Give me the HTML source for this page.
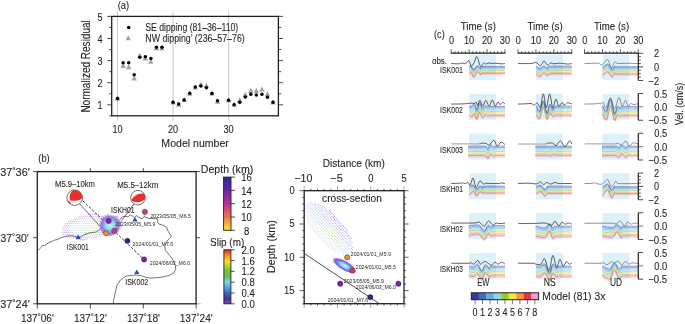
<!DOCTYPE html>
<html><head><meta charset="utf-8"><style>
html,body{margin:0;padding:0;background:#fff;width:685px;height:324px;overflow:hidden}
svg{display:block;will-change:transform}
text{font-family:"Liberation Sans", sans-serif;stroke:#231f20;stroke-width:0.1px}
</style></head><body>
<svg width="685" height="324" viewBox="0 0 685 324">
<rect width="685" height="324" fill="#fff"/>
<line x1="117.55" y1="11.50" x2="117.55" y2="120.60" stroke="#c4c4c4" stroke-width="0.9"/>
<line x1="173.08" y1="11.50" x2="173.08" y2="120.60" stroke="#c4c4c4" stroke-width="0.9"/>
<line x1="228.61" y1="11.50" x2="228.61" y2="120.60" stroke="#c4c4c4" stroke-width="0.9"/>
<line x1="107.20" y1="104.80" x2="111.70" y2="104.80" stroke="#231f20" stroke-width="0.8"/>
<line x1="107.20" y1="82.70" x2="111.70" y2="82.70" stroke="#231f20" stroke-width="0.8"/>
<line x1="107.20" y1="60.60" x2="111.70" y2="60.60" stroke="#231f20" stroke-width="0.8"/>
<line x1="107.20" y1="38.50" x2="111.70" y2="38.50" stroke="#231f20" stroke-width="0.8"/>
<line x1="107.20" y1="16.40" x2="111.70" y2="16.40" stroke="#231f20" stroke-width="0.8"/>
<line x1="109.20" y1="93.75" x2="111.70" y2="93.75" stroke="#231f20" stroke-width="0.8"/>
<line x1="109.20" y1="71.65" x2="111.70" y2="71.65" stroke="#231f20" stroke-width="0.8"/>
<line x1="109.20" y1="49.55" x2="111.70" y2="49.55" stroke="#231f20" stroke-width="0.8"/>
<line x1="109.20" y1="27.45" x2="111.70" y2="27.45" stroke="#231f20" stroke-width="0.8"/>
<line x1="109.20" y1="115.85" x2="111.70" y2="115.85" stroke="#231f20" stroke-width="0.8"/>
<line x1="278.40" y1="104.80" x2="283.00" y2="104.80" stroke="#231f20" stroke-width="0.8"/>
<line x1="278.40" y1="82.70" x2="283.00" y2="82.70" stroke="#231f20" stroke-width="0.8"/>
<line x1="278.40" y1="60.60" x2="283.00" y2="60.60" stroke="#231f20" stroke-width="0.8"/>
<line x1="278.40" y1="38.50" x2="283.00" y2="38.50" stroke="#231f20" stroke-width="0.8"/>
<line x1="278.40" y1="16.40" x2="283.00" y2="16.40" stroke="#231f20" stroke-width="0.8"/>
<line x1="278.40" y1="93.75" x2="281.20" y2="93.75" stroke="#231f20" stroke-width="0.8"/>
<line x1="278.40" y1="71.65" x2="281.20" y2="71.65" stroke="#231f20" stroke-width="0.8"/>
<line x1="278.40" y1="49.55" x2="281.20" y2="49.55" stroke="#231f20" stroke-width="0.8"/>
<line x1="278.40" y1="27.45" x2="281.20" y2="27.45" stroke="#231f20" stroke-width="0.8"/>
<rect x="111.70" y="16.40" width="166.70" height="99.40" fill="none" stroke="#231f20" stroke-width="1.3"/>
<text x="100.00" y="109.00" font-size="10.62" text-anchor="middle" fill="#231f20" textLength="5.01" lengthAdjust="spacingAndGlyphs">1</text>
<text x="100.00" y="86.90" font-size="10.62" text-anchor="middle" fill="#231f20" textLength="5.01" lengthAdjust="spacingAndGlyphs">2</text>
<text x="100.00" y="64.80" font-size="10.62" text-anchor="middle" fill="#231f20" textLength="5.01" lengthAdjust="spacingAndGlyphs">3</text>
<text x="100.00" y="42.70" font-size="10.62" text-anchor="middle" fill="#231f20" textLength="5.01" lengthAdjust="spacingAndGlyphs">4</text>
<text x="100.00" y="20.60" font-size="10.62" text-anchor="middle" fill="#231f20" textLength="5.01" lengthAdjust="spacingAndGlyphs">5</text>
<text x="117.55" y="132.50" font-size="10.62" text-anchor="middle" fill="#231f20" textLength="10.20" lengthAdjust="spacingAndGlyphs">10</text>
<text x="173.08" y="132.50" font-size="10.62" text-anchor="middle" fill="#231f20" textLength="10.20" lengthAdjust="spacingAndGlyphs">20</text>
<text x="228.61" y="132.50" font-size="10.62" text-anchor="middle" fill="#231f20" textLength="10.20" lengthAdjust="spacingAndGlyphs">30</text>
<text x="195.10" y="146.80" font-size="11.33" text-anchor="middle" fill="#231f20" textLength="67.50" lengthAdjust="spacingAndGlyphs">Model number</text>
<text x="89.60" y="66.40" font-size="12.15" text-anchor="middle" fill="#231f20" textLength="92.40" lengthAdjust="spacingAndGlyphs" transform="rotate(-90 89.60 66.40)">Normalized Residual</text>
<text x="123.40" y="8.70" font-size="11.09" text-anchor="middle" fill="#231f20" textLength="11.49" lengthAdjust="spacingAndGlyphs">(a)</text>
<path d="M117.55 95.31 L120.25 100.44 L114.85 100.44 Z" fill="#a3a3a3"/>
<path d="M123.10 62.83 L125.80 67.96 L120.40 67.96 Z" fill="#a3a3a3"/>
<path d="M128.66 64.15 L131.36 69.28 L125.96 69.28 Z" fill="#a3a3a3"/>
<path d="M134.21 75.42 L136.91 80.55 L131.51 80.55 Z" fill="#a3a3a3"/>
<path d="M139.76 52.66 L142.46 57.79 L137.06 57.79 Z" fill="#a3a3a3"/>
<path d="M145.31 55.31 L148.01 60.44 L142.62 60.44 Z" fill="#a3a3a3"/>
<path d="M150.87 58.63 L153.57 63.76 L148.17 63.76 Z" fill="#a3a3a3"/>
<path d="M156.42 45.37 L159.12 50.50 L153.72 50.50 Z" fill="#a3a3a3"/>
<path d="M161.97 45.37 L164.67 50.50 L159.27 50.50 Z" fill="#a3a3a3"/>
<path d="M173.08 99.29 L175.78 104.42 L170.38 104.42 Z" fill="#a3a3a3"/>
<path d="M178.63 101.72 L181.33 106.85 L175.93 106.85 Z" fill="#a3a3a3"/>
<path d="M184.19 96.86 L186.89 101.99 L181.49 101.99 Z" fill="#a3a3a3"/>
<path d="M189.74 90.67 L192.44 95.80 L187.04 95.80 Z" fill="#a3a3a3"/>
<path d="M195.29 84.48 L197.99 89.61 L192.59 89.61 Z" fill="#a3a3a3"/>
<path d="M200.84 81.39 L203.54 86.52 L198.15 86.52 Z" fill="#a3a3a3"/>
<path d="M206.40 82.72 L209.10 87.85 L203.70 87.85 Z" fill="#a3a3a3"/>
<path d="M211.95 90.45 L214.65 95.58 L209.25 95.58 Z" fill="#a3a3a3"/>
<path d="M217.50 98.63 L220.20 103.76 L214.80 103.76 Z" fill="#a3a3a3"/>
<path d="M228.61 97.08 L231.31 102.21 L225.91 102.21 Z" fill="#a3a3a3"/>
<path d="M234.16 101.72 L236.86 106.85 L231.46 106.85 Z" fill="#a3a3a3"/>
<path d="M239.72 97.30 L242.42 102.43 L237.02 102.43 Z" fill="#a3a3a3"/>
<path d="M245.27 91.78 L247.97 96.91 L242.57 96.91 Z" fill="#a3a3a3"/>
<path d="M250.82 87.80 L253.52 92.93 L248.12 92.93 Z" fill="#a3a3a3"/>
<path d="M256.38 87.80 L259.07 92.93 L253.68 92.93 Z" fill="#a3a3a3"/>
<path d="M261.93 86.47 L264.63 91.60 L259.23 91.60 Z" fill="#a3a3a3"/>
<path d="M267.48 91.11 L270.18 96.24 L264.78 96.24 Z" fill="#a3a3a3"/>
<path d="M273.03 99.29 L275.73 104.42 L270.33 104.42 Z" fill="#a3a3a3"/>
<circle cx="117.55" cy="98.39" r="1.75" fill="#000"/>
<circle cx="123.10" cy="62.81" r="1.75" fill="#000"/>
<circle cx="128.66" cy="62.81" r="1.75" fill="#000"/>
<circle cx="134.21" cy="74.74" r="1.75" fill="#000"/>
<circle cx="139.76" cy="57.29" r="1.75" fill="#000"/>
<circle cx="145.31" cy="56.84" r="1.75" fill="#000"/>
<circle cx="150.87" cy="58.39" r="1.75" fill="#000"/>
<circle cx="156.42" cy="47.34" r="1.75" fill="#000"/>
<circle cx="161.97" cy="47.34" r="1.75" fill="#000"/>
<circle cx="173.08" cy="102.37" r="1.75" fill="#000"/>
<circle cx="178.63" cy="103.92" r="1.75" fill="#000"/>
<circle cx="184.19" cy="99.94" r="1.75" fill="#000"/>
<circle cx="189.74" cy="93.31" r="1.75" fill="#000"/>
<circle cx="195.29" cy="87.12" r="1.75" fill="#000"/>
<circle cx="200.84" cy="86.02" r="1.75" fill="#000"/>
<circle cx="206.40" cy="87.78" r="1.75" fill="#000"/>
<circle cx="211.95" cy="93.53" r="1.75" fill="#000"/>
<circle cx="217.50" cy="100.82" r="1.75" fill="#000"/>
<circle cx="228.61" cy="100.16" r="1.75" fill="#000"/>
<circle cx="234.16" cy="104.80" r="1.75" fill="#000"/>
<circle cx="239.72" cy="102.37" r="1.75" fill="#000"/>
<circle cx="245.27" cy="97.06" r="1.75" fill="#000"/>
<circle cx="250.82" cy="94.19" r="1.75" fill="#000"/>
<circle cx="256.38" cy="95.08" r="1.75" fill="#000"/>
<circle cx="261.93" cy="94.19" r="1.75" fill="#000"/>
<circle cx="267.48" cy="97.29" r="1.75" fill="#000"/>
<circle cx="273.03" cy="102.37" r="1.75" fill="#000"/>
<circle cx="128.70" cy="27.60" r="1.75" fill="#000"/>
<path d="M128.20 35.22 L130.90 40.35 L125.50 40.35 Z" fill="#a3a3a3"/>
<text x="145.30" y="30.80" font-size="10.62" text-anchor="start" fill="#231f20" textLength="92.90" lengthAdjust="spacingAndGlyphs">SE dipping (81–36–110)</text>
<text x="145.30" y="41.70" font-size="10.62" text-anchor="start" fill="#231f20" textLength="99.40" lengthAdjust="spacingAndGlyphs">NW dipping’ (236–57–76)</text>
<defs>
<radialGradient id="slipblob" cx="0.5" cy="0.5" r="0.5">
 <stop offset="0" stop-color="#c0f0f6"/>
 <stop offset="0.35" stop-color="#9cdcf0"/>
 <stop offset="0.55" stop-color="#80b0e4"/>
 <stop offset="0.68" stop-color="#8a86dc"/>
 <stop offset="0.8" stop-color="#a470dc" stop-opacity="0.85"/>
 <stop offset="0.9" stop-color="#c090e8" stop-opacity="0.5"/>
 <stop offset="1" stop-color="#e0c0f4" stop-opacity="0"/>
</radialGradient>
<linearGradient id="depthcb" x1="0" y1="0" x2="0" y2="1">
 <stop offset="0" stop-color="#2a2c8c"/>
 <stop offset="0.2" stop-color="#5a24a4"/>
 <stop offset="0.4" stop-color="#9a2ca4"/>
 <stop offset="0.55" stop-color="#c83a86"/>
 <stop offset="0.75" stop-color="#f07a50"/>
 <stop offset="1" stop-color="#fde434"/>
</linearGradient>
<linearGradient id="slipcb" x1="0" y1="0" x2="0" y2="1">
 <stop offset="0" stop-color="#e8202a"/>
 <stop offset="0.1" stop-color="#f48a26"/>
 <stop offset="0.22" stop-color="#f4e030"/>
 <stop offset="0.38" stop-color="#7cc42a"/>
 <stop offset="0.5" stop-color="#5cc060"/>
 <stop offset="0.6" stop-color="#7ed8e0"/>
 <stop offset="0.7" stop-color="#4aa8e0"/>
 <stop offset="0.82" stop-color="#3a5cb8"/>
 <stop offset="0.92" stop-color="#3a3a9a"/>
 <stop offset="1" stop-color="#9a3ac8"/>
</linearGradient>
</defs>
<g><circle cx="62.8" cy="228.8" r="0.55" fill="#b468d8" fill-opacity="0.75"/><circle cx="62.8" cy="232.4" r="0.55" fill="#b468d8" fill-opacity="0.75"/><circle cx="64.8" cy="225.2" r="0.55" fill="#b468d8" fill-opacity="0.75"/><circle cx="63.8" cy="227.0" r="0.55" fill="#b468d8" fill-opacity="0.75"/><circle cx="64.8" cy="228.8" r="0.55" fill="#b468d8" fill-opacity="0.75"/><circle cx="63.8" cy="230.6" r="0.55" fill="#b468d8" fill-opacity="0.75"/><circle cx="64.8" cy="232.4" r="0.55" fill="#b468d8" fill-opacity="0.75"/><circle cx="63.8" cy="234.2" r="0.55" fill="#b468d8" fill-opacity="0.75"/><circle cx="65.8" cy="223.4" r="0.55" fill="#b468d8" fill-opacity="0.75"/><circle cx="66.8" cy="225.2" r="0.55" fill="#b468d8" fill-opacity="0.75"/><circle cx="65.8" cy="227.0" r="0.55" fill="#b468d8" fill-opacity="0.75"/><circle cx="66.8" cy="228.8" r="0.55" fill="#b468d8" fill-opacity="0.75"/><circle cx="65.8" cy="230.6" r="0.55" fill="#b468d8" fill-opacity="0.75"/><circle cx="66.8" cy="232.4" r="0.55" fill="#b468d8" fill-opacity="0.75"/><circle cx="65.8" cy="234.2" r="0.55" fill="#b468d8" fill-opacity="0.75"/><circle cx="66.8" cy="236.0" r="0.55" fill="#b468d8" fill-opacity="0.75"/><circle cx="68.8" cy="221.6" r="0.55" fill="#b468d8" fill-opacity="0.75"/><circle cx="67.8" cy="223.4" r="0.55" fill="#b468d8" fill-opacity="0.75"/><circle cx="68.8" cy="225.2" r="0.55" fill="#b468d8" fill-opacity="0.75"/><circle cx="67.8" cy="227.0" r="0.55" fill="#b468d8" fill-opacity="0.75"/><circle cx="68.8" cy="228.8" r="0.55" fill="#9c9ce0" fill-opacity="0.6"/><circle cx="67.8" cy="230.6" r="0.55" fill="#b468d8" fill-opacity="0.75"/><circle cx="68.8" cy="232.4" r="0.55" fill="#b468d8" fill-opacity="0.75"/><circle cx="67.8" cy="234.2" r="0.55" fill="#b468d8" fill-opacity="0.75"/><circle cx="68.8" cy="236.0" r="0.55" fill="#b468d8" fill-opacity="0.75"/><circle cx="70.8" cy="221.6" r="0.55" fill="#b468d8" fill-opacity="0.75"/><circle cx="69.8" cy="223.4" r="0.55" fill="#b468d8" fill-opacity="0.75"/><circle cx="70.8" cy="225.2" r="0.55" fill="#9c9ce0" fill-opacity="0.6"/><circle cx="69.8" cy="227.0" r="0.55" fill="#9c9ce0" fill-opacity="0.6"/><circle cx="70.8" cy="228.8" r="0.55" fill="#9c9ce0" fill-opacity="0.6"/><circle cx="69.8" cy="230.6" r="0.55" fill="#9c9ce0" fill-opacity="0.6"/><circle cx="70.8" cy="232.4" r="0.55" fill="#9c9ce0" fill-opacity="0.6"/><circle cx="69.8" cy="234.2" r="0.55" fill="#b468d8" fill-opacity="0.75"/><circle cx="70.8" cy="236.0" r="0.55" fill="#b468d8" fill-opacity="0.75"/><circle cx="69.8" cy="237.8" r="0.55" fill="#b468d8" fill-opacity="0.75"/><circle cx="71.8" cy="219.8" r="0.55" fill="#b468d8" fill-opacity="0.75"/><circle cx="72.8" cy="221.6" r="0.55" fill="#b468d8" fill-opacity="0.75"/><circle cx="71.8" cy="223.4" r="0.55" fill="#9c9ce0" fill-opacity="0.6"/><circle cx="72.8" cy="225.2" r="0.55" fill="#9c9ce0" fill-opacity="0.6"/><circle cx="71.8" cy="227.0" r="0.55" fill="#9c9ce0" fill-opacity="0.6"/><circle cx="72.8" cy="228.8" r="0.55" fill="#88c4ec" fill-opacity="0.55"/><circle cx="71.8" cy="230.6" r="0.55" fill="#9c9ce0" fill-opacity="0.6"/><circle cx="72.8" cy="232.4" r="0.55" fill="#9c9ce0" fill-opacity="0.6"/><circle cx="71.8" cy="234.2" r="0.55" fill="#9c9ce0" fill-opacity="0.6"/><circle cx="72.8" cy="236.0" r="0.55" fill="#b468d8" fill-opacity="0.75"/><circle cx="71.8" cy="237.8" r="0.55" fill="#b468d8" fill-opacity="0.75"/><circle cx="74.8" cy="218.0" r="0.55" fill="#b468d8" fill-opacity="0.75"/><circle cx="73.8" cy="219.8" r="0.55" fill="#b468d8" fill-opacity="0.75"/><circle cx="74.8" cy="221.6" r="0.55" fill="#9c9ce0" fill-opacity="0.6"/><circle cx="73.8" cy="223.4" r="0.55" fill="#9c9ce0" fill-opacity="0.6"/><circle cx="74.8" cy="225.2" r="0.55" fill="#88c4ec" fill-opacity="0.55"/><circle cx="73.8" cy="227.0" r="0.55" fill="#88c4ec" fill-opacity="0.55"/><circle cx="74.8" cy="228.8" r="0.55" fill="#88c4ec" fill-opacity="0.55"/><circle cx="73.8" cy="230.6" r="0.55" fill="#88c4ec" fill-opacity="0.55"/><circle cx="74.8" cy="232.4" r="0.55" fill="#88c4ec" fill-opacity="0.55"/><circle cx="73.8" cy="234.2" r="0.55" fill="#9c9ce0" fill-opacity="0.6"/><circle cx="74.8" cy="236.0" r="0.55" fill="#b468d8" fill-opacity="0.75"/><circle cx="73.8" cy="237.8" r="0.55" fill="#b468d8" fill-opacity="0.75"/><circle cx="76.8" cy="218.0" r="0.55" fill="#b468d8" fill-opacity="0.75"/><circle cx="75.8" cy="219.8" r="0.55" fill="#b468d8" fill-opacity="0.75"/><circle cx="76.8" cy="221.6" r="0.55" fill="#9c9ce0" fill-opacity="0.6"/><circle cx="75.8" cy="223.4" r="0.55" fill="#88c4ec" fill-opacity="0.55"/><circle cx="76.8" cy="225.2" r="0.55" fill="#88c4ec" fill-opacity="0.55"/><circle cx="75.8" cy="227.0" r="0.55" fill="#88c4ec" fill-opacity="0.55"/><circle cx="76.8" cy="228.8" r="0.55" fill="#88c4ec" fill-opacity="0.55"/><circle cx="75.8" cy="230.6" r="0.55" fill="#88c4ec" fill-opacity="0.55"/><circle cx="76.8" cy="232.4" r="0.55" fill="#88c4ec" fill-opacity="0.55"/><circle cx="75.8" cy="234.2" r="0.55" fill="#9c9ce0" fill-opacity="0.6"/><circle cx="76.8" cy="236.0" r="0.55" fill="#9c9ce0" fill-opacity="0.6"/><circle cx="75.8" cy="237.8" r="0.55" fill="#b468d8" fill-opacity="0.75"/><circle cx="76.8" cy="239.6" r="0.55" fill="#b468d8" fill-opacity="0.75"/><circle cx="78.8" cy="218.0" r="0.55" fill="#b468d8" fill-opacity="0.75"/><circle cx="77.8" cy="219.8" r="0.55" fill="#9c9ce0" fill-opacity="0.6"/><circle cx="78.8" cy="221.6" r="0.55" fill="#88c4ec" fill-opacity="0.55"/><circle cx="77.8" cy="223.4" r="0.55" fill="#88c4ec" fill-opacity="0.55"/><circle cx="78.8" cy="225.2" r="0.55" fill="#88c4ec" fill-opacity="0.55"/><circle cx="77.8" cy="227.0" r="0.55" fill="#88c4ec" fill-opacity="0.55"/><circle cx="78.8" cy="228.8" r="0.55" fill="#88c4ec" fill-opacity="0.55"/><circle cx="77.8" cy="230.6" r="0.55" fill="#88c4ec" fill-opacity="0.55"/><circle cx="78.8" cy="232.4" r="0.55" fill="#88c4ec" fill-opacity="0.55"/><circle cx="77.8" cy="234.2" r="0.55" fill="#9c9ce0" fill-opacity="0.6"/><circle cx="78.8" cy="236.0" r="0.55" fill="#9c9ce0" fill-opacity="0.6"/><circle cx="77.8" cy="237.8" r="0.55" fill="#b468d8" fill-opacity="0.75"/><circle cx="78.8" cy="239.6" r="0.55" fill="#b468d8" fill-opacity="0.75"/><circle cx="79.8" cy="216.2" r="0.55" fill="#b468d8" fill-opacity="0.75"/><circle cx="80.8" cy="218.0" r="0.55" fill="#b468d8" fill-opacity="0.75"/><circle cx="79.8" cy="219.8" r="0.55" fill="#9c9ce0" fill-opacity="0.6"/><circle cx="80.8" cy="221.6" r="0.55" fill="#88c4ec" fill-opacity="0.55"/><circle cx="79.8" cy="223.4" r="0.55" fill="#88c4ec" fill-opacity="0.55"/><circle cx="80.8" cy="225.2" r="0.55" fill="#88c4ec" fill-opacity="0.55"/><circle cx="79.8" cy="227.0" r="0.55" fill="#88c4ec" fill-opacity="0.55"/><circle cx="80.8" cy="228.8" r="0.55" fill="#88c4ec" fill-opacity="0.55"/><circle cx="79.8" cy="230.6" r="0.55" fill="#88c4ec" fill-opacity="0.55"/><circle cx="80.8" cy="232.4" r="0.55" fill="#88c4ec" fill-opacity="0.55"/><circle cx="79.8" cy="234.2" r="0.55" fill="#88c4ec" fill-opacity="0.55"/><circle cx="80.8" cy="236.0" r="0.55" fill="#9c9ce0" fill-opacity="0.6"/><circle cx="79.8" cy="237.8" r="0.55" fill="#b468d8" fill-opacity="0.75"/><circle cx="80.8" cy="239.6" r="0.55" fill="#b468d8" fill-opacity="0.75"/><circle cx="81.8" cy="216.2" r="0.55" fill="#b468d8" fill-opacity="0.75"/><circle cx="82.8" cy="218.0" r="0.55" fill="#b468d8" fill-opacity="0.75"/><circle cx="81.8" cy="219.8" r="0.55" fill="#9c9ce0" fill-opacity="0.6"/><circle cx="82.8" cy="221.6" r="0.55" fill="#88c4ec" fill-opacity="0.55"/><circle cx="81.8" cy="223.4" r="0.55" fill="#88c4ec" fill-opacity="0.55"/><circle cx="82.8" cy="225.2" r="0.55" fill="#88c4ec" fill-opacity="0.55"/><circle cx="81.8" cy="227.0" r="0.55" fill="#88c4ec" fill-opacity="0.55"/><circle cx="82.8" cy="228.8" r="0.55" fill="#88c4ec" fill-opacity="0.55"/><circle cx="81.8" cy="230.6" r="0.55" fill="#88c4ec" fill-opacity="0.55"/><circle cx="82.8" cy="232.4" r="0.55" fill="#88c4ec" fill-opacity="0.55"/><circle cx="81.8" cy="234.2" r="0.55" fill="#88c4ec" fill-opacity="0.55"/><circle cx="82.8" cy="236.0" r="0.55" fill="#9c9ce0" fill-opacity="0.6"/><circle cx="81.8" cy="237.8" r="0.55" fill="#b468d8" fill-opacity="0.75"/><circle cx="82.8" cy="239.6" r="0.55" fill="#b468d8" fill-opacity="0.75"/><circle cx="83.8" cy="216.2" r="0.55" fill="#b468d8" fill-opacity="0.75"/><circle cx="84.8" cy="218.0" r="0.55" fill="#9c9ce0" fill-opacity="0.6"/><circle cx="83.8" cy="219.8" r="0.55" fill="#9c9ce0" fill-opacity="0.6"/><circle cx="84.8" cy="221.6" r="0.55" fill="#9ccc78" fill-opacity="0.6"/><circle cx="83.8" cy="223.4" r="0.55" fill="#88c4ec" fill-opacity="0.55"/><circle cx="84.8" cy="225.2" r="0.55" fill="#9ccc78" fill-opacity="0.6"/><circle cx="83.8" cy="227.0" r="0.55" fill="#88c4ec" fill-opacity="0.55"/><circle cx="84.8" cy="228.8" r="0.55" fill="#9ccc78" fill-opacity="0.6"/><circle cx="83.8" cy="230.6" r="0.55" fill="#88c4ec" fill-opacity="0.55"/><circle cx="84.8" cy="232.4" r="0.55" fill="#9ccc78" fill-opacity="0.6"/><circle cx="83.8" cy="234.2" r="0.55" fill="#88c4ec" fill-opacity="0.55"/><circle cx="84.8" cy="236.0" r="0.55" fill="#9c9ce0" fill-opacity="0.6"/><circle cx="83.8" cy="237.8" r="0.55" fill="#b468d8" fill-opacity="0.75"/><circle cx="84.8" cy="239.6" r="0.55" fill="#b468d8" fill-opacity="0.75"/><circle cx="85.8" cy="216.2" r="0.55" fill="#b468d8" fill-opacity="0.75"/><circle cx="86.8" cy="218.0" r="0.55" fill="#9c9ce0" fill-opacity="0.6"/><circle cx="85.8" cy="219.8" r="0.55" fill="#9ccc78" fill-opacity="0.6"/><circle cx="86.8" cy="221.6" r="0.55" fill="#9ccc78" fill-opacity="0.6"/><circle cx="85.8" cy="223.4" r="0.55" fill="#9ccc78" fill-opacity="0.6"/><circle cx="86.8" cy="225.2" r="0.55" fill="#9ccc78" fill-opacity="0.6"/><circle cx="85.8" cy="227.0" r="0.55" fill="#9ccc78" fill-opacity="0.6"/><circle cx="86.8" cy="228.8" r="0.55" fill="#9ccc78" fill-opacity="0.6"/><circle cx="85.8" cy="230.6" r="0.55" fill="#9ccc78" fill-opacity="0.6"/><circle cx="86.8" cy="232.4" r="0.55" fill="#9ccc78" fill-opacity="0.6"/><circle cx="85.8" cy="234.2" r="0.55" fill="#9ccc78" fill-opacity="0.6"/><circle cx="86.8" cy="236.0" r="0.55" fill="#9c9ce0" fill-opacity="0.6"/><circle cx="85.8" cy="237.8" r="0.55" fill="#b468d8" fill-opacity="0.75"/><circle cx="86.8" cy="239.6" r="0.55" fill="#b468d8" fill-opacity="0.75"/><circle cx="88.8" cy="214.4" r="0.55" fill="#b468d8" fill-opacity="0.75"/><circle cx="87.8" cy="216.2" r="0.55" fill="#b468d8" fill-opacity="0.75"/><circle cx="88.8" cy="218.0" r="0.55" fill="#9c9ce0" fill-opacity="0.6"/><circle cx="87.8" cy="219.8" r="0.55" fill="#9ccc78" fill-opacity="0.6"/><circle cx="88.8" cy="221.6" r="0.55" fill="#9ccc78" fill-opacity="0.6"/><circle cx="87.8" cy="223.4" r="0.55" fill="#9ccc78" fill-opacity="0.6"/><circle cx="88.8" cy="225.2" r="0.55" fill="#9ccc78" fill-opacity="0.6"/><circle cx="87.8" cy="227.0" r="0.55" fill="#9ccc78" fill-opacity="0.6"/><circle cx="88.8" cy="228.8" r="0.55" fill="#9ccc78" fill-opacity="0.6"/><circle cx="87.8" cy="230.6" r="0.55" fill="#9ccc78" fill-opacity="0.6"/><circle cx="88.8" cy="232.4" r="0.55" fill="#9ccc78" fill-opacity="0.6"/><circle cx="87.8" cy="234.2" r="0.55" fill="#9ccc78" fill-opacity="0.6"/><circle cx="88.8" cy="236.0" r="0.55" fill="#9c9ce0" fill-opacity="0.6"/><circle cx="87.8" cy="237.8" r="0.55" fill="#b468d8" fill-opacity="0.75"/><circle cx="90.8" cy="214.4" r="0.55" fill="#b468d8" fill-opacity="0.75"/><circle cx="89.8" cy="216.2" r="0.55" fill="#b468d8" fill-opacity="0.75"/><circle cx="90.8" cy="218.0" r="0.55" fill="#9c9ce0" fill-opacity="0.6"/><circle cx="89.8" cy="219.8" r="0.55" fill="#9ccc78" fill-opacity="0.6"/><circle cx="90.8" cy="221.6" r="0.55" fill="#9ccc78" fill-opacity="0.6"/><circle cx="89.8" cy="223.4" r="0.55" fill="#9ccc78" fill-opacity="0.6"/><circle cx="90.8" cy="225.2" r="0.55" fill="#9ccc78" fill-opacity="0.6"/><circle cx="89.8" cy="227.0" r="0.55" fill="#9ccc78" fill-opacity="0.6"/><circle cx="90.8" cy="228.8" r="0.55" fill="#9ccc78" fill-opacity="0.6"/><circle cx="89.8" cy="230.6" r="0.55" fill="#9ccc78" fill-opacity="0.6"/><circle cx="90.8" cy="232.4" r="0.55" fill="#9ccc78" fill-opacity="0.6"/><circle cx="89.8" cy="234.2" r="0.55" fill="#9ccc78" fill-opacity="0.6"/><circle cx="90.8" cy="236.0" r="0.55" fill="#9c9ce0" fill-opacity="0.6"/><circle cx="89.8" cy="237.8" r="0.55" fill="#b468d8" fill-opacity="0.75"/><circle cx="92.8" cy="214.4" r="0.55" fill="#b468d8" fill-opacity="0.75"/><circle cx="91.8" cy="216.2" r="0.55" fill="#b468d8" fill-opacity="0.75"/><circle cx="92.8" cy="218.0" r="0.55" fill="#9c9ce0" fill-opacity="0.6"/><circle cx="91.8" cy="219.8" r="0.55" fill="#9ccc78" fill-opacity="0.6"/><circle cx="92.8" cy="221.6" r="0.55" fill="#9ccc78" fill-opacity="0.6"/><circle cx="91.8" cy="223.4" r="0.55" fill="#9ccc78" fill-opacity="0.6"/><circle cx="92.8" cy="225.2" r="0.55" fill="#9ccc78" fill-opacity="0.6"/><circle cx="91.8" cy="227.0" r="0.55" fill="#9ccc78" fill-opacity="0.6"/><circle cx="92.8" cy="228.8" r="0.55" fill="#9ccc78" fill-opacity="0.6"/><circle cx="91.8" cy="230.6" r="0.55" fill="#9ccc78" fill-opacity="0.6"/><circle cx="92.8" cy="232.4" r="0.55" fill="#9ccc78" fill-opacity="0.6"/><circle cx="91.8" cy="234.2" r="0.55" fill="#9c9ce0" fill-opacity="0.6"/><circle cx="92.8" cy="236.0" r="0.55" fill="#b468d8" fill-opacity="0.75"/><circle cx="91.8" cy="237.8" r="0.55" fill="#b468d8" fill-opacity="0.75"/><circle cx="94.8" cy="214.4" r="0.55" fill="#b468d8" fill-opacity="0.75"/><circle cx="93.8" cy="216.2" r="0.55" fill="#b468d8" fill-opacity="0.75"/><circle cx="94.8" cy="218.0" r="0.55" fill="#9c9ce0" fill-opacity="0.6"/><circle cx="93.8" cy="219.8" r="0.55" fill="#9ccc78" fill-opacity="0.6"/><circle cx="94.8" cy="221.6" r="0.55" fill="#9ccc78" fill-opacity="0.6"/><circle cx="93.8" cy="223.4" r="0.55" fill="#9ccc78" fill-opacity="0.6"/><circle cx="94.8" cy="225.2" r="0.55" fill="#9ccc78" fill-opacity="0.6"/><circle cx="93.8" cy="227.0" r="0.55" fill="#9ccc78" fill-opacity="0.6"/><circle cx="94.8" cy="228.8" r="0.55" fill="#9ccc78" fill-opacity="0.6"/><circle cx="93.8" cy="230.6" r="0.55" fill="#9ccc78" fill-opacity="0.6"/><circle cx="94.8" cy="232.4" r="0.55" fill="#9ccc78" fill-opacity="0.6"/><circle cx="93.8" cy="234.2" r="0.55" fill="#9c9ce0" fill-opacity="0.6"/><circle cx="94.8" cy="236.0" r="0.55" fill="#b468d8" fill-opacity="0.75"/><circle cx="93.8" cy="237.8" r="0.55" fill="#b468d8" fill-opacity="0.75"/><circle cx="96.8" cy="214.4" r="0.55" fill="#b468d8" fill-opacity="0.75"/><circle cx="95.8" cy="216.2" r="0.55" fill="#b468d8" fill-opacity="0.75"/><circle cx="96.8" cy="218.0" r="0.55" fill="#9c9ce0" fill-opacity="0.6"/><circle cx="95.8" cy="219.8" r="0.55" fill="#9ccc78" fill-opacity="0.6"/><circle cx="96.8" cy="221.6" r="0.55" fill="#9ccc78" fill-opacity="0.6"/><circle cx="95.8" cy="223.4" r="0.55" fill="#9ccc78" fill-opacity="0.6"/><circle cx="96.8" cy="225.2" r="0.55" fill="#9ccc78" fill-opacity="0.6"/><circle cx="95.8" cy="227.0" r="0.55" fill="#9ccc78" fill-opacity="0.6"/><circle cx="96.8" cy="228.8" r="0.55" fill="#9ccc78" fill-opacity="0.6"/><circle cx="95.8" cy="230.6" r="0.55" fill="#9ccc78" fill-opacity="0.6"/><circle cx="96.8" cy="232.4" r="0.55" fill="#9ccc78" fill-opacity="0.6"/><circle cx="95.8" cy="234.2" r="0.55" fill="#9c9ce0" fill-opacity="0.6"/><circle cx="96.8" cy="236.0" r="0.55" fill="#b468d8" fill-opacity="0.75"/><circle cx="95.8" cy="237.8" r="0.55" fill="#b468d8" fill-opacity="0.75"/><circle cx="98.8" cy="214.4" r="0.55" fill="#b468d8" fill-opacity="0.75"/><circle cx="97.8" cy="216.2" r="0.55" fill="#b468d8" fill-opacity="0.75"/><circle cx="98.8" cy="218.0" r="0.55" fill="#9c9ce0" fill-opacity="0.6"/><circle cx="97.8" cy="219.8" r="0.55" fill="#9c9ce0" fill-opacity="0.6"/><circle cx="98.8" cy="221.6" r="0.55" fill="#9ccc78" fill-opacity="0.6"/><circle cx="97.8" cy="223.4" r="0.55" fill="#9ccc78" fill-opacity="0.6"/><circle cx="98.8" cy="225.2" r="0.55" fill="#9ccc78" fill-opacity="0.6"/><circle cx="97.8" cy="227.0" r="0.55" fill="#9ccc78" fill-opacity="0.6"/><circle cx="98.8" cy="228.8" r="0.55" fill="#9ccc78" fill-opacity="0.6"/><circle cx="97.8" cy="230.6" r="0.55" fill="#9ccc78" fill-opacity="0.6"/><circle cx="98.8" cy="232.4" r="0.55" fill="#9c9ce0" fill-opacity="0.6"/><circle cx="97.8" cy="234.2" r="0.55" fill="#9c9ce0" fill-opacity="0.6"/><circle cx="98.8" cy="236.0" r="0.55" fill="#b468d8" fill-opacity="0.75"/><circle cx="99.8" cy="216.2" r="0.55" fill="#b468d8" fill-opacity="0.75"/><circle cx="100.8" cy="218.0" r="0.55" fill="#b468d8" fill-opacity="0.75"/><circle cx="99.8" cy="219.8" r="0.55" fill="#9c9ce0" fill-opacity="0.6"/><circle cx="100.8" cy="221.6" r="0.55" fill="#9ccc78" fill-opacity="0.6"/><circle cx="99.8" cy="223.4" r="0.55" fill="#9ccc78" fill-opacity="0.6"/><circle cx="100.8" cy="225.2" r="0.55" fill="#9ccc78" fill-opacity="0.6"/><circle cx="99.8" cy="227.0" r="0.55" fill="#9ccc78" fill-opacity="0.6"/><circle cx="100.8" cy="228.8" r="0.55" fill="#9ccc78" fill-opacity="0.6"/><circle cx="99.8" cy="230.6" r="0.55" fill="#9ccc78" fill-opacity="0.6"/><circle cx="100.8" cy="232.4" r="0.55" fill="#9c9ce0" fill-opacity="0.6"/><circle cx="99.8" cy="234.2" r="0.55" fill="#b468d8" fill-opacity="0.75"/><circle cx="100.8" cy="236.0" r="0.55" fill="#b468d8" fill-opacity="0.75"/><circle cx="101.8" cy="216.2" r="0.55" fill="#b468d8" fill-opacity="0.75"/><circle cx="102.8" cy="218.0" r="0.55" fill="#b468d8" fill-opacity="0.75"/><circle cx="101.8" cy="219.8" r="0.55" fill="#9c9ce0" fill-opacity="0.6"/><circle cx="102.8" cy="221.6" r="0.55" fill="#9c9ce0" fill-opacity="0.6"/><circle cx="101.8" cy="223.4" r="0.55" fill="#9ccc78" fill-opacity="0.6"/><circle cx="102.8" cy="225.2" r="0.55" fill="#9ccc78" fill-opacity="0.6"/><circle cx="101.8" cy="227.0" r="0.55" fill="#9ccc78" fill-opacity="0.6"/><circle cx="102.8" cy="228.8" r="0.55" fill="#9c9ce0" fill-opacity="0.6"/><circle cx="101.8" cy="230.6" r="0.55" fill="#9c9ce0" fill-opacity="0.6"/><circle cx="102.8" cy="232.4" r="0.55" fill="#b468d8" fill-opacity="0.75"/><circle cx="101.8" cy="234.2" r="0.55" fill="#b468d8" fill-opacity="0.75"/><circle cx="103.8" cy="216.2" r="0.55" fill="#b468d8" fill-opacity="0.75"/><circle cx="104.8" cy="218.0" r="0.55" fill="#b468d8" fill-opacity="0.75"/><circle cx="103.8" cy="219.8" r="0.55" fill="#9c9ce0" fill-opacity="0.6"/><circle cx="104.8" cy="221.6" r="0.55" fill="#9c9ce0" fill-opacity="0.6"/><circle cx="103.8" cy="223.4" r="0.55" fill="#9c9ce0" fill-opacity="0.6"/><circle cx="104.8" cy="225.2" r="0.55" fill="#9c9ce0" fill-opacity="0.6"/><circle cx="103.8" cy="227.0" r="0.55" fill="#9c9ce0" fill-opacity="0.6"/><circle cx="104.8" cy="228.8" r="0.55" fill="#9c9ce0" fill-opacity="0.6"/><circle cx="103.8" cy="230.6" r="0.55" fill="#9c9ce0" fill-opacity="0.6"/><circle cx="104.8" cy="232.4" r="0.55" fill="#b468d8" fill-opacity="0.75"/><circle cx="103.8" cy="234.2" r="0.55" fill="#b468d8" fill-opacity="0.75"/><circle cx="105.8" cy="216.2" r="0.55" fill="#b468d8" fill-opacity="0.75"/><circle cx="106.8" cy="218.0" r="0.55" fill="#b468d8" fill-opacity="0.75"/><circle cx="105.8" cy="219.8" r="0.55" fill="#b468d8" fill-opacity="0.75"/><circle cx="106.8" cy="221.6" r="0.55" fill="#b468d8" fill-opacity="0.75"/><circle cx="105.8" cy="223.4" r="0.55" fill="#9c9ce0" fill-opacity="0.6"/><circle cx="106.8" cy="225.2" r="0.55" fill="#9c9ce0" fill-opacity="0.6"/><circle cx="105.8" cy="227.0" r="0.55" fill="#9c9ce0" fill-opacity="0.6"/><circle cx="106.8" cy="228.8" r="0.55" fill="#b468d8" fill-opacity="0.75"/><circle cx="105.8" cy="230.6" r="0.55" fill="#b468d8" fill-opacity="0.75"/><circle cx="106.8" cy="232.4" r="0.55" fill="#b468d8" fill-opacity="0.75"/><circle cx="108.8" cy="218.0" r="0.55" fill="#b468d8" fill-opacity="0.75"/><circle cx="107.8" cy="219.8" r="0.55" fill="#b468d8" fill-opacity="0.75"/><circle cx="108.8" cy="221.6" r="0.55" fill="#b468d8" fill-opacity="0.75"/><circle cx="107.8" cy="223.4" r="0.55" fill="#b468d8" fill-opacity="0.75"/><circle cx="108.8" cy="225.2" r="0.55" fill="#b468d8" fill-opacity="0.75"/><circle cx="107.8" cy="227.0" r="0.55" fill="#b468d8" fill-opacity="0.75"/><circle cx="108.8" cy="228.8" r="0.55" fill="#b468d8" fill-opacity="0.75"/><circle cx="107.8" cy="230.6" r="0.55" fill="#b468d8" fill-opacity="0.75"/><circle cx="109.8" cy="219.8" r="0.55" fill="#b468d8" fill-opacity="0.75"/><circle cx="110.8" cy="221.6" r="0.55" fill="#b468d8" fill-opacity="0.75"/><circle cx="109.8" cy="223.4" r="0.55" fill="#b468d8" fill-opacity="0.75"/><circle cx="110.8" cy="225.2" r="0.55" fill="#b468d8" fill-opacity="0.75"/><circle cx="109.8" cy="227.0" r="0.55" fill="#b468d8" fill-opacity="0.75"/><circle cx="110.8" cy="228.8" r="0.55" fill="#b468d8" fill-opacity="0.75"/><circle cx="109.8" cy="230.6" r="0.55" fill="#b468d8" fill-opacity="0.75"/><circle cx="111.8" cy="219.8" r="0.55" fill="#b468d8" fill-opacity="0.75"/><circle cx="112.8" cy="221.6" r="0.55" fill="#b468d8" fill-opacity="0.75"/><circle cx="111.8" cy="223.4" r="0.55" fill="#b468d8" fill-opacity="0.75"/><circle cx="112.8" cy="225.2" r="0.55" fill="#b468d8" fill-opacity="0.75"/><circle cx="111.8" cy="227.0" r="0.55" fill="#b468d8" fill-opacity="0.75"/></g>
<path d="M37.30 250.30 L38.20 250.30 L40.90 247.60 L42.50 245.40 L44.60 245.70 L46.80 244.00 L49.00 242.50 L52.20 241.40 L54.90 240.00 L57.60 239.50 L60.90 237.80 L64.10 236.80 L68.40 236.00 L71.70 235.70 L74.40 236.20 L77.10 237.10 L80.30 236.80 L83.60 235.10 L86.80 233.80 L90.10 232.80 L93.30 232.40 L96.00 232.10 L98.50 230.60 L101.00 228.00 L104.00 226.50 L108.00 225.50 L113.00 224.50 L116.50 222.80 L119.00 220.80 L122.30 216.80 L125.00 216.20 L127.70 216.80 L130.40 215.10 L132.60 216.20 L134.50 217.50 L136.20 215.50 L138.70 217.30 L142.40 218.80 L144.30 216.70 L146.10 217.30 L149.80 218.60 L157.20 218.60 L157.80 220.40 L157.20 222.30 L159.10 224.10 L163.40 225.40 L166.50 227.20 L168.30 231.50 L170.20 234.60 L171.40 236.30 L170.00 237.60 L167.00 241.20 L164.70 245.80 L165.40 250.40 L169.30 255.00 L173.10 260.40 L175.40 265.80 L175.70 269.70 L173.90 272.80 L169.30 275.40 L160.00 277.40 L150.80 278.10 L146.20 277.40 L141.50 275.80 L136.50 275.00 L133.50 275.20 L126.10 276.10 L120.60 279.80 L116.90 285.40 L115.00 293.70 L113.60 300.50 L113.40 303.80" stroke="#3a3a3a" stroke-width="0.7" fill="none" stroke-linejoin="round"/>
<line x1="79.70" y1="203.80" x2="106.00" y2="233.00" stroke="#3a3a3a" stroke-width="0.7"/>
<line x1="134.20" y1="203.60" x2="114.50" y2="230.50" stroke="#3a3a3a" stroke-width="0.7"/>
<line x1="82.80" y1="200.80" x2="143.60" y2="259.20" stroke="#231f20" stroke-width="0.9" stroke-dasharray="2.6 1.6"/>
<circle cx="110.0" cy="225.4" r="11.4" fill="url(#slipblob)"/>
<g><circle cx="110.8" cy="235.5" r="0.5" fill="#a060d8" fill-opacity="0.6"/><circle cx="103.0" cy="232.9" r="0.5" fill="#a060d8" fill-opacity="0.6"/><circle cx="103.8" cy="219.2" r="0.5" fill="#a060d8" fill-opacity="0.6"/><circle cx="120.9" cy="226.3" r="0.5" fill="#a060d8" fill-opacity="0.6"/><circle cx="109.5" cy="234.6" r="0.5" fill="#a060d8" fill-opacity="0.6"/><circle cx="119.9" cy="225.1" r="0.5" fill="#a060d8" fill-opacity="0.6"/><circle cx="115.1" cy="216.9" r="0.5" fill="#a060d8" fill-opacity="0.6"/><circle cx="104.2" cy="218.5" r="0.5" fill="#a060d8" fill-opacity="0.6"/><circle cx="102.7" cy="217.1" r="0.5" fill="#a060d8" fill-opacity="0.6"/><circle cx="99.4" cy="223.9" r="0.5" fill="#a060d8" fill-opacity="0.6"/><circle cx="105.8" cy="217.7" r="0.5" fill="#a060d8" fill-opacity="0.6"/><circle cx="110.5" cy="215.2" r="0.5" fill="#a060d8" fill-opacity="0.6"/><circle cx="107.2" cy="233.6" r="0.5" fill="#a060d8" fill-opacity="0.6"/><circle cx="116.6" cy="218.0" r="0.5" fill="#a060d8" fill-opacity="0.6"/><circle cx="107.8" cy="214.6" r="0.5" fill="#a060d8" fill-opacity="0.6"/><circle cx="107.5" cy="214.5" r="0.5" fill="#a060d8" fill-opacity="0.6"/><circle cx="101.4" cy="232.0" r="0.5" fill="#a060d8" fill-opacity="0.6"/><circle cx="99.5" cy="229.2" r="0.5" fill="#a060d8" fill-opacity="0.6"/><circle cx="116.4" cy="219.3" r="0.5" fill="#a060d8" fill-opacity="0.6"/><circle cx="116.0" cy="232.3" r="0.5" fill="#a060d8" fill-opacity="0.6"/><circle cx="119.6" cy="223.3" r="0.5" fill="#a060d8" fill-opacity="0.6"/><circle cx="103.4" cy="218.7" r="0.5" fill="#a060d8" fill-opacity="0.6"/><circle cx="100.3" cy="225.0" r="0.5" fill="#a060d8" fill-opacity="0.6"/><circle cx="103.9" cy="233.6" r="0.5" fill="#a060d8" fill-opacity="0.6"/><circle cx="100.4" cy="219.8" r="0.5" fill="#a060d8" fill-opacity="0.6"/><circle cx="105.4" cy="215.2" r="0.5" fill="#a060d8" fill-opacity="0.6"/><circle cx="117.1" cy="216.5" r="0.5" fill="#a060d8" fill-opacity="0.6"/><circle cx="105.7" cy="217.4" r="0.5" fill="#a060d8" fill-opacity="0.6"/><circle cx="117.2" cy="216.7" r="0.5" fill="#a060d8" fill-opacity="0.6"/><circle cx="118.4" cy="219.7" r="0.5" fill="#a060d8" fill-opacity="0.6"/><circle cx="107.9" cy="216.4" r="0.5" fill="#a060d8" fill-opacity="0.6"/><circle cx="115.0" cy="216.5" r="0.5" fill="#a060d8" fill-opacity="0.6"/><circle cx="108.1" cy="234.0" r="0.5" fill="#a060d8" fill-opacity="0.6"/><circle cx="116.9" cy="216.4" r="0.5" fill="#a060d8" fill-opacity="0.6"/><circle cx="119.2" cy="231.1" r="0.5" fill="#a060d8" fill-opacity="0.6"/><circle cx="102.4" cy="230.2" r="0.5" fill="#a060d8" fill-opacity="0.6"/><circle cx="107.1" cy="235.7" r="0.5" fill="#a060d8" fill-opacity="0.6"/><circle cx="116.1" cy="219.1" r="0.5" fill="#a060d8" fill-opacity="0.6"/><circle cx="103.4" cy="219.6" r="0.5" fill="#a060d8" fill-opacity="0.6"/><circle cx="108.1" cy="216.1" r="0.5" fill="#a060d8" fill-opacity="0.6"/><circle cx="118.3" cy="217.7" r="0.5" fill="#a060d8" fill-opacity="0.6"/><circle cx="98.6" cy="225.0" r="0.5" fill="#a060d8" fill-opacity="0.6"/><circle cx="106.8" cy="233.6" r="0.5" fill="#a060d8" fill-opacity="0.6"/><circle cx="103.0" cy="220.3" r="0.5" fill="#a060d8" fill-opacity="0.6"/><circle cx="113.2" cy="234.6" r="0.5" fill="#a060d8" fill-opacity="0.6"/><circle cx="103.1" cy="219.6" r="0.5" fill="#a060d8" fill-opacity="0.6"/><circle cx="120.6" cy="228.3" r="0.5" fill="#a060d8" fill-opacity="0.6"/><circle cx="105.6" cy="235.8" r="0.5" fill="#a060d8" fill-opacity="0.6"/><circle cx="117.7" cy="219.6" r="0.5" fill="#a060d8" fill-opacity="0.6"/><circle cx="100.3" cy="227.9" r="0.5" fill="#a060d8" fill-opacity="0.6"/><circle cx="103.7" cy="217.3" r="0.5" fill="#a060d8" fill-opacity="0.6"/><circle cx="100.4" cy="221.6" r="0.5" fill="#a060d8" fill-opacity="0.6"/><circle cx="119.3" cy="221.7" r="0.5" fill="#a060d8" fill-opacity="0.6"/><circle cx="100.4" cy="229.8" r="0.5" fill="#a060d8" fill-opacity="0.6"/><circle cx="110.7" cy="234.8" r="0.5" fill="#a060d8" fill-opacity="0.6"/><circle cx="120.0" cy="224.0" r="0.5" fill="#a060d8" fill-opacity="0.6"/><circle cx="101.8" cy="222.8" r="0.5" fill="#a060d8" fill-opacity="0.6"/><circle cx="101.2" cy="230.6" r="0.5" fill="#a060d8" fill-opacity="0.6"/><circle cx="120.2" cy="226.7" r="0.5" fill="#a060d8" fill-opacity="0.6"/><circle cx="104.1" cy="218.9" r="0.5" fill="#a060d8" fill-opacity="0.6"/><circle cx="103.1" cy="218.3" r="0.5" fill="#a060d8" fill-opacity="0.6"/><circle cx="105.9" cy="216.7" r="0.5" fill="#a060d8" fill-opacity="0.6"/><circle cx="107.1" cy="215.1" r="0.5" fill="#a060d8" fill-opacity="0.6"/><circle cx="118.7" cy="226.6" r="0.5" fill="#a060d8" fill-opacity="0.6"/><circle cx="104.9" cy="215.3" r="0.5" fill="#a060d8" fill-opacity="0.6"/><circle cx="109.9" cy="235.3" r="0.5" fill="#a060d8" fill-opacity="0.6"/><circle cx="102.1" cy="220.2" r="0.5" fill="#a060d8" fill-opacity="0.6"/><circle cx="103.8" cy="232.5" r="0.5" fill="#a060d8" fill-opacity="0.6"/><circle cx="103.0" cy="232.9" r="0.5" fill="#a060d8" fill-opacity="0.6"/><circle cx="107.0" cy="234.6" r="0.5" fill="#a060d8" fill-opacity="0.6"/></g>
<circle cx="74.7" cy="197.7" r="7.8" fill="#fff" stroke="#333" stroke-width="0.7"/>
<path d="M73.6 190.0 A7.8 7.8 0 0 1 82.45 197.9 Q77.8 201.8 69.8 200.5 Q68.4 193.0 73.6 190.0 Z" fill="#e8302a"/>
<path d="M67.05 199.9 A7.8 7.8 0 0 0 71.1 204.6 Q70.6 201.3 67.05 199.9 Z" fill="#e8302a"/>
<circle cx="138.0" cy="197.7" r="7.3" fill="#fff" stroke="#333" stroke-width="0.7"/>
<path d="M131.3 200.6 C133.5 195.5 139.5 192.3 144.4 194.1 A7.3 7.3 0 0 1 145.2 199.0 C142.6 202.2 135.5 203.4 131.3 200.6 Z" fill="#e8302a"/>
<circle cx="108.70" cy="220.90" r="2.65" fill="#7a1fb0" stroke="#3a2a3a" stroke-width="0.45"/>
<circle cx="114.30" cy="230.80" r="2.65" fill="#c83a86" stroke="#3a2a3a" stroke-width="0.45"/>
<circle cx="106.10" cy="233.10" r="2.65" fill="#f08c34" stroke="#3a2a3a" stroke-width="0.45"/>
<circle cx="127.40" cy="240.80" r="2.65" fill="#2a2a78" stroke="#3a2a3a" stroke-width="0.45"/>
<circle cx="144.90" cy="211.80" r="2.65" fill="#c83a86" stroke="#3a2a3a" stroke-width="0.45"/>
<circle cx="144.10" cy="259.50" r="2.65" fill="#7a1fb0" stroke="#3a2a3a" stroke-width="0.45"/>
<line x1="144.60" y1="214.20" x2="143.80" y2="216.80" stroke="#555" stroke-width="0.5"/>
<path d="M78.20 234.50 L80.85 239.10 L75.55 239.10 Z" fill="#2a4cb8"/>
<path d="M135.00 217.00 L137.65 221.60 L132.35 221.60 Z" fill="#2a4cb8"/>
<path d="M136.80 269.40 L139.45 274.00 L134.15 274.00 Z" fill="#2a4cb8"/>
<text x="150.40" y="217.90" font-size="6.14" text-anchor="start" fill="#231f20" textLength="40.50" lengthAdjust="spacingAndGlyphs" style="stroke:none">2023/05/05_M6.5</text>
<text x="115.30" y="225.80" font-size="6.14" text-anchor="start" fill="#231f20" textLength="40.00" lengthAdjust="spacingAndGlyphs" style="stroke:none">2023/05/05_M5.9</text>
<text x="132.60" y="246.20" font-size="6.14" text-anchor="start" fill="#231f20" textLength="40.60" lengthAdjust="spacingAndGlyphs" style="stroke:none">2024/01/01_M7.6</text>
<text x="149.80" y="264.90" font-size="6.14" text-anchor="start" fill="#231f20" textLength="40.30" lengthAdjust="spacingAndGlyphs" style="stroke:none">2024/06/03_M6.0</text>
<text x="66.80" y="249.70" font-size="9.2" text-anchor="start" fill="#231f20" textLength="21.80" lengthAdjust="spacingAndGlyphs">ISK001</text>
<text x="111.00" y="213.00" font-size="9.91" text-anchor="start" fill="#231f20" textLength="23.60" lengthAdjust="spacingAndGlyphs">ISKH01</text>
<text x="125.20" y="285.00" font-size="9.2" text-anchor="start" fill="#231f20" textLength="23.00" lengthAdjust="spacingAndGlyphs">ISK002</text>
<text x="55.00" y="187.40" font-size="8.73" text-anchor="start" fill="#231f20" textLength="40.00" lengthAdjust="spacingAndGlyphs">M5.9–10km</text>
<text x="117.30" y="188.00" font-size="8.73" text-anchor="start" fill="#231f20" textLength="41.00" lengthAdjust="spacingAndGlyphs">M5.5–12km</text>
<line x1="33.00" y1="171.60" x2="37.30" y2="171.60" stroke="#231f20" stroke-width="0.8"/>
<line x1="33.00" y1="237.70" x2="37.30" y2="237.70" stroke="#231f20" stroke-width="0.8"/>
<line x1="33.00" y1="303.80" x2="37.30" y2="303.80" stroke="#231f20" stroke-width="0.8"/>
<line x1="90.40" y1="171.60" x2="90.40" y2="168.10" stroke="#231f20" stroke-width="0.8"/>
<line x1="143.30" y1="171.60" x2="143.30" y2="168.10" stroke="#231f20" stroke-width="0.8"/>
<line x1="37.30" y1="303.80" x2="37.30" y2="308.60" stroke="#231f20" stroke-width="0.8"/>
<line x1="90.40" y1="303.80" x2="90.40" y2="308.60" stroke="#231f20" stroke-width="0.8"/>
<line x1="143.30" y1="303.80" x2="143.30" y2="308.60" stroke="#231f20" stroke-width="0.8"/>
<line x1="196.10" y1="303.80" x2="196.10" y2="308.60" stroke="#231f20" stroke-width="0.8"/>
<line x1="196.10" y1="237.70" x2="200.10" y2="237.70" stroke="#231f20" stroke-width="0.8"/>
<line x1="196.10" y1="171.60" x2="200.10" y2="171.60" stroke="#231f20" stroke-width="0.8"/>
<line x1="196.10" y1="303.80" x2="200.80" y2="303.80" stroke="#999" stroke-width="0.8"/>
<rect x="37.30" y="171.60" width="158.80" height="132.20" fill="none" stroke="#231f20" stroke-width="1.3"/>
<text x="15.00" y="175.90" font-size="11.09" text-anchor="middle" fill="#231f20" textLength="29.50" lengthAdjust="spacingAndGlyphs">37<tspan font-size="8.32" baseline-shift="2.44">°</tspan>36'</text>
<text x="14.60" y="242.20" font-size="11.09" text-anchor="middle" fill="#231f20" textLength="28.20" lengthAdjust="spacingAndGlyphs">37<tspan font-size="8.32" baseline-shift="2.44">°</tspan>30'</text>
<text x="15.00" y="308.30" font-size="11.09" text-anchor="middle" fill="#231f20" textLength="29.50" lengthAdjust="spacingAndGlyphs">37<tspan font-size="8.32" baseline-shift="2.44">°</tspan>24'</text>
<text x="37.40" y="321.70" font-size="11.09" text-anchor="middle" fill="#231f20" textLength="33.00" lengthAdjust="spacingAndGlyphs">137<tspan font-size="8.32" baseline-shift="2.44">°</tspan>06'</text>
<text x="90.40" y="321.70" font-size="11.09" text-anchor="middle" fill="#231f20" textLength="33.00" lengthAdjust="spacingAndGlyphs">137<tspan font-size="8.32" baseline-shift="2.44">°</tspan>12'</text>
<text x="143.50" y="321.70" font-size="11.09" text-anchor="middle" fill="#231f20" textLength="33.00" lengthAdjust="spacingAndGlyphs">137<tspan font-size="8.32" baseline-shift="2.44">°</tspan>18'</text>
<text x="196.20" y="321.70" font-size="11.09" text-anchor="middle" fill="#231f20" textLength="33.00" lengthAdjust="spacingAndGlyphs">137<tspan font-size="8.32" baseline-shift="2.44">°</tspan>24'</text>
<text x="44.00" y="162.00" font-size="11.09" text-anchor="middle" fill="#231f20" textLength="11.49" lengthAdjust="spacingAndGlyphs">(b)</text>
<rect x="223.60" y="177.10" width="7.40" height="53.20" fill="url(#depthcb)" stroke="#231f20" stroke-width="0.9"/>
<line x1="231.00" y1="177.10" x2="235.00" y2="177.10" stroke="#231f20" stroke-width="0.8"/>
<text x="246.60" y="181.40" font-size="10.86" text-anchor="middle" fill="#231f20" textLength="10.60" lengthAdjust="spacingAndGlyphs">16</text>
<line x1="231.00" y1="190.40" x2="235.00" y2="190.40" stroke="#231f20" stroke-width="0.8"/>
<line x1="223.60" y1="190.40" x2="231.00" y2="190.40" stroke="#555" stroke-width="0.5" stroke-opacity="0.5"/>
<text x="246.60" y="194.70" font-size="10.86" text-anchor="middle" fill="#231f20" textLength="10.60" lengthAdjust="spacingAndGlyphs">14</text>
<line x1="231.00" y1="203.70" x2="235.00" y2="203.70" stroke="#231f20" stroke-width="0.8"/>
<line x1="223.60" y1="203.70" x2="231.00" y2="203.70" stroke="#555" stroke-width="0.5" stroke-opacity="0.5"/>
<text x="246.60" y="208.00" font-size="10.86" text-anchor="middle" fill="#231f20" textLength="10.60" lengthAdjust="spacingAndGlyphs">12</text>
<line x1="231.00" y1="217.00" x2="235.00" y2="217.00" stroke="#231f20" stroke-width="0.8"/>
<line x1="223.60" y1="217.00" x2="231.00" y2="217.00" stroke="#555" stroke-width="0.5" stroke-opacity="0.5"/>
<text x="246.60" y="221.30" font-size="10.86" text-anchor="middle" fill="#231f20" textLength="10.60" lengthAdjust="spacingAndGlyphs">10</text>
<line x1="231.00" y1="230.30" x2="235.00" y2="230.30" stroke="#231f20" stroke-width="0.8"/>
<text x="246.60" y="234.60" font-size="10.86" text-anchor="middle" fill="#231f20" textLength="5.30" lengthAdjust="spacingAndGlyphs">8</text>
<text x="200.80" y="172.60" font-size="11.33" text-anchor="start" fill="#231f20" textLength="52.50" lengthAdjust="spacingAndGlyphs">Depth (km)</text>
<rect x="223.90" y="249.80" width="7.00" height="54.00" fill="url(#slipcb)" stroke="#231f20" stroke-width="0.9"/>
<line x1="230.90" y1="249.80" x2="234.60" y2="249.80" stroke="#231f20" stroke-width="0.8"/>
<text x="248.20" y="253.80" font-size="10.86" text-anchor="middle" fill="#231f20" textLength="13.20" lengthAdjust="spacingAndGlyphs">2.0</text>
<line x1="230.90" y1="260.60" x2="234.60" y2="260.60" stroke="#231f20" stroke-width="0.8"/>
<text x="248.20" y="264.60" font-size="10.86" text-anchor="middle" fill="#231f20" textLength="13.20" lengthAdjust="spacingAndGlyphs">1.6</text>
<line x1="230.90" y1="271.40" x2="234.60" y2="271.40" stroke="#231f20" stroke-width="0.8"/>
<text x="248.20" y="275.40" font-size="10.86" text-anchor="middle" fill="#231f20" textLength="13.20" lengthAdjust="spacingAndGlyphs">1.2</text>
<line x1="230.90" y1="282.20" x2="234.60" y2="282.20" stroke="#231f20" stroke-width="0.8"/>
<text x="248.20" y="286.20" font-size="10.86" text-anchor="middle" fill="#231f20" textLength="13.20" lengthAdjust="spacingAndGlyphs">0.8</text>
<line x1="230.90" y1="293.00" x2="234.60" y2="293.00" stroke="#231f20" stroke-width="0.8"/>
<text x="248.20" y="297.00" font-size="10.86" text-anchor="middle" fill="#231f20" textLength="13.20" lengthAdjust="spacingAndGlyphs">0.4</text>
<line x1="230.90" y1="303.80" x2="234.60" y2="303.80" stroke="#231f20" stroke-width="0.8"/>
<text x="248.20" y="307.80" font-size="10.86" text-anchor="middle" fill="#231f20" textLength="13.20" lengthAdjust="spacingAndGlyphs">0.0</text>
<text x="210.10" y="246.40" font-size="11.33" text-anchor="start" fill="#231f20" textLength="34.10" lengthAdjust="spacingAndGlyphs">Slip (m)</text>
<g><circle cx="329.6" cy="210.4" r="0.55" fill="#9a5ad8" fill-opacity="0.8"/><circle cx="330.8" cy="211.9" r="0.55" fill="#9a5ad8" fill-opacity="0.8"/><circle cx="332.1" cy="213.4" r="0.55" fill="#9a5ad8" fill-opacity="0.8"/><circle cx="333.4" cy="214.8" r="0.55" fill="#9a5ad8" fill-opacity="0.8"/><circle cx="334.7" cy="216.3" r="0.55" fill="#9a5ad8" fill-opacity="0.8"/><circle cx="336.0" cy="217.8" r="0.55" fill="#9a5ad8" fill-opacity="0.8"/><circle cx="337.2" cy="219.3" r="0.55" fill="#9a5ad8" fill-opacity="0.8"/><circle cx="338.5" cy="220.7" r="0.55" fill="#9a5ad8" fill-opacity="0.8"/><circle cx="339.8" cy="222.2" r="0.55" fill="#9a5ad8" fill-opacity="0.8"/><circle cx="341.1" cy="223.7" r="0.55" fill="#9a5ad8" fill-opacity="0.8"/><circle cx="342.3" cy="225.1" r="0.55" fill="#9a5ad8" fill-opacity="0.8"/><circle cx="343.6" cy="226.6" r="0.55" fill="#9a5ad8" fill-opacity="0.8"/><circle cx="344.9" cy="228.1" r="0.55" fill="#9a5ad8" fill-opacity="0.8"/><circle cx="346.2" cy="229.6" r="0.55" fill="#9a5ad8" fill-opacity="0.8"/><circle cx="347.5" cy="231.0" r="0.55" fill="#9a5ad8" fill-opacity="0.8"/><circle cx="323.0" cy="206.1" r="0.55" fill="#9a5ad8" fill-opacity="0.8"/><circle cx="324.3" cy="207.6" r="0.55" fill="#9a5ad8" fill-opacity="0.8"/><circle cx="325.6" cy="209.1" r="0.55" fill="#9a5ad8" fill-opacity="0.8"/><circle cx="326.9" cy="210.6" r="0.55" fill="#9a5ad8" fill-opacity="0.8"/><circle cx="328.2" cy="212.0" r="0.55" fill="#9a5ad8" fill-opacity="0.8"/><circle cx="329.4" cy="213.5" r="0.55" fill="#9a5ad8" fill-opacity="0.8"/><circle cx="330.7" cy="215.0" r="0.55" fill="#9a5ad8" fill-opacity="0.8"/><circle cx="332.0" cy="216.5" r="0.55" fill="#9a5ad8" fill-opacity="0.8"/><circle cx="333.3" cy="217.9" r="0.55" fill="#9a5ad8" fill-opacity="0.8"/><circle cx="334.6" cy="219.4" r="0.55" fill="#9a5ad8" fill-opacity="0.8"/><circle cx="335.8" cy="220.9" r="0.55" fill="#9a5ad8" fill-opacity="0.8"/><circle cx="337.1" cy="222.3" r="0.55" fill="#9a5ad8" fill-opacity="0.8"/><circle cx="338.4" cy="223.8" r="0.55" fill="#9a5ad8" fill-opacity="0.8"/><circle cx="339.7" cy="225.3" r="0.55" fill="#9a5ad8" fill-opacity="0.8"/><circle cx="341.0" cy="226.8" r="0.55" fill="#9a5ad8" fill-opacity="0.8"/><circle cx="342.2" cy="228.2" r="0.55" fill="#9a5ad8" fill-opacity="0.8"/><circle cx="343.5" cy="229.7" r="0.55" fill="#9a5ad8" fill-opacity="0.8"/><circle cx="344.8" cy="231.2" r="0.55" fill="#9a5ad8" fill-opacity="0.8"/><circle cx="346.1" cy="232.6" r="0.55" fill="#9a5ad8" fill-opacity="0.8"/><circle cx="347.4" cy="234.1" r="0.55" fill="#9a5ad8" fill-opacity="0.8"/><circle cx="348.6" cy="235.6" r="0.55" fill="#9a5ad8" fill-opacity="0.8"/><circle cx="349.9" cy="237.1" r="0.55" fill="#9a5ad8" fill-opacity="0.8"/><circle cx="351.2" cy="238.5" r="0.55" fill="#9a5ad8" fill-opacity="0.8"/><circle cx="318.7" cy="204.4" r="0.55" fill="#8a84dc" fill-opacity="0.7"/><circle cx="320.0" cy="205.8" r="0.55" fill="#8a84dc" fill-opacity="0.7"/><circle cx="321.3" cy="207.3" r="0.55" fill="#8a84dc" fill-opacity="0.7"/><circle cx="322.5" cy="208.8" r="0.55" fill="#8a84dc" fill-opacity="0.7"/><circle cx="323.8" cy="210.2" r="0.55" fill="#8a84dc" fill-opacity="0.7"/><circle cx="325.1" cy="211.7" r="0.55" fill="#8a84dc" fill-opacity="0.7"/><circle cx="326.4" cy="213.2" r="0.55" fill="#8a84dc" fill-opacity="0.7"/><circle cx="327.7" cy="214.7" r="0.55" fill="#8a84dc" fill-opacity="0.7"/><circle cx="328.9" cy="216.1" r="0.55" fill="#8a84dc" fill-opacity="0.7"/><circle cx="330.2" cy="217.6" r="0.55" fill="#8a84dc" fill-opacity="0.7"/><circle cx="331.5" cy="219.1" r="0.55" fill="#8a84dc" fill-opacity="0.7"/><circle cx="332.8" cy="220.5" r="0.55" fill="#8a84dc" fill-opacity="0.7"/><circle cx="334.1" cy="222.0" r="0.55" fill="#8a84dc" fill-opacity="0.7"/><circle cx="335.3" cy="223.5" r="0.55" fill="#8a84dc" fill-opacity="0.7"/><circle cx="336.6" cy="225.0" r="0.55" fill="#8a84dc" fill-opacity="0.7"/><circle cx="337.9" cy="226.4" r="0.55" fill="#8a84dc" fill-opacity="0.7"/><circle cx="339.2" cy="227.9" r="0.55" fill="#8a84dc" fill-opacity="0.7"/><circle cx="340.5" cy="229.4" r="0.55" fill="#8a84dc" fill-opacity="0.7"/><circle cx="341.7" cy="230.8" r="0.55" fill="#8a84dc" fill-opacity="0.7"/><circle cx="343.0" cy="232.3" r="0.55" fill="#8a84dc" fill-opacity="0.7"/><circle cx="344.3" cy="233.8" r="0.55" fill="#8a84dc" fill-opacity="0.7"/><circle cx="345.6" cy="235.3" r="0.55" fill="#8a84dc" fill-opacity="0.7"/><circle cx="346.9" cy="236.7" r="0.55" fill="#8a84dc" fill-opacity="0.7"/><circle cx="348.1" cy="238.2" r="0.55" fill="#8a84dc" fill-opacity="0.7"/><circle cx="349.4" cy="239.7" r="0.55" fill="#8a84dc" fill-opacity="0.7"/><circle cx="350.7" cy="241.1" r="0.55" fill="#8a84dc" fill-opacity="0.7"/><circle cx="352.0" cy="242.6" r="0.55" fill="#8a84dc" fill-opacity="0.7"/><circle cx="314.8" cy="203.0" r="0.55" fill="#8a84dc" fill-opacity="0.7"/><circle cx="316.0" cy="204.5" r="0.55" fill="#8a84dc" fill-opacity="0.7"/><circle cx="317.3" cy="206.0" r="0.55" fill="#8a84dc" fill-opacity="0.7"/><circle cx="318.6" cy="207.4" r="0.55" fill="#8a84dc" fill-opacity="0.7"/><circle cx="319.9" cy="208.9" r="0.55" fill="#8a84dc" fill-opacity="0.7"/><circle cx="321.2" cy="210.4" r="0.55" fill="#8a84dc" fill-opacity="0.7"/><circle cx="322.4" cy="211.8" r="0.55" fill="#8a84dc" fill-opacity="0.7"/><circle cx="323.7" cy="213.3" r="0.55" fill="#8a84dc" fill-opacity="0.7"/><circle cx="325.0" cy="214.8" r="0.55" fill="#8a84dc" fill-opacity="0.7"/><circle cx="326.3" cy="216.3" r="0.55" fill="#8a84dc" fill-opacity="0.7"/><circle cx="327.6" cy="217.7" r="0.55" fill="#8a84dc" fill-opacity="0.7"/><circle cx="328.8" cy="219.2" r="0.55" fill="#8a84dc" fill-opacity="0.7"/><circle cx="330.1" cy="220.7" r="0.55" fill="#8a84dc" fill-opacity="0.7"/><circle cx="331.4" cy="222.1" r="0.55" fill="#8a84dc" fill-opacity="0.7"/><circle cx="332.7" cy="223.6" r="0.55" fill="#8a84dc" fill-opacity="0.7"/><circle cx="334.0" cy="225.1" r="0.55" fill="#8a84dc" fill-opacity="0.7"/><circle cx="335.2" cy="226.6" r="0.55" fill="#8a84dc" fill-opacity="0.7"/><circle cx="336.5" cy="228.0" r="0.55" fill="#8a84dc" fill-opacity="0.7"/><circle cx="337.8" cy="229.5" r="0.55" fill="#8a84dc" fill-opacity="0.7"/><circle cx="339.1" cy="231.0" r="0.55" fill="#8a84dc" fill-opacity="0.7"/><circle cx="340.3" cy="232.5" r="0.55" fill="#8a84dc" fill-opacity="0.7"/><circle cx="341.6" cy="233.9" r="0.55" fill="#8a84dc" fill-opacity="0.7"/><circle cx="342.9" cy="235.4" r="0.55" fill="#8a84dc" fill-opacity="0.7"/><circle cx="344.2" cy="236.9" r="0.55" fill="#8a84dc" fill-opacity="0.7"/><circle cx="345.5" cy="238.3" r="0.55" fill="#8a84dc" fill-opacity="0.7"/><circle cx="346.7" cy="239.8" r="0.55" fill="#8a84dc" fill-opacity="0.7"/><circle cx="348.0" cy="241.3" r="0.55" fill="#8a84dc" fill-opacity="0.7"/><circle cx="349.3" cy="242.8" r="0.55" fill="#8a84dc" fill-opacity="0.7"/><circle cx="350.6" cy="244.2" r="0.55" fill="#8a84dc" fill-opacity="0.7"/><circle cx="351.9" cy="245.7" r="0.55" fill="#8a84dc" fill-opacity="0.7"/><circle cx="353.1" cy="247.2" r="0.55" fill="#8a84dc" fill-opacity="0.7"/><circle cx="311.7" cy="202.7" r="0.55" fill="#8a84dc" fill-opacity="0.7"/><circle cx="313.0" cy="204.2" r="0.55" fill="#8a84dc" fill-opacity="0.7"/><circle cx="314.3" cy="205.6" r="0.55" fill="#8a84dc" fill-opacity="0.7"/><circle cx="315.5" cy="207.1" r="0.55" fill="#8a84dc" fill-opacity="0.7"/><circle cx="316.8" cy="208.6" r="0.55" fill="#8a84dc" fill-opacity="0.7"/><circle cx="318.1" cy="210.1" r="0.55" fill="#8a84dc" fill-opacity="0.7"/><circle cx="319.4" cy="211.5" r="0.55" fill="#8a84dc" fill-opacity="0.7"/><circle cx="320.7" cy="213.0" r="0.55" fill="#8a84dc" fill-opacity="0.7"/><circle cx="321.9" cy="214.5" r="0.55" fill="#8a84dc" fill-opacity="0.7"/><circle cx="323.2" cy="215.9" r="0.55" fill="#8a84dc" fill-opacity="0.7"/><circle cx="324.5" cy="217.4" r="0.55" fill="#8a84dc" fill-opacity="0.7"/><circle cx="325.8" cy="218.9" r="0.55" fill="#8a84dc" fill-opacity="0.7"/><circle cx="327.1" cy="220.4" r="0.55" fill="#8a84dc" fill-opacity="0.7"/><circle cx="328.3" cy="221.8" r="0.55" fill="#8a84dc" fill-opacity="0.7"/><circle cx="329.6" cy="223.3" r="0.55" fill="#8a84dc" fill-opacity="0.7"/><circle cx="330.9" cy="224.8" r="0.55" fill="#8a84dc" fill-opacity="0.7"/><circle cx="332.2" cy="226.2" r="0.55" fill="#8a84dc" fill-opacity="0.7"/><circle cx="333.4" cy="227.7" r="0.55" fill="#8a84dc" fill-opacity="0.7"/><circle cx="334.7" cy="229.2" r="0.55" fill="#8a84dc" fill-opacity="0.7"/><circle cx="336.0" cy="230.7" r="0.55" fill="#8a84dc" fill-opacity="0.7"/><circle cx="337.3" cy="232.1" r="0.55" fill="#8a84dc" fill-opacity="0.7"/><circle cx="338.6" cy="233.6" r="0.55" fill="#8a84dc" fill-opacity="0.7"/><circle cx="339.8" cy="235.1" r="0.55" fill="#8a84dc" fill-opacity="0.7"/><circle cx="341.1" cy="236.5" r="0.55" fill="#8a84dc" fill-opacity="0.7"/><circle cx="342.4" cy="238.0" r="0.55" fill="#8a84dc" fill-opacity="0.7"/><circle cx="343.7" cy="239.5" r="0.55" fill="#8a84dc" fill-opacity="0.7"/><circle cx="345.0" cy="241.0" r="0.55" fill="#8a84dc" fill-opacity="0.7"/><circle cx="346.2" cy="242.4" r="0.55" fill="#8a84dc" fill-opacity="0.7"/><circle cx="347.5" cy="243.9" r="0.55" fill="#8a84dc" fill-opacity="0.7"/><circle cx="348.8" cy="245.4" r="0.55" fill="#8a84dc" fill-opacity="0.7"/><circle cx="350.1" cy="246.8" r="0.55" fill="#8a84dc" fill-opacity="0.7"/><circle cx="351.4" cy="248.3" r="0.55" fill="#8a84dc" fill-opacity="0.7"/><circle cx="352.6" cy="249.8" r="0.55" fill="#8a84dc" fill-opacity="0.7"/><circle cx="309.0" cy="202.8" r="0.55" fill="#90b8e4" fill-opacity="0.65"/><circle cx="310.3" cy="204.3" r="0.55" fill="#90b8e4" fill-opacity="0.65"/><circle cx="311.6" cy="205.8" r="0.55" fill="#90b8e4" fill-opacity="0.65"/><circle cx="312.9" cy="207.2" r="0.55" fill="#90b8e4" fill-opacity="0.65"/><circle cx="314.2" cy="208.7" r="0.55" fill="#90b8e4" fill-opacity="0.65"/><circle cx="315.4" cy="210.2" r="0.55" fill="#90b8e4" fill-opacity="0.65"/><circle cx="316.7" cy="211.7" r="0.55" fill="#90b8e4" fill-opacity="0.65"/><circle cx="318.0" cy="213.1" r="0.55" fill="#90b8e4" fill-opacity="0.65"/><circle cx="319.3" cy="214.6" r="0.55" fill="#90b8e4" fill-opacity="0.65"/><circle cx="320.5" cy="216.1" r="0.55" fill="#90b8e4" fill-opacity="0.65"/><circle cx="321.8" cy="217.5" r="0.55" fill="#90b8e4" fill-opacity="0.65"/><circle cx="323.1" cy="219.0" r="0.55" fill="#90b8e4" fill-opacity="0.65"/><circle cx="324.4" cy="220.5" r="0.55" fill="#90b8e4" fill-opacity="0.65"/><circle cx="325.7" cy="222.0" r="0.55" fill="#90b8e4" fill-opacity="0.65"/><circle cx="326.9" cy="223.4" r="0.55" fill="#90b8e4" fill-opacity="0.65"/><circle cx="328.2" cy="224.9" r="0.55" fill="#90cc70" fill-opacity="0.7"/><circle cx="329.5" cy="226.4" r="0.55" fill="#90cc70" fill-opacity="0.7"/><circle cx="330.8" cy="227.8" r="0.55" fill="#90cc70" fill-opacity="0.7"/><circle cx="332.1" cy="229.3" r="0.55" fill="#90cc70" fill-opacity="0.7"/><circle cx="333.3" cy="230.8" r="0.55" fill="#90cc70" fill-opacity="0.7"/><circle cx="334.6" cy="232.3" r="0.55" fill="#90cc70" fill-opacity="0.7"/><circle cx="335.9" cy="233.7" r="0.55" fill="#90cc70" fill-opacity="0.7"/><circle cx="337.2" cy="235.2" r="0.55" fill="#90cc70" fill-opacity="0.7"/><circle cx="338.5" cy="236.7" r="0.55" fill="#90cc70" fill-opacity="0.7"/><circle cx="339.7" cy="238.2" r="0.55" fill="#90cc70" fill-opacity="0.7"/><circle cx="341.0" cy="239.6" r="0.55" fill="#90cc70" fill-opacity="0.7"/><circle cx="342.3" cy="241.1" r="0.55" fill="#90cc70" fill-opacity="0.7"/><circle cx="343.6" cy="242.6" r="0.55" fill="#90cc70" fill-opacity="0.7"/><circle cx="344.9" cy="244.0" r="0.55" fill="#90b8e4" fill-opacity="0.65"/><circle cx="346.1" cy="245.5" r="0.55" fill="#90b8e4" fill-opacity="0.65"/><circle cx="347.4" cy="247.0" r="0.55" fill="#90b8e4" fill-opacity="0.65"/><circle cx="348.7" cy="248.5" r="0.55" fill="#90b8e4" fill-opacity="0.65"/><circle cx="350.0" cy="249.9" r="0.55" fill="#90b8e4" fill-opacity="0.65"/><circle cx="351.3" cy="251.4" r="0.55" fill="#90b8e4" fill-opacity="0.65"/><circle cx="352.5" cy="252.9" r="0.55" fill="#90b8e4" fill-opacity="0.65"/><circle cx="307.3" cy="204.0" r="0.55" fill="#90b8e4" fill-opacity="0.65"/><circle cx="308.5" cy="205.5" r="0.55" fill="#90b8e4" fill-opacity="0.65"/><circle cx="309.8" cy="206.9" r="0.55" fill="#90b8e4" fill-opacity="0.65"/><circle cx="311.1" cy="208.4" r="0.55" fill="#90b8e4" fill-opacity="0.65"/><circle cx="312.4" cy="209.9" r="0.55" fill="#90b8e4" fill-opacity="0.65"/><circle cx="313.6" cy="211.3" r="0.55" fill="#90b8e4" fill-opacity="0.65"/><circle cx="314.9" cy="212.8" r="0.55" fill="#90b8e4" fill-opacity="0.65"/><circle cx="316.2" cy="214.3" r="0.55" fill="#90b8e4" fill-opacity="0.65"/><circle cx="317.5" cy="215.8" r="0.55" fill="#90b8e4" fill-opacity="0.65"/><circle cx="318.8" cy="217.2" r="0.55" fill="#90b8e4" fill-opacity="0.65"/><circle cx="320.0" cy="218.7" r="0.55" fill="#90b8e4" fill-opacity="0.65"/><circle cx="321.3" cy="220.2" r="0.55" fill="#90b8e4" fill-opacity="0.65"/><circle cx="322.6" cy="221.6" r="0.55" fill="#90b8e4" fill-opacity="0.65"/><circle cx="323.9" cy="223.1" r="0.55" fill="#90b8e4" fill-opacity="0.65"/><circle cx="325.2" cy="224.6" r="0.55" fill="#90b8e4" fill-opacity="0.65"/><circle cx="326.4" cy="226.1" r="0.55" fill="#90cc70" fill-opacity="0.7"/><circle cx="327.7" cy="227.5" r="0.55" fill="#90cc70" fill-opacity="0.7"/><circle cx="329.0" cy="229.0" r="0.55" fill="#90cc70" fill-opacity="0.7"/><circle cx="330.3" cy="230.5" r="0.55" fill="#90cc70" fill-opacity="0.7"/><circle cx="331.6" cy="231.9" r="0.55" fill="#90cc70" fill-opacity="0.7"/><circle cx="332.8" cy="233.4" r="0.55" fill="#90cc70" fill-opacity="0.7"/><circle cx="334.1" cy="234.9" r="0.55" fill="#90cc70" fill-opacity="0.7"/><circle cx="335.4" cy="236.4" r="0.55" fill="#90cc70" fill-opacity="0.7"/><circle cx="336.7" cy="237.8" r="0.55" fill="#90cc70" fill-opacity="0.7"/><circle cx="338.0" cy="239.3" r="0.55" fill="#90cc70" fill-opacity="0.7"/><circle cx="339.2" cy="240.8" r="0.55" fill="#90cc70" fill-opacity="0.7"/><circle cx="340.5" cy="242.2" r="0.55" fill="#90cc70" fill-opacity="0.7"/><circle cx="341.8" cy="243.7" r="0.55" fill="#90cc70" fill-opacity="0.7"/><circle cx="343.1" cy="245.2" r="0.55" fill="#90b8e4" fill-opacity="0.65"/><circle cx="344.4" cy="246.7" r="0.55" fill="#90b8e4" fill-opacity="0.65"/><circle cx="345.6" cy="248.1" r="0.55" fill="#90b8e4" fill-opacity="0.65"/><circle cx="346.9" cy="249.6" r="0.55" fill="#90b8e4" fill-opacity="0.65"/><circle cx="348.2" cy="251.1" r="0.55" fill="#90b8e4" fill-opacity="0.65"/><circle cx="349.5" cy="252.5" r="0.55" fill="#90b8e4" fill-opacity="0.65"/><circle cx="350.7" cy="254.0" r="0.55" fill="#90b8e4" fill-opacity="0.65"/><circle cx="305.9" cy="205.6" r="0.55" fill="#90b8e4" fill-opacity="0.65"/><circle cx="307.1" cy="207.1" r="0.55" fill="#90b8e4" fill-opacity="0.65"/><circle cx="308.4" cy="208.5" r="0.55" fill="#90b8e4" fill-opacity="0.65"/><circle cx="309.7" cy="210.0" r="0.55" fill="#90b8e4" fill-opacity="0.65"/><circle cx="311.0" cy="211.5" r="0.55" fill="#90b8e4" fill-opacity="0.65"/><circle cx="312.3" cy="212.9" r="0.55" fill="#90b8e4" fill-opacity="0.65"/><circle cx="313.5" cy="214.4" r="0.55" fill="#90b8e4" fill-opacity="0.65"/><circle cx="314.8" cy="215.9" r="0.55" fill="#90b8e4" fill-opacity="0.65"/><circle cx="316.1" cy="217.4" r="0.55" fill="#90b8e4" fill-opacity="0.65"/><circle cx="317.4" cy="218.8" r="0.55" fill="#90b8e4" fill-opacity="0.65"/><circle cx="318.7" cy="220.3" r="0.55" fill="#90b8e4" fill-opacity="0.65"/><circle cx="319.9" cy="221.8" r="0.55" fill="#90b8e4" fill-opacity="0.65"/><circle cx="321.2" cy="223.2" r="0.55" fill="#90b8e4" fill-opacity="0.65"/><circle cx="322.5" cy="224.7" r="0.55" fill="#90b8e4" fill-opacity="0.65"/><circle cx="323.8" cy="226.2" r="0.55" fill="#90b8e4" fill-opacity="0.65"/><circle cx="325.1" cy="227.7" r="0.55" fill="#90cc70" fill-opacity="0.7"/><circle cx="326.3" cy="229.1" r="0.55" fill="#90cc70" fill-opacity="0.7"/><circle cx="327.6" cy="230.6" r="0.55" fill="#90cc70" fill-opacity="0.7"/><circle cx="328.9" cy="232.1" r="0.55" fill="#90cc70" fill-opacity="0.7"/><circle cx="330.2" cy="233.5" r="0.55" fill="#90cc70" fill-opacity="0.7"/><circle cx="331.4" cy="235.0" r="0.55" fill="#90cc70" fill-opacity="0.7"/><circle cx="332.7" cy="236.5" r="0.55" fill="#90cc70" fill-opacity="0.7"/><circle cx="334.0" cy="238.0" r="0.55" fill="#90cc70" fill-opacity="0.7"/><circle cx="335.3" cy="239.4" r="0.55" fill="#90cc70" fill-opacity="0.7"/><circle cx="336.6" cy="240.9" r="0.55" fill="#90cc70" fill-opacity="0.7"/><circle cx="337.8" cy="242.4" r="0.55" fill="#90cc70" fill-opacity="0.7"/><circle cx="339.1" cy="243.8" r="0.55" fill="#90cc70" fill-opacity="0.7"/><circle cx="340.4" cy="245.3" r="0.55" fill="#90cc70" fill-opacity="0.7"/><circle cx="341.7" cy="246.8" r="0.55" fill="#90b8e4" fill-opacity="0.65"/><circle cx="343.0" cy="248.3" r="0.55" fill="#90b8e4" fill-opacity="0.65"/><circle cx="344.2" cy="249.7" r="0.55" fill="#90b8e4" fill-opacity="0.65"/><circle cx="345.5" cy="251.2" r="0.55" fill="#90b8e4" fill-opacity="0.65"/><circle cx="346.8" cy="252.7" r="0.55" fill="#90b8e4" fill-opacity="0.65"/><circle cx="348.1" cy="254.2" r="0.55" fill="#90b8e4" fill-opacity="0.65"/><circle cx="349.4" cy="255.6" r="0.55" fill="#90b8e4" fill-opacity="0.65"/><circle cx="305.4" cy="208.2" r="0.55" fill="#90b8e4" fill-opacity="0.65"/><circle cx="306.6" cy="209.7" r="0.55" fill="#90b8e4" fill-opacity="0.65"/><circle cx="307.9" cy="211.2" r="0.55" fill="#90b8e4" fill-opacity="0.65"/><circle cx="309.2" cy="212.6" r="0.55" fill="#90b8e4" fill-opacity="0.65"/><circle cx="310.5" cy="214.1" r="0.55" fill="#90b8e4" fill-opacity="0.65"/><circle cx="311.8" cy="215.6" r="0.55" fill="#90b8e4" fill-opacity="0.65"/><circle cx="313.0" cy="217.0" r="0.55" fill="#90b8e4" fill-opacity="0.65"/><circle cx="314.3" cy="218.5" r="0.55" fill="#90b8e4" fill-opacity="0.65"/><circle cx="315.6" cy="220.0" r="0.55" fill="#90b8e4" fill-opacity="0.65"/><circle cx="316.9" cy="221.5" r="0.55" fill="#90b8e4" fill-opacity="0.65"/><circle cx="318.2" cy="222.9" r="0.55" fill="#90b8e4" fill-opacity="0.65"/><circle cx="319.4" cy="224.4" r="0.55" fill="#90b8e4" fill-opacity="0.65"/><circle cx="320.7" cy="225.9" r="0.55" fill="#90b8e4" fill-opacity="0.65"/><circle cx="322.0" cy="227.3" r="0.55" fill="#90b8e4" fill-opacity="0.65"/><circle cx="323.3" cy="228.8" r="0.55" fill="#90cc70" fill-opacity="0.7"/><circle cx="324.6" cy="230.3" r="0.55" fill="#90cc70" fill-opacity="0.7"/><circle cx="325.8" cy="231.8" r="0.55" fill="#90cc70" fill-opacity="0.7"/><circle cx="327.1" cy="233.2" r="0.55" fill="#90cc70" fill-opacity="0.7"/><circle cx="328.4" cy="234.7" r="0.55" fill="#90cc70" fill-opacity="0.7"/><circle cx="329.7" cy="236.2" r="0.55" fill="#90cc70" fill-opacity="0.7"/><circle cx="330.9" cy="237.6" r="0.55" fill="#90cc70" fill-opacity="0.7"/><circle cx="332.2" cy="239.1" r="0.55" fill="#90cc70" fill-opacity="0.7"/><circle cx="333.5" cy="240.6" r="0.55" fill="#90cc70" fill-opacity="0.7"/><circle cx="334.8" cy="242.1" r="0.55" fill="#90cc70" fill-opacity="0.7"/><circle cx="336.1" cy="243.5" r="0.55" fill="#90cc70" fill-opacity="0.7"/><circle cx="337.3" cy="245.0" r="0.55" fill="#90cc70" fill-opacity="0.7"/><circle cx="338.6" cy="246.5" r="0.55" fill="#90cc70" fill-opacity="0.7"/><circle cx="339.9" cy="247.9" r="0.55" fill="#90b8e4" fill-opacity="0.65"/><circle cx="341.2" cy="249.4" r="0.55" fill="#90b8e4" fill-opacity="0.65"/><circle cx="342.5" cy="250.9" r="0.55" fill="#90b8e4" fill-opacity="0.65"/><circle cx="343.7" cy="252.4" r="0.55" fill="#90b8e4" fill-opacity="0.65"/><circle cx="345.0" cy="253.8" r="0.55" fill="#90b8e4" fill-opacity="0.65"/><circle cx="346.3" cy="255.3" r="0.55" fill="#90b8e4" fill-opacity="0.65"/><circle cx="305.3" cy="211.3" r="0.55" fill="#c4c0dc" fill-opacity="0.6"/><circle cx="306.5" cy="212.8" r="0.55" fill="#c4c0dc" fill-opacity="0.6"/><circle cx="307.8" cy="214.2" r="0.55" fill="#c4c0dc" fill-opacity="0.6"/><circle cx="309.1" cy="215.7" r="0.55" fill="#c4c0dc" fill-opacity="0.6"/><circle cx="310.4" cy="217.2" r="0.55" fill="#c4c0dc" fill-opacity="0.6"/><circle cx="311.6" cy="218.6" r="0.55" fill="#c4c0dc" fill-opacity="0.6"/><circle cx="312.9" cy="220.1" r="0.55" fill="#c4c0dc" fill-opacity="0.6"/><circle cx="314.2" cy="221.6" r="0.55" fill="#c4c0dc" fill-opacity="0.6"/><circle cx="315.5" cy="223.1" r="0.55" fill="#c4c0dc" fill-opacity="0.6"/><circle cx="316.8" cy="224.5" r="0.55" fill="#c4c0dc" fill-opacity="0.6"/><circle cx="318.0" cy="226.0" r="0.55" fill="#c4c0dc" fill-opacity="0.6"/><circle cx="319.3" cy="227.5" r="0.55" fill="#c4c0dc" fill-opacity="0.6"/><circle cx="320.6" cy="228.9" r="0.55" fill="#c4c0dc" fill-opacity="0.6"/><circle cx="321.9" cy="230.4" r="0.55" fill="#c4c0dc" fill-opacity="0.6"/><circle cx="323.2" cy="231.9" r="0.55" fill="#c4c0dc" fill-opacity="0.6"/><circle cx="324.4" cy="233.4" r="0.55" fill="#c4c0dc" fill-opacity="0.6"/><circle cx="325.7" cy="234.8" r="0.55" fill="#c4c0dc" fill-opacity="0.6"/><circle cx="327.0" cy="236.3" r="0.55" fill="#c4c0dc" fill-opacity="0.6"/><circle cx="328.3" cy="237.8" r="0.55" fill="#c4c0dc" fill-opacity="0.6"/><circle cx="329.6" cy="239.2" r="0.55" fill="#c4c0dc" fill-opacity="0.6"/><circle cx="330.8" cy="240.7" r="0.55" fill="#c4c0dc" fill-opacity="0.6"/><circle cx="332.1" cy="242.2" r="0.55" fill="#c4c0dc" fill-opacity="0.6"/><circle cx="333.4" cy="243.7" r="0.55" fill="#c4c0dc" fill-opacity="0.6"/><circle cx="334.7" cy="245.1" r="0.55" fill="#c4c0dc" fill-opacity="0.6"/><circle cx="336.0" cy="246.6" r="0.55" fill="#c4c0dc" fill-opacity="0.6"/><circle cx="337.2" cy="248.1" r="0.55" fill="#c4c0dc" fill-opacity="0.6"/><circle cx="338.5" cy="249.5" r="0.55" fill="#c4c0dc" fill-opacity="0.6"/><circle cx="339.8" cy="251.0" r="0.55" fill="#c4c0dc" fill-opacity="0.6"/><circle cx="341.1" cy="252.5" r="0.55" fill="#c4c0dc" fill-opacity="0.6"/><circle cx="342.4" cy="254.0" r="0.55" fill="#c4c0dc" fill-opacity="0.6"/><circle cx="343.6" cy="255.4" r="0.55" fill="#c4c0dc" fill-opacity="0.6"/><circle cx="306.0" cy="215.4" r="0.55" fill="#c4c0dc" fill-opacity="0.6"/><circle cx="307.3" cy="216.9" r="0.55" fill="#c4c0dc" fill-opacity="0.6"/><circle cx="308.6" cy="218.3" r="0.55" fill="#c4c0dc" fill-opacity="0.6"/><circle cx="309.9" cy="219.8" r="0.55" fill="#c4c0dc" fill-opacity="0.6"/><circle cx="311.1" cy="221.3" r="0.55" fill="#c4c0dc" fill-opacity="0.6"/><circle cx="312.4" cy="222.7" r="0.55" fill="#c4c0dc" fill-opacity="0.6"/><circle cx="313.7" cy="224.2" r="0.55" fill="#c4c0dc" fill-opacity="0.6"/><circle cx="315.0" cy="225.7" r="0.55" fill="#c4c0dc" fill-opacity="0.6"/><circle cx="316.3" cy="227.2" r="0.55" fill="#c4c0dc" fill-opacity="0.6"/><circle cx="317.5" cy="228.6" r="0.55" fill="#c4c0dc" fill-opacity="0.6"/><circle cx="318.8" cy="230.1" r="0.55" fill="#c4c0dc" fill-opacity="0.6"/><circle cx="320.1" cy="231.6" r="0.55" fill="#c4c0dc" fill-opacity="0.6"/><circle cx="321.4" cy="233.0" r="0.55" fill="#c4c0dc" fill-opacity="0.6"/><circle cx="322.7" cy="234.5" r="0.55" fill="#c4c0dc" fill-opacity="0.6"/><circle cx="323.9" cy="236.0" r="0.55" fill="#c4c0dc" fill-opacity="0.6"/><circle cx="325.2" cy="237.5" r="0.55" fill="#c4c0dc" fill-opacity="0.6"/><circle cx="326.5" cy="238.9" r="0.55" fill="#c4c0dc" fill-opacity="0.6"/><circle cx="327.8" cy="240.4" r="0.55" fill="#c4c0dc" fill-opacity="0.6"/><circle cx="329.1" cy="241.9" r="0.55" fill="#c4c0dc" fill-opacity="0.6"/><circle cx="330.3" cy="243.3" r="0.55" fill="#c4c0dc" fill-opacity="0.6"/><circle cx="331.6" cy="244.8" r="0.55" fill="#c4c0dc" fill-opacity="0.6"/><circle cx="332.9" cy="246.3" r="0.55" fill="#c4c0dc" fill-opacity="0.6"/><circle cx="334.2" cy="247.8" r="0.55" fill="#c4c0dc" fill-opacity="0.6"/><circle cx="335.5" cy="249.2" r="0.55" fill="#c4c0dc" fill-opacity="0.6"/><circle cx="336.7" cy="250.7" r="0.55" fill="#c4c0dc" fill-opacity="0.6"/><circle cx="338.0" cy="252.2" r="0.55" fill="#c4c0dc" fill-opacity="0.6"/><circle cx="339.3" cy="253.6" r="0.55" fill="#c4c0dc" fill-opacity="0.6"/><circle cx="307.2" cy="219.9" r="0.55" fill="#c4c0dc" fill-opacity="0.6"/><circle cx="308.5" cy="221.4" r="0.55" fill="#c4c0dc" fill-opacity="0.6"/><circle cx="309.8" cy="222.9" r="0.55" fill="#c4c0dc" fill-opacity="0.6"/><circle cx="311.0" cy="224.3" r="0.55" fill="#c4c0dc" fill-opacity="0.6"/><circle cx="312.3" cy="225.8" r="0.55" fill="#c4c0dc" fill-opacity="0.6"/><circle cx="313.6" cy="227.3" r="0.55" fill="#c4c0dc" fill-opacity="0.6"/><circle cx="314.9" cy="228.8" r="0.55" fill="#c4c0dc" fill-opacity="0.6"/><circle cx="316.2" cy="230.2" r="0.55" fill="#c4c0dc" fill-opacity="0.6"/><circle cx="317.4" cy="231.7" r="0.55" fill="#c4c0dc" fill-opacity="0.6"/><circle cx="318.7" cy="233.2" r="0.55" fill="#c4c0dc" fill-opacity="0.6"/><circle cx="320.0" cy="234.6" r="0.55" fill="#c4c0dc" fill-opacity="0.6"/><circle cx="321.3" cy="236.1" r="0.55" fill="#c4c0dc" fill-opacity="0.6"/><circle cx="322.6" cy="237.6" r="0.55" fill="#c4c0dc" fill-opacity="0.6"/><circle cx="323.8" cy="239.1" r="0.55" fill="#c4c0dc" fill-opacity="0.6"/><circle cx="325.1" cy="240.5" r="0.55" fill="#c4c0dc" fill-opacity="0.6"/><circle cx="326.4" cy="242.0" r="0.55" fill="#c4c0dc" fill-opacity="0.6"/><circle cx="327.7" cy="243.5" r="0.55" fill="#c4c0dc" fill-opacity="0.6"/><circle cx="328.9" cy="244.9" r="0.55" fill="#c4c0dc" fill-opacity="0.6"/><circle cx="330.2" cy="246.4" r="0.55" fill="#c4c0dc" fill-opacity="0.6"/><circle cx="331.5" cy="247.9" r="0.55" fill="#c4c0dc" fill-opacity="0.6"/><circle cx="332.8" cy="249.4" r="0.55" fill="#c4c0dc" fill-opacity="0.6"/><circle cx="334.1" cy="250.8" r="0.55" fill="#c4c0dc" fill-opacity="0.6"/><circle cx="335.3" cy="252.3" r="0.55" fill="#c4c0dc" fill-opacity="0.6"/><circle cx="310.5" cy="227.0" r="0.55" fill="#c4c0dc" fill-opacity="0.6"/><circle cx="311.8" cy="228.4" r="0.55" fill="#c4c0dc" fill-opacity="0.6"/><circle cx="313.1" cy="229.9" r="0.55" fill="#c4c0dc" fill-opacity="0.6"/><circle cx="314.4" cy="231.4" r="0.55" fill="#c4c0dc" fill-opacity="0.6"/><circle cx="315.7" cy="232.9" r="0.55" fill="#c4c0dc" fill-opacity="0.6"/><circle cx="316.9" cy="234.3" r="0.55" fill="#c4c0dc" fill-opacity="0.6"/><circle cx="318.2" cy="235.8" r="0.55" fill="#c4c0dc" fill-opacity="0.6"/><circle cx="319.5" cy="237.3" r="0.55" fill="#c4c0dc" fill-opacity="0.6"/><circle cx="320.8" cy="238.7" r="0.55" fill="#c4c0dc" fill-opacity="0.6"/><circle cx="322.0" cy="240.2" r="0.55" fill="#c4c0dc" fill-opacity="0.6"/><circle cx="323.3" cy="241.7" r="0.55" fill="#c4c0dc" fill-opacity="0.6"/><circle cx="324.6" cy="243.2" r="0.55" fill="#c4c0dc" fill-opacity="0.6"/><circle cx="325.9" cy="244.6" r="0.55" fill="#c4c0dc" fill-opacity="0.6"/><circle cx="327.2" cy="246.1" r="0.55" fill="#c4c0dc" fill-opacity="0.6"/><circle cx="328.4" cy="247.6" r="0.55" fill="#c4c0dc" fill-opacity="0.6"/></g>
<defs><radialGradient id="slipell" cx="0.5" cy="0.5" r="0.5">
 <stop offset="0" stop-color="#c4f2f6"/>
 <stop offset="0.35" stop-color="#8ad4ee"/>
 <stop offset="0.6" stop-color="#5c8ee0"/>
 <stop offset="0.75" stop-color="#8a5ad6"/>
 <stop offset="0.9" stop-color="#b070e0" stop-opacity="0.85"/>
 <stop offset="1" stop-color="#d8a8f0" stop-opacity="0.2"/>
</radialGradient></defs>
<ellipse cx="344.5" cy="265.6" rx="13.6" ry="4.9" fill="url(#slipell)" transform="rotate(30 344.5 265.6)"/>
<line x1="304.20" y1="253.40" x2="379.30" y2="303.70" stroke="#231f20" stroke-width="0.8"/>
<circle cx="347.20" cy="257.40" r="2.65" fill="#f08c34" stroke="#3a2a3a" stroke-width="0.45"/>
<circle cx="352.20" cy="270.50" r="2.65" fill="#d8385a" stroke="#3a2a3a" stroke-width="0.45"/>
<circle cx="340.20" cy="283.70" r="2.65" fill="#7a1fb0" stroke="#3a2a3a" stroke-width="0.45"/>
<circle cx="398.40" cy="283.70" r="2.65" fill="#7a1fb0" stroke="#3a2a3a" stroke-width="0.45"/>
<circle cx="370.30" cy="297.20" r="2.65" fill="#2a2a78" stroke="#3a2a3a" stroke-width="0.45"/>
<text x="350.80" y="256.20" font-size="6.14" text-anchor="start" fill="#231f20" textLength="40.00" lengthAdjust="spacingAndGlyphs" style="stroke:none">2024/01/01_M5.9</text>
<text x="355.80" y="268.90" font-size="6.14" text-anchor="start" fill="#231f20" textLength="40.20" lengthAdjust="spacingAndGlyphs" style="stroke:none">2024/01/01_M5.5</text>
<text x="343.80" y="282.50" font-size="6.14" text-anchor="start" fill="#231f20" textLength="40.10" lengthAdjust="spacingAndGlyphs" style="stroke:none">2023/05/05_M5.9</text>
<text x="355.80" y="288.90" font-size="6.14" text-anchor="start" fill="#231f20" textLength="40.20" lengthAdjust="spacingAndGlyphs" style="stroke:none">2024/06/03_M6.0</text>
<text x="327.70" y="302.00" font-size="6.14" text-anchor="start" fill="#231f20" textLength="40.50" lengthAdjust="spacingAndGlyphs" style="stroke:none">2024/01/01_M7.6</text>
<line x1="304.20" y1="190.70" x2="304.20" y2="186.30" stroke="#888" stroke-width="0.7"/>
<line x1="304.20" y1="303.70" x2="304.20" y2="308.10" stroke="#888" stroke-width="0.7"/>
<line x1="310.85" y1="190.70" x2="310.85" y2="188.80" stroke="#231f20" stroke-width="0.7"/>
<line x1="310.85" y1="303.70" x2="310.85" y2="305.60" stroke="#231f20" stroke-width="0.7"/>
<line x1="317.51" y1="190.70" x2="317.51" y2="188.80" stroke="#231f20" stroke-width="0.7"/>
<line x1="317.51" y1="303.70" x2="317.51" y2="305.60" stroke="#231f20" stroke-width="0.7"/>
<line x1="324.16" y1="190.70" x2="324.16" y2="188.80" stroke="#231f20" stroke-width="0.7"/>
<line x1="324.16" y1="303.70" x2="324.16" y2="305.60" stroke="#231f20" stroke-width="0.7"/>
<line x1="330.81" y1="190.70" x2="330.81" y2="188.80" stroke="#231f20" stroke-width="0.7"/>
<line x1="330.81" y1="303.70" x2="330.81" y2="305.60" stroke="#231f20" stroke-width="0.7"/>
<line x1="337.47" y1="190.70" x2="337.47" y2="186.30" stroke="#888" stroke-width="0.7"/>
<line x1="337.47" y1="303.70" x2="337.47" y2="308.10" stroke="#888" stroke-width="0.7"/>
<line x1="344.12" y1="190.70" x2="344.12" y2="188.80" stroke="#231f20" stroke-width="0.7"/>
<line x1="344.12" y1="303.70" x2="344.12" y2="305.60" stroke="#231f20" stroke-width="0.7"/>
<line x1="350.77" y1="190.70" x2="350.77" y2="188.80" stroke="#231f20" stroke-width="0.7"/>
<line x1="350.77" y1="303.70" x2="350.77" y2="305.60" stroke="#231f20" stroke-width="0.7"/>
<line x1="357.43" y1="190.70" x2="357.43" y2="188.80" stroke="#231f20" stroke-width="0.7"/>
<line x1="357.43" y1="303.70" x2="357.43" y2="305.60" stroke="#231f20" stroke-width="0.7"/>
<line x1="364.08" y1="190.70" x2="364.08" y2="188.80" stroke="#231f20" stroke-width="0.7"/>
<line x1="364.08" y1="303.70" x2="364.08" y2="305.60" stroke="#231f20" stroke-width="0.7"/>
<line x1="370.73" y1="190.70" x2="370.73" y2="186.30" stroke="#888" stroke-width="0.7"/>
<line x1="370.73" y1="303.70" x2="370.73" y2="308.10" stroke="#888" stroke-width="0.7"/>
<line x1="377.39" y1="190.70" x2="377.39" y2="188.80" stroke="#231f20" stroke-width="0.7"/>
<line x1="377.39" y1="303.70" x2="377.39" y2="305.60" stroke="#231f20" stroke-width="0.7"/>
<line x1="384.04" y1="190.70" x2="384.04" y2="188.80" stroke="#231f20" stroke-width="0.7"/>
<line x1="384.04" y1="303.70" x2="384.04" y2="305.60" stroke="#231f20" stroke-width="0.7"/>
<line x1="390.69" y1="190.70" x2="390.69" y2="188.80" stroke="#231f20" stroke-width="0.7"/>
<line x1="390.69" y1="303.70" x2="390.69" y2="305.60" stroke="#231f20" stroke-width="0.7"/>
<line x1="397.35" y1="190.70" x2="397.35" y2="188.80" stroke="#231f20" stroke-width="0.7"/>
<line x1="397.35" y1="303.70" x2="397.35" y2="305.60" stroke="#231f20" stroke-width="0.7"/>
<line x1="404.00" y1="190.70" x2="404.00" y2="186.30" stroke="#888" stroke-width="0.7"/>
<line x1="404.00" y1="303.70" x2="404.00" y2="308.10" stroke="#888" stroke-width="0.7"/>
<line x1="304.20" y1="190.70" x2="299.60" y2="190.70" stroke="#231f20" stroke-width="0.7"/>
<line x1="404.00" y1="190.70" x2="408.60" y2="190.70" stroke="#231f20" stroke-width="0.7"/>
<line x1="304.20" y1="197.36" x2="302.10" y2="197.36" stroke="#231f20" stroke-width="0.7"/>
<line x1="404.00" y1="197.36" x2="406.10" y2="197.36" stroke="#231f20" stroke-width="0.7"/>
<line x1="304.20" y1="204.02" x2="302.10" y2="204.02" stroke="#231f20" stroke-width="0.7"/>
<line x1="404.00" y1="204.02" x2="406.10" y2="204.02" stroke="#231f20" stroke-width="0.7"/>
<line x1="304.20" y1="210.68" x2="302.10" y2="210.68" stroke="#231f20" stroke-width="0.7"/>
<line x1="404.00" y1="210.68" x2="406.10" y2="210.68" stroke="#231f20" stroke-width="0.7"/>
<line x1="304.20" y1="217.34" x2="302.10" y2="217.34" stroke="#231f20" stroke-width="0.7"/>
<line x1="404.00" y1="217.34" x2="406.10" y2="217.34" stroke="#231f20" stroke-width="0.7"/>
<line x1="304.20" y1="224.00" x2="299.60" y2="224.00" stroke="#231f20" stroke-width="0.7"/>
<line x1="404.00" y1="224.00" x2="408.60" y2="224.00" stroke="#231f20" stroke-width="0.7"/>
<line x1="304.20" y1="230.66" x2="302.10" y2="230.66" stroke="#231f20" stroke-width="0.7"/>
<line x1="404.00" y1="230.66" x2="406.10" y2="230.66" stroke="#231f20" stroke-width="0.7"/>
<line x1="304.20" y1="237.32" x2="302.10" y2="237.32" stroke="#231f20" stroke-width="0.7"/>
<line x1="404.00" y1="237.32" x2="406.10" y2="237.32" stroke="#231f20" stroke-width="0.7"/>
<line x1="304.20" y1="243.98" x2="302.10" y2="243.98" stroke="#231f20" stroke-width="0.7"/>
<line x1="404.00" y1="243.98" x2="406.10" y2="243.98" stroke="#231f20" stroke-width="0.7"/>
<line x1="304.20" y1="250.64" x2="302.10" y2="250.64" stroke="#231f20" stroke-width="0.7"/>
<line x1="404.00" y1="250.64" x2="406.10" y2="250.64" stroke="#231f20" stroke-width="0.7"/>
<line x1="304.20" y1="257.30" x2="299.60" y2="257.30" stroke="#231f20" stroke-width="0.7"/>
<line x1="404.00" y1="257.30" x2="408.60" y2="257.30" stroke="#231f20" stroke-width="0.7"/>
<line x1="304.20" y1="263.96" x2="302.10" y2="263.96" stroke="#231f20" stroke-width="0.7"/>
<line x1="404.00" y1="263.96" x2="406.10" y2="263.96" stroke="#231f20" stroke-width="0.7"/>
<line x1="304.20" y1="270.62" x2="302.10" y2="270.62" stroke="#231f20" stroke-width="0.7"/>
<line x1="404.00" y1="270.62" x2="406.10" y2="270.62" stroke="#231f20" stroke-width="0.7"/>
<line x1="304.20" y1="277.28" x2="302.10" y2="277.28" stroke="#231f20" stroke-width="0.7"/>
<line x1="404.00" y1="277.28" x2="406.10" y2="277.28" stroke="#231f20" stroke-width="0.7"/>
<line x1="304.20" y1="283.94" x2="302.10" y2="283.94" stroke="#231f20" stroke-width="0.7"/>
<line x1="404.00" y1="283.94" x2="406.10" y2="283.94" stroke="#231f20" stroke-width="0.7"/>
<line x1="304.20" y1="290.60" x2="299.60" y2="290.60" stroke="#231f20" stroke-width="0.7"/>
<line x1="404.00" y1="290.60" x2="408.60" y2="290.60" stroke="#231f20" stroke-width="0.7"/>
<line x1="304.20" y1="297.26" x2="302.10" y2="297.26" stroke="#231f20" stroke-width="0.7"/>
<line x1="404.00" y1="297.26" x2="406.10" y2="297.26" stroke="#231f20" stroke-width="0.7"/>
<line x1="304.20" y1="303.92" x2="302.10" y2="303.92" stroke="#231f20" stroke-width="0.7"/>
<line x1="404.00" y1="303.92" x2="406.10" y2="303.92" stroke="#231f20" stroke-width="0.7"/>
<rect x="304.20" y="190.70" width="99.80" height="113.00" fill="none" stroke="#231f20" stroke-width="1.3"/>
<text x="303.40" y="182.10" font-size="11.09" text-anchor="middle" fill="#231f20" textLength="18.00" lengthAdjust="spacingAndGlyphs">−10</text>
<text x="336.67" y="182.10" font-size="11.09" text-anchor="middle" fill="#231f20" textLength="12.60" lengthAdjust="spacingAndGlyphs">−5</text>
<text x="370.73" y="182.10" font-size="11.09" text-anchor="middle" fill="#231f20" textLength="5.20" lengthAdjust="spacingAndGlyphs">0</text>
<text x="404.00" y="182.10" font-size="11.09" text-anchor="middle" fill="#231f20" textLength="5.20" lengthAdjust="spacingAndGlyphs">5</text>
<text x="294.60" y="194.00" font-size="11.09" text-anchor="end" fill="#231f20" textLength="5.20" lengthAdjust="spacingAndGlyphs">0</text>
<text x="294.60" y="227.30" font-size="11.09" text-anchor="end" fill="#231f20" textLength="5.20" lengthAdjust="spacingAndGlyphs">5</text>
<text x="294.60" y="260.60" font-size="11.09" text-anchor="end" fill="#231f20" textLength="10.50" lengthAdjust="spacingAndGlyphs">10</text>
<text x="294.60" y="293.90" font-size="11.09" text-anchor="end" fill="#231f20" textLength="10.50" lengthAdjust="spacingAndGlyphs">15</text>
<text x="353.80" y="166.90" font-size="11.33" text-anchor="middle" fill="#231f20" textLength="62.20" lengthAdjust="spacingAndGlyphs">Distance (km)</text>
<text x="352.00" y="201.60" font-size="11.56" text-anchor="middle" fill="#231f20" textLength="59.80" lengthAdjust="spacingAndGlyphs">cross-section</text>
<text x="275.00" y="246.60" font-size="11.33" text-anchor="middle" fill="#231f20" textLength="52.60" lengthAdjust="spacingAndGlyphs" transform="rotate(-90 275.00 246.60)">Depth (km)</text>
<rect x="469.13" y="54.40" width="26.89" height="25.70" fill="#ddf1fa"/>
<rect x="535.93" y="54.40" width="26.89" height="25.70" fill="#ddf1fa"/>
<rect x="602.43" y="54.40" width="26.89" height="25.70" fill="#ddf1fa"/>
<rect x="469.13" y="93.84" width="26.89" height="26.00" fill="#ddf1fa"/>
<rect x="535.93" y="93.84" width="26.89" height="26.00" fill="#ddf1fa"/>
<rect x="602.43" y="93.84" width="26.89" height="26.00" fill="#ddf1fa"/>
<rect x="469.13" y="133.58" width="26.89" height="26.00" fill="#ddf1fa"/>
<rect x="535.93" y="133.58" width="26.89" height="26.00" fill="#ddf1fa"/>
<rect x="602.43" y="133.58" width="26.89" height="26.00" fill="#ddf1fa"/>
<rect x="469.13" y="173.32" width="26.89" height="26.00" fill="#ddf1fa"/>
<rect x="535.93" y="173.32" width="26.89" height="26.00" fill="#ddf1fa"/>
<rect x="602.43" y="173.32" width="26.89" height="26.00" fill="#ddf1fa"/>
<rect x="469.13" y="213.06" width="26.89" height="26.00" fill="#ddf1fa"/>
<rect x="535.93" y="213.06" width="26.89" height="26.00" fill="#ddf1fa"/>
<rect x="602.43" y="213.06" width="26.89" height="26.00" fill="#ddf1fa"/>
<rect x="469.13" y="252.80" width="26.89" height="26.00" fill="#ddf1fa"/>
<rect x="535.93" y="252.80" width="26.89" height="26.00" fill="#ddf1fa"/>
<rect x="602.43" y="252.80" width="26.89" height="26.00" fill="#ddf1fa"/>
<path d="M469.13 74.08 C469.48 74.02 470.44 73.09 471.24 73.74 C472.05 74.39 472.95 78.16 473.95 77.97 C474.94 77.78 476.11 73.01 477.19 72.58 C478.27 72.14 479.44 75.07 480.43 75.36 C481.42 75.65 479.04 74.50 483.14 74.32 C487.23 74.15 501.35 74.32 504.99 74.32" stroke="#e8a0d8" stroke-width="0.75" fill="none" stroke-opacity="0.75"/>
<path d="M469.13 73.12 C469.48 73.07 470.44 72.17 471.24 72.80 C472.05 73.43 472.95 77.09 473.95 76.91 C474.94 76.73 476.11 72.13 477.19 71.72 C478.27 71.30 479.44 74.15 480.43 74.42 C481.42 74.69 479.04 73.52 483.14 73.34 C487.23 73.16 501.35 73.34 504.99 73.34" stroke="#e8344a" stroke-width="0.75" fill="none" stroke-opacity="0.75"/>
<path d="M469.13 72.17 C469.48 72.11 470.44 71.24 471.24 71.86 C472.05 72.47 472.95 76.01 473.95 75.84 C474.94 75.67 476.11 71.25 477.19 70.85 C478.27 70.46 479.44 73.23 480.43 73.48 C481.42 73.73 479.04 72.54 483.14 72.35 C487.23 72.16 501.35 72.35 504.99 72.35" stroke="#f59a3a" stroke-width="0.75" fill="none" stroke-opacity="0.75"/>
<path d="M469.13 71.21 C469.48 71.16 470.44 70.32 471.24 70.92 C472.05 71.51 472.95 74.93 473.95 74.78 C474.94 74.62 476.11 70.36 477.19 69.99 C478.27 69.62 479.44 72.31 480.43 72.54 C481.42 72.77 479.04 71.56 483.14 71.36 C487.23 71.17 501.35 71.36 504.99 71.36" stroke="#f5e54a" stroke-width="0.75" fill="none" stroke-opacity="0.75"/>
<path d="M469.13 70.25 C469.48 70.21 470.44 69.40 471.24 69.98 C472.05 70.55 472.95 73.86 473.95 73.71 C474.94 73.57 476.11 69.48 477.19 69.13 C478.27 68.77 479.44 71.39 480.43 71.60 C481.42 71.81 479.04 70.58 483.14 70.38 C487.23 70.18 501.35 70.38 504.99 70.38" stroke="#96cc1a" stroke-width="0.75" fill="none" stroke-opacity="0.75"/>
<path d="M469.13 69.30 C469.48 69.26 470.44 68.48 471.24 69.04 C472.05 69.60 472.95 72.78 473.95 72.65 C474.94 72.52 476.11 68.60 477.19 68.26 C478.27 67.93 479.44 70.47 480.43 70.66 C481.42 70.85 479.04 69.60 483.14 69.39 C487.23 69.18 501.35 69.39 504.99 69.39" stroke="#8cd8e8" stroke-width="0.75" fill="none" stroke-opacity="0.75"/>
<path d="M469.13 68.34 C469.48 68.30 470.44 67.56 471.24 68.10 C472.05 68.64 472.95 71.70 473.95 71.59 C474.94 71.47 476.11 67.71 477.19 67.40 C478.27 67.09 479.44 69.55 480.43 69.72 C481.42 69.89 479.04 68.62 483.14 68.41 C487.23 68.19 501.35 68.41 504.99 68.41" stroke="#5fb0e0" stroke-width="0.75" fill="none" stroke-opacity="0.75"/>
<path d="M469.13 67.39 C469.48 67.35 470.44 66.63 471.24 67.16 C472.05 67.68 472.95 70.63 473.95 70.52 C474.94 70.42 476.11 66.83 477.19 66.54 C478.27 66.25 479.44 68.63 480.43 68.78 C481.42 68.92 479.04 67.65 483.14 67.42 C487.23 67.19 501.35 67.42 504.99 67.42" stroke="#3b6fc0" stroke-width="0.75" fill="none" stroke-opacity="0.75"/>
<path d="M469.13 66.43 C469.48 66.40 470.44 65.71 471.24 66.22 C472.05 66.72 472.95 69.55 473.95 69.46 C474.94 69.37 476.11 65.95 477.19 65.68 C478.27 65.41 479.44 67.71 480.43 67.84 C481.42 67.96 479.04 66.67 483.14 66.43 C487.23 66.20 501.35 66.43 504.99 66.43" stroke="#3a3a9a" stroke-width="0.75" fill="none" stroke-opacity="0.75"/>
<path d="M535.93 74.86 C536.59 75.33 538.58 77.81 539.86 77.64 C541.15 77.48 542.39 74.07 543.65 73.88 C544.91 73.68 546.26 76.32 547.43 76.49 C548.60 76.65 546.62 75.14 550.68 74.86 C554.74 74.59 568.27 74.86 571.79 74.86" stroke="#e8a0d8" stroke-width="0.75" fill="none" stroke-opacity="0.75"/>
<path d="M535.93 73.78 C536.59 74.23 538.58 76.63 539.86 76.49 C541.15 76.34 542.39 73.10 543.65 72.92 C544.91 72.74 546.26 75.26 547.43 75.41 C548.60 75.55 546.62 74.05 550.68 73.78 C554.74 73.51 568.27 73.78 571.79 73.78" stroke="#e8344a" stroke-width="0.75" fill="none" stroke-opacity="0.75"/>
<path d="M535.93 72.70 C536.59 73.14 538.58 75.45 539.86 75.33 C541.15 75.20 542.39 72.13 543.65 71.96 C544.91 71.79 546.26 74.20 547.43 74.32 C548.60 74.45 546.62 72.97 550.68 72.70 C554.74 72.43 568.27 72.70 571.79 72.70" stroke="#f59a3a" stroke-width="0.75" fill="none" stroke-opacity="0.75"/>
<path d="M535.93 71.62 C536.59 72.05 538.58 74.27 539.86 74.17 C541.15 74.07 542.39 71.16 543.65 71.00 C544.91 70.85 546.26 73.14 547.43 73.24 C548.60 73.35 546.62 71.89 550.68 71.62 C554.74 71.35 568.27 71.62 571.79 71.62" stroke="#f5e54a" stroke-width="0.75" fill="none" stroke-opacity="0.75"/>
<path d="M535.93 70.54 C536.59 70.95 538.58 73.09 539.86 73.01 C541.15 72.93 542.39 70.19 543.65 70.05 C544.91 69.90 546.26 72.08 547.43 72.16 C548.60 72.24 546.62 70.81 550.68 70.54 C554.74 70.27 568.27 70.54 571.79 70.54" stroke="#96cc1a" stroke-width="0.75" fill="none" stroke-opacity="0.75"/>
<path d="M535.93 69.46 C536.59 69.86 538.58 71.92 539.86 71.85 C541.15 71.79 542.39 69.22 543.65 69.09 C544.91 68.96 546.26 71.02 547.43 71.08 C548.60 71.14 546.62 69.73 550.68 69.46 C554.74 69.19 568.27 69.46 571.79 69.46" stroke="#8cd8e8" stroke-width="0.75" fill="none" stroke-opacity="0.75"/>
<path d="M535.93 68.38 C536.59 68.76 538.58 70.74 539.86 70.69 C541.15 70.65 542.39 68.25 543.65 68.13 C544.91 68.02 546.26 69.96 547.43 70.00 C548.60 70.04 546.62 68.65 550.68 68.38 C554.74 68.11 568.27 68.38 571.79 68.38" stroke="#5fb0e0" stroke-width="0.75" fill="none" stroke-opacity="0.75"/>
<path d="M535.93 67.30 C536.59 67.67 538.58 69.56 539.86 69.54 C541.15 69.52 542.39 67.28 543.65 67.17 C544.91 67.07 546.26 68.90 547.43 68.92 C548.60 68.94 546.62 67.57 550.68 67.30 C554.74 67.03 568.27 67.30 571.79 67.30" stroke="#3b6fc0" stroke-width="0.75" fill="none" stroke-opacity="0.75"/>
<path d="M535.93 66.22 C536.59 66.58 538.58 68.38 539.86 68.38 C541.15 68.38 542.39 66.31 543.65 66.22 C544.91 66.13 546.26 67.84 547.43 67.84 C548.60 67.84 546.62 66.49 550.68 66.22 C554.74 65.95 568.27 66.22 571.79 66.22" stroke="#3a3a9a" stroke-width="0.75" fill="none" stroke-opacity="0.75"/>
<path d="M602.43 76.78 C603.29 76.15 605.99 72.82 607.57 73.00 C609.14 73.18 610.72 77.56 611.89 77.86 C613.06 78.16 613.78 75.25 614.59 74.79 C615.41 74.32 612.81 75.03 616.76 75.08 C620.71 75.13 634.70 75.08 638.29 75.08" stroke="#e8a0d8" stroke-width="0.75" fill="none" stroke-opacity="0.75"/>
<path d="M602.43 75.66 C603.29 75.03 605.99 71.70 607.57 71.88 C609.14 72.06 610.72 76.44 611.89 76.74 C613.06 77.05 613.78 74.17 614.59 73.72 C615.41 73.27 612.81 73.99 616.76 74.04 C620.71 74.09 634.70 74.04 638.29 74.04" stroke="#e8344a" stroke-width="0.75" fill="none" stroke-opacity="0.75"/>
<path d="M602.43 74.54 C603.29 73.91 605.99 70.58 607.57 70.76 C609.14 70.94 610.72 75.31 611.89 75.63 C613.06 75.94 613.78 73.08 614.59 72.64 C615.41 72.21 612.81 72.94 616.76 73.00 C620.71 73.06 634.70 73.00 638.29 73.00" stroke="#f59a3a" stroke-width="0.75" fill="none" stroke-opacity="0.75"/>
<path d="M602.43 73.43 C603.29 72.80 605.99 69.46 607.57 69.64 C609.14 69.82 610.72 74.19 611.89 74.51 C613.06 74.83 613.78 72.00 614.59 71.57 C615.41 71.15 612.81 71.90 616.76 71.96 C620.71 72.02 634.70 71.96 638.29 71.96" stroke="#f5e54a" stroke-width="0.75" fill="none" stroke-opacity="0.75"/>
<path d="M602.43 72.31 C603.29 71.68 605.99 68.34 607.57 68.53 C609.14 68.71 610.72 73.06 611.89 73.39 C613.06 73.72 613.78 70.91 614.59 70.50 C615.41 70.09 612.81 70.85 616.76 70.92 C620.71 70.99 634.70 70.92 638.29 70.92" stroke="#96cc1a" stroke-width="0.75" fill="none" stroke-opacity="0.75"/>
<path d="M602.43 71.19 C603.29 70.56 605.99 67.23 607.57 67.41 C609.14 67.59 610.72 71.94 611.89 72.27 C613.06 72.61 613.78 69.83 614.59 69.43 C615.41 69.03 612.81 69.80 616.76 69.88 C620.71 69.95 634.70 69.88 638.29 69.88" stroke="#8cd8e8" stroke-width="0.75" fill="none" stroke-opacity="0.75"/>
<path d="M602.43 70.07 C603.29 69.44 605.99 66.11 607.57 66.29 C609.14 66.47 610.72 70.81 611.89 71.15 C613.06 71.50 613.78 68.75 614.59 68.36 C615.41 67.97 612.81 68.76 616.76 68.84 C620.71 68.92 634.70 68.84 638.29 68.84" stroke="#5fb0e0" stroke-width="0.75" fill="none" stroke-opacity="0.75"/>
<path d="M602.43 68.96 C603.29 68.32 605.99 64.99 607.57 65.17 C609.14 65.35 610.72 69.68 611.89 70.04 C613.06 70.39 613.78 67.66 614.59 67.29 C615.41 66.91 612.81 67.71 616.76 67.80 C620.71 67.88 634.70 67.80 638.29 67.80" stroke="#3b6fc0" stroke-width="0.75" fill="none" stroke-opacity="0.75"/>
<path d="M602.43 67.84 C603.29 67.21 605.99 63.87 607.57 64.05 C609.14 64.23 610.72 68.56 611.89 68.92 C613.06 69.28 613.78 66.58 614.59 66.22 C615.41 65.86 612.81 66.67 616.76 66.76 C620.71 66.85 634.70 66.76 638.29 66.76" stroke="#3a3a9a" stroke-width="0.75" fill="none" stroke-opacity="0.75"/>
<path d="M469.13 117.03 C469.21 117.03 469.14 116.81 469.62 117.03 C470.10 117.25 471.19 118.58 472.00 118.34 C472.81 118.10 473.66 115.22 474.49 115.59 C475.32 115.96 476.13 120.89 476.97 120.55 C477.82 120.20 478.63 113.77 479.57 113.52 C480.50 113.27 481.64 118.62 482.59 119.05 C483.55 119.49 484.40 116.40 485.30 116.13 C486.20 115.87 487.10 117.31 488.00 117.46 C488.90 117.61 487.87 117.10 490.70 117.03 C493.53 116.95 502.61 117.03 504.99 117.03" stroke="#e8a0d8" stroke-width="0.75" fill="none" stroke-opacity="0.75"/>
<path d="M469.13 115.70 C469.21 115.70 469.14 115.52 469.62 115.70 C470.10 115.88 471.19 117.05 472.00 116.78 C472.81 116.51 473.66 113.68 474.49 114.08 C475.32 114.48 476.13 119.49 476.97 119.16 C477.82 118.84 478.63 112.39 479.57 112.14 C480.50 111.88 481.64 117.20 482.59 117.65 C483.55 118.10 484.40 115.09 485.30 114.84 C486.20 114.59 487.10 115.99 488.00 116.14 C488.90 116.28 487.87 115.77 490.70 115.70 C493.53 115.63 502.61 115.70 504.99 115.70" stroke="#e8344a" stroke-width="0.75" fill="none" stroke-opacity="0.75"/>
<path d="M469.13 114.38 C469.21 114.38 469.14 114.24 469.62 114.38 C470.10 114.52 471.19 115.53 472.00 115.23 C472.81 114.93 473.66 112.15 474.49 112.57 C475.32 113.00 476.13 118.08 476.97 117.78 C477.82 117.47 478.63 111.00 479.57 110.75 C480.50 110.49 481.64 115.78 482.59 116.25 C483.55 116.71 484.40 113.78 485.30 113.54 C486.20 113.31 487.10 114.67 488.00 114.81 C488.90 114.95 487.87 114.45 490.70 114.38 C493.53 114.31 502.61 114.38 504.99 114.38" stroke="#f59a3a" stroke-width="0.75" fill="none" stroke-opacity="0.75"/>
<path d="M469.13 113.05 C469.21 113.05 469.14 112.95 469.62 113.05 C470.10 113.16 471.19 114.00 472.00 113.67 C472.81 113.34 473.66 110.61 474.49 111.06 C475.32 111.51 476.13 116.67 476.97 116.39 C477.82 116.11 478.63 109.62 479.57 109.36 C480.50 109.11 481.64 114.36 482.59 114.85 C483.55 115.33 484.40 112.48 485.30 112.25 C486.20 112.02 487.10 113.35 488.00 113.49 C488.90 113.62 487.87 113.13 490.70 113.05 C493.53 112.98 502.61 113.05 504.99 113.05" stroke="#f5e54a" stroke-width="0.75" fill="none" stroke-opacity="0.75"/>
<path d="M469.13 111.73 C469.21 111.73 469.14 111.67 469.62 111.73 C470.10 111.79 471.19 112.48 472.00 112.12 C472.81 111.75 473.66 109.07 474.49 109.55 C475.32 110.03 476.13 115.27 476.97 115.00 C477.82 114.74 478.63 108.24 479.57 107.98 C480.50 107.72 481.64 112.95 482.59 113.44 C483.55 113.94 484.40 111.17 485.30 110.96 C486.20 110.74 487.10 112.03 488.00 112.16 C488.90 112.29 487.87 111.80 490.70 111.73 C493.53 111.66 502.61 111.73 504.99 111.73" stroke="#96cc1a" stroke-width="0.75" fill="none" stroke-opacity="0.75"/>
<path d="M469.13 110.41 C469.21 110.41 469.14 110.38 469.62 110.41 C470.10 110.43 471.19 110.95 472.00 110.56 C472.81 110.17 473.66 107.53 474.49 108.04 C475.32 108.55 476.13 113.86 476.97 113.62 C477.82 113.38 478.63 106.85 479.57 106.59 C480.50 106.33 481.64 111.53 482.59 112.04 C483.55 112.55 484.40 109.86 485.30 109.66 C486.20 109.46 487.10 110.71 488.00 110.84 C488.90 110.96 487.87 110.48 490.70 110.41 C493.53 110.33 502.61 110.41 504.99 110.41" stroke="#8cd8e8" stroke-width="0.75" fill="none" stroke-opacity="0.75"/>
<path d="M469.13 109.08 C469.21 109.08 469.14 109.09 469.62 109.08 C470.10 109.07 471.19 109.43 472.00 109.00 C472.81 108.58 473.66 105.99 474.49 106.53 C475.32 107.07 476.13 112.45 476.97 112.23 C477.82 112.01 478.63 105.47 479.57 105.20 C480.50 104.94 481.64 110.11 482.59 110.64 C483.55 111.17 484.40 108.56 485.30 108.37 C486.20 108.18 487.10 109.40 488.00 109.51 C488.90 109.63 487.87 109.15 490.70 109.08 C493.53 109.01 502.61 109.08 504.99 109.08" stroke="#5fb0e0" stroke-width="0.75" fill="none" stroke-opacity="0.75"/>
<path d="M469.13 107.76 C469.21 107.76 469.14 107.81 469.62 107.76 C470.10 107.71 471.19 107.90 472.00 107.45 C472.81 106.99 473.66 104.46 474.49 105.02 C475.32 105.59 476.13 111.05 476.97 110.85 C477.82 110.64 478.63 104.09 479.57 103.82 C480.50 103.55 481.64 108.70 482.59 109.24 C483.55 109.78 484.40 107.25 485.30 107.08 C486.20 106.90 487.10 108.08 488.00 108.19 C488.90 108.30 487.87 107.83 490.70 107.76 C493.53 107.68 502.61 107.76 504.99 107.76" stroke="#3b6fc0" stroke-width="0.75" fill="none" stroke-opacity="0.75"/>
<path d="M469.13 106.43 C469.21 106.43 469.14 106.52 469.62 106.43 C470.10 106.34 471.19 106.38 472.00 105.89 C472.81 105.41 473.66 102.92 474.49 103.51 C475.32 104.11 476.13 109.64 476.97 109.46 C477.82 109.28 478.63 102.70 479.57 102.43 C480.50 102.16 481.64 107.28 482.59 107.84 C483.55 108.40 484.40 105.95 485.30 105.78 C486.20 105.62 487.10 106.76 488.00 106.86 C488.90 106.97 487.87 106.50 490.70 106.43 C493.53 106.36 502.61 106.43 504.99 106.43" stroke="#3a3a9a" stroke-width="0.75" fill="none" stroke-opacity="0.75"/>
<path d="M535.93 116.49 C536.05 116.49 536.00 115.94 536.62 116.49 C537.24 117.04 538.53 121.21 539.65 119.79 C540.77 118.38 542.12 107.98 543.32 107.99 C544.53 108.01 545.81 118.83 546.89 119.88 C547.97 120.94 548.82 114.72 549.81 114.32 C550.80 113.93 551.79 117.18 552.84 117.54 C553.88 117.90 552.92 116.66 556.08 116.49 C559.24 116.31 569.17 116.49 571.79 116.49" stroke="#e8a0d8" stroke-width="0.75" fill="none" stroke-opacity="0.75"/>
<path d="M535.93 115.20 C536.05 115.20 536.00 114.63 536.62 115.20 C537.24 115.78 538.53 120.01 539.65 118.66 C540.77 117.31 542.12 107.04 543.32 107.09 C544.53 107.15 545.81 118.00 546.89 118.99 C547.97 119.98 548.82 113.45 549.81 113.04 C550.80 112.63 551.79 116.14 552.84 116.50 C553.88 116.86 552.92 115.42 556.08 115.20 C559.24 114.99 569.17 115.20 571.79 115.20" stroke="#e8344a" stroke-width="0.75" fill="none" stroke-opacity="0.75"/>
<path d="M535.93 113.92 C536.05 113.92 536.00 113.32 536.62 113.92 C537.24 114.52 538.53 118.82 539.65 117.53 C540.77 116.25 542.12 106.10 543.32 106.20 C544.53 106.29 545.81 117.16 546.89 118.09 C547.97 119.02 548.82 112.19 549.81 111.76 C550.80 111.32 551.79 115.10 552.84 115.46 C553.88 115.82 552.92 114.18 556.08 113.92 C559.24 113.66 569.17 113.92 571.79 113.92" stroke="#f59a3a" stroke-width="0.75" fill="none" stroke-opacity="0.75"/>
<path d="M535.93 112.64 C536.05 112.64 536.00 112.01 536.62 112.64 C537.24 113.26 538.53 117.63 539.65 116.40 C540.77 115.18 542.12 105.17 543.32 105.30 C544.53 105.43 545.81 116.33 546.89 117.19 C547.97 118.05 548.82 110.93 549.81 110.47 C550.80 110.01 551.79 114.07 552.84 114.43 C553.88 114.79 552.92 112.93 556.08 112.64 C559.24 112.34 569.17 112.64 571.79 112.64" stroke="#f5e54a" stroke-width="0.75" fill="none" stroke-opacity="0.75"/>
<path d="M535.93 111.35 C536.05 111.35 536.00 110.70 536.62 111.35 C537.24 112.01 538.53 116.43 539.65 115.27 C540.77 114.12 542.12 104.23 543.32 104.40 C544.53 104.57 545.81 115.50 546.89 116.29 C547.97 117.09 548.82 109.67 549.81 109.19 C550.80 108.71 551.79 113.03 552.84 113.39 C553.88 113.75 552.92 111.69 556.08 111.35 C559.24 111.01 569.17 111.35 571.79 111.35" stroke="#96cc1a" stroke-width="0.75" fill="none" stroke-opacity="0.75"/>
<path d="M535.93 110.07 C536.05 110.07 536.00 109.39 536.62 110.07 C537.24 110.75 538.53 115.24 539.65 114.14 C540.77 113.05 542.12 103.30 543.32 103.50 C544.53 103.71 545.81 114.66 546.89 115.40 C547.97 116.13 548.82 108.41 549.81 107.91 C550.80 107.40 551.79 111.99 552.84 112.35 C553.88 112.71 552.92 110.45 556.08 110.07 C559.24 109.69 569.17 110.07 571.79 110.07" stroke="#8cd8e8" stroke-width="0.75" fill="none" stroke-opacity="0.75"/>
<path d="M535.93 108.78 C536.05 108.78 536.00 108.08 536.62 108.78 C537.24 109.49 538.53 114.05 539.65 113.02 C540.77 111.99 542.12 102.36 543.32 102.61 C544.53 102.85 545.81 113.83 546.89 114.50 C547.97 115.17 548.82 107.15 549.81 106.62 C550.80 106.09 551.79 110.96 552.84 111.32 C553.88 111.68 552.92 109.21 556.08 108.78 C559.24 108.36 569.17 108.78 571.79 108.78" stroke="#5fb0e0" stroke-width="0.75" fill="none" stroke-opacity="0.75"/>
<path d="M535.93 107.50 C536.05 107.50 536.00 106.77 536.62 107.50 C537.24 108.23 538.53 112.85 539.65 111.89 C540.77 110.92 542.12 101.42 543.32 101.71 C544.53 101.99 545.81 113.00 546.89 113.60 C547.97 114.21 548.82 105.89 549.81 105.34 C550.80 104.78 551.79 109.92 552.84 110.28 C553.88 110.64 552.92 107.96 556.08 107.50 C559.24 107.04 569.17 107.50 571.79 107.50" stroke="#3b6fc0" stroke-width="0.75" fill="none" stroke-opacity="0.75"/>
<path d="M535.93 106.22 C536.05 106.22 536.00 105.46 536.62 106.22 C537.24 106.97 538.53 111.66 539.65 110.76 C540.77 109.86 542.12 100.49 543.32 100.81 C544.53 101.14 545.81 112.16 546.89 112.70 C547.97 113.24 548.82 104.63 549.81 104.05 C550.80 103.48 551.79 108.88 552.84 109.24 C553.88 109.60 552.92 106.72 556.08 106.22 C559.24 105.71 569.17 106.22 571.79 106.22" stroke="#3a3a9a" stroke-width="0.75" fill="none" stroke-opacity="0.75"/>
<path d="M602.43 115.87 C602.51 115.87 602.24 115.05 602.92 115.87 C603.60 116.69 605.23 122.16 606.49 120.81 C607.75 119.46 609.17 107.72 610.49 107.76 C611.80 107.80 613.24 119.59 614.38 121.04 C615.51 122.50 616.45 117.08 617.30 116.49 C618.14 115.89 618.65 117.40 619.46 117.49 C620.27 117.58 619.02 117.10 622.16 117.03 C625.30 116.95 635.60 117.03 638.29 117.03" stroke="#e8a0d8" stroke-width="0.75" fill="none" stroke-opacity="0.75"/>
<path d="M602.43 114.66 C602.51 114.66 602.24 113.85 602.92 114.66 C603.60 115.47 605.23 120.88 606.49 119.53 C607.75 118.18 609.17 106.46 610.49 106.55 C611.80 106.64 613.24 118.63 614.38 120.07 C615.51 121.51 616.45 115.83 617.30 115.20 C618.14 114.57 618.65 116.19 619.46 116.28 C620.27 116.37 619.02 115.83 622.16 115.74 C625.30 115.65 635.60 115.74 638.29 115.74" stroke="#e8344a" stroke-width="0.75" fill="none" stroke-opacity="0.75"/>
<path d="M602.43 113.46 C602.51 113.46 602.24 112.66 602.92 113.46 C603.60 114.25 605.23 119.59 606.49 118.24 C607.75 116.89 609.17 105.21 610.49 105.35 C611.80 105.49 613.24 117.66 614.38 119.09 C615.51 120.52 616.45 114.59 617.30 113.92 C618.14 113.25 618.65 114.99 619.46 115.08 C620.27 115.17 619.02 114.56 622.16 114.46 C625.30 114.36 635.60 114.46 638.29 114.46" stroke="#f59a3a" stroke-width="0.75" fill="none" stroke-opacity="0.75"/>
<path d="M602.43 112.25 C602.51 112.25 602.24 111.46 602.92 112.25 C603.60 113.03 605.23 118.31 606.49 116.96 C607.75 115.61 609.17 103.95 610.49 104.14 C611.80 104.33 613.24 116.70 614.38 118.12 C615.51 119.53 616.45 113.34 617.30 112.64 C618.14 111.93 618.65 113.78 619.46 113.87 C620.27 113.96 619.02 113.29 622.16 113.18 C625.30 113.06 635.60 113.18 638.29 113.18" stroke="#f5e54a" stroke-width="0.75" fill="none" stroke-opacity="0.75"/>
<path d="M602.43 111.04 C602.51 111.04 602.24 110.27 602.92 111.04 C603.60 111.81 605.23 117.03 606.49 115.68 C607.75 114.32 609.17 102.69 610.49 102.93 C611.80 103.18 613.24 115.74 614.38 117.14 C615.51 118.55 616.45 112.10 617.30 111.35 C618.14 110.60 618.65 112.57 619.46 112.66 C620.27 112.75 619.02 112.02 622.16 111.89 C625.30 111.76 635.60 111.89 638.29 111.89" stroke="#96cc1a" stroke-width="0.75" fill="none" stroke-opacity="0.75"/>
<path d="M602.43 109.84 C602.51 109.84 602.24 109.08 602.92 109.84 C603.60 110.60 605.23 115.74 606.49 114.39 C607.75 113.04 609.17 101.43 610.49 101.73 C611.80 102.02 613.24 114.78 614.38 116.17 C615.51 117.56 616.45 110.85 617.30 110.07 C618.14 109.28 618.65 111.37 619.46 111.46 C620.27 111.55 619.02 110.75 622.16 110.61 C625.30 110.47 635.60 110.61 638.29 110.61" stroke="#8cd8e8" stroke-width="0.75" fill="none" stroke-opacity="0.75"/>
<path d="M602.43 108.63 C602.51 108.63 602.24 107.88 602.92 108.63 C603.60 109.38 605.23 114.46 606.49 113.11 C607.75 111.76 609.17 100.17 610.49 100.52 C611.80 100.87 613.24 113.82 614.38 115.19 C615.51 116.57 616.45 109.61 617.30 108.78 C618.14 107.96 618.65 110.16 619.46 110.25 C620.27 110.34 619.02 109.48 622.16 109.32 C625.30 109.17 635.60 109.32 638.29 109.32" stroke="#5fb0e0" stroke-width="0.75" fill="none" stroke-opacity="0.75"/>
<path d="M602.43 107.42 C602.51 107.42 602.24 106.69 602.92 107.42 C603.60 108.16 605.23 113.18 606.49 111.82 C607.75 110.47 609.17 98.92 610.49 99.31 C611.80 99.71 613.24 112.85 614.38 114.22 C615.51 115.58 616.45 108.36 617.30 107.50 C618.14 106.64 618.65 108.95 619.46 109.04 C620.27 109.13 619.02 108.21 622.16 108.04 C625.30 107.87 635.60 108.04 638.29 108.04" stroke="#3b6fc0" stroke-width="0.75" fill="none" stroke-opacity="0.75"/>
<path d="M602.43 106.22 C602.51 106.22 602.24 105.50 602.92 106.22 C603.60 106.94 605.23 111.89 606.49 110.54 C607.75 109.19 609.17 97.66 610.49 98.11 C611.80 98.56 613.24 111.89 614.38 113.24 C615.51 114.59 616.45 107.12 617.30 106.22 C618.14 105.32 618.65 107.75 619.46 107.84 C620.27 107.93 619.02 106.94 622.16 106.76 C625.30 106.58 635.60 106.76 638.29 106.76" stroke="#3a3a9a" stroke-width="0.75" fill="none" stroke-opacity="0.75"/>
<path d="M469.13 157.03 C469.21 157.03 467.02 157.03 469.62 157.03 C472.23 157.03 481.69 156.56 484.76 157.03 C487.82 157.50 487.01 160.05 488.00 159.84 C488.99 159.62 489.80 156.11 490.70 155.73 C491.60 155.35 492.59 157.35 493.41 157.57 C494.22 157.78 493.64 157.12 495.57 157.03 C497.50 156.94 503.42 157.03 504.99 157.03" stroke="#e8a0d8" stroke-width="0.75" fill="none" stroke-opacity="0.75"/>
<path d="M469.13 155.68 C469.21 155.68 467.02 155.68 469.62 155.68 C472.23 155.68 481.69 155.23 484.76 155.68 C487.82 156.13 487.01 158.59 488.00 158.38 C488.99 158.16 489.80 154.74 490.70 154.38 C491.60 154.02 492.59 156.00 493.41 156.22 C494.22 156.43 493.64 155.77 495.57 155.68 C497.50 155.59 503.42 155.68 504.99 155.68" stroke="#e8344a" stroke-width="0.75" fill="none" stroke-opacity="0.75"/>
<path d="M469.13 154.32 C469.21 154.32 467.02 154.32 469.62 154.32 C472.23 154.32 481.69 153.89 484.76 154.32 C487.82 154.76 487.01 157.14 488.00 156.92 C488.99 156.70 489.80 153.37 490.70 153.03 C491.60 152.68 492.59 154.65 493.41 154.86 C494.22 155.08 493.64 154.41 495.57 154.32 C497.50 154.23 503.42 154.32 504.99 154.32" stroke="#f59a3a" stroke-width="0.75" fill="none" stroke-opacity="0.75"/>
<path d="M469.13 152.97 C469.21 152.97 467.02 152.97 469.62 152.97 C472.23 152.97 481.69 152.56 484.76 152.97 C487.82 153.39 487.01 155.68 488.00 155.46 C488.99 155.24 489.80 152.00 490.70 151.68 C491.60 151.35 492.59 153.30 493.41 153.51 C494.22 153.73 493.64 153.06 495.57 152.97 C497.50 152.88 503.42 152.97 504.99 152.97" stroke="#f5e54a" stroke-width="0.75" fill="none" stroke-opacity="0.75"/>
<path d="M469.13 151.62 C469.21 151.62 467.02 151.62 469.62 151.62 C472.23 151.62 481.69 151.23 484.76 151.62 C487.82 152.02 487.01 154.22 488.00 154.00 C488.99 153.78 489.80 150.63 490.70 150.32 C491.60 150.02 492.59 151.95 493.41 152.16 C494.22 152.38 493.64 151.71 495.57 151.62 C497.50 151.53 503.42 151.62 504.99 151.62" stroke="#96cc1a" stroke-width="0.75" fill="none" stroke-opacity="0.75"/>
<path d="M469.13 150.27 C469.21 150.27 467.02 150.27 469.62 150.27 C472.23 150.27 481.69 149.89 484.76 150.27 C487.82 150.65 487.01 152.76 488.00 152.54 C488.99 152.32 489.80 149.26 490.70 148.97 C491.60 148.68 492.59 150.59 493.41 150.81 C494.22 151.03 493.64 150.36 495.57 150.27 C497.50 150.18 503.42 150.27 504.99 150.27" stroke="#8cd8e8" stroke-width="0.75" fill="none" stroke-opacity="0.75"/>
<path d="M469.13 148.92 C469.21 148.92 467.02 148.92 469.62 148.92 C472.23 148.92 481.69 148.56 484.76 148.92 C487.82 149.28 487.01 151.30 488.00 151.08 C488.99 150.86 489.80 147.89 490.70 147.62 C491.60 147.35 492.59 149.24 493.41 149.46 C494.22 149.68 493.64 149.01 495.57 148.92 C497.50 148.83 503.42 148.92 504.99 148.92" stroke="#5fb0e0" stroke-width="0.75" fill="none" stroke-opacity="0.75"/>
<path d="M469.13 147.57 C469.21 147.57 467.02 147.57 469.62 147.57 C472.23 147.57 481.69 147.23 484.76 147.57 C487.82 147.91 487.01 149.84 488.00 149.62 C488.99 149.41 489.80 146.52 490.70 146.27 C491.60 146.02 492.59 147.89 493.41 148.11 C494.22 148.32 493.64 147.66 495.57 147.57 C497.50 147.48 503.42 147.57 504.99 147.57" stroke="#3b6fc0" stroke-width="0.75" fill="none" stroke-opacity="0.75"/>
<path d="M469.13 146.22 C469.21 146.22 467.02 146.22 469.62 146.22 C472.23 146.22 481.69 145.89 484.76 146.22 C487.82 146.54 487.01 148.38 488.00 148.16 C488.99 147.95 489.80 145.15 490.70 144.92 C491.60 144.68 492.59 146.54 493.41 146.76 C494.22 146.97 493.64 146.31 495.57 146.22 C497.50 146.13 503.42 146.22 504.99 146.22" stroke="#3a3a9a" stroke-width="0.75" fill="none" stroke-opacity="0.75"/>
<path d="M535.93 156.49 C536.05 156.49 534.70 156.49 536.62 156.49 C538.54 156.49 545.09 156.38 547.43 156.49 C549.77 156.60 549.59 157.23 550.68 157.15 C551.76 157.08 552.66 156.15 553.92 156.04 C555.18 155.93 555.26 156.41 558.24 156.49 C561.22 156.56 569.53 156.49 571.79 156.49" stroke="#e8a0d8" stroke-width="0.75" fill="none" stroke-opacity="0.75"/>
<path d="M535.93 155.20 C536.05 155.20 534.70 155.20 536.62 155.20 C538.54 155.20 545.09 155.09 547.43 155.20 C549.77 155.31 549.59 155.92 550.68 155.85 C551.76 155.78 552.66 154.88 553.92 154.77 C555.18 154.66 555.26 155.13 558.24 155.20 C561.22 155.27 569.53 155.20 571.79 155.20" stroke="#e8344a" stroke-width="0.75" fill="none" stroke-opacity="0.75"/>
<path d="M535.93 153.92 C536.05 153.92 534.70 153.92 536.62 153.92 C538.54 153.92 545.09 153.81 547.43 153.92 C549.77 154.02 549.59 154.62 550.68 154.55 C551.76 154.48 552.66 153.61 553.92 153.50 C555.18 153.40 555.26 153.85 558.24 153.92 C561.22 153.99 569.53 153.92 571.79 153.92" stroke="#f59a3a" stroke-width="0.75" fill="none" stroke-opacity="0.75"/>
<path d="M535.93 152.64 C536.05 152.64 534.70 152.64 536.62 152.64 C538.54 152.64 545.09 152.53 547.43 152.64 C549.77 152.74 549.59 153.32 550.68 153.25 C551.76 153.19 552.66 152.34 553.92 152.23 C555.18 152.13 555.26 152.57 558.24 152.64 C561.22 152.70 569.53 152.64 571.79 152.64" stroke="#f5e54a" stroke-width="0.75" fill="none" stroke-opacity="0.75"/>
<path d="M535.93 151.35 C536.05 151.35 534.70 151.35 536.62 151.35 C538.54 151.35 545.09 151.25 547.43 151.35 C549.77 151.45 549.59 152.02 550.68 151.95 C551.76 151.89 552.66 151.07 553.92 150.97 C555.18 150.86 555.26 151.29 558.24 151.35 C561.22 151.42 569.53 151.35 571.79 151.35" stroke="#96cc1a" stroke-width="0.75" fill="none" stroke-opacity="0.75"/>
<path d="M535.93 150.07 C536.05 150.07 534.70 150.07 536.62 150.07 C538.54 150.07 545.09 149.97 547.43 150.07 C549.77 150.17 549.59 150.72 550.68 150.65 C551.76 150.59 552.66 149.79 553.92 149.70 C555.18 149.60 555.26 150.01 558.24 150.07 C561.22 150.13 569.53 150.07 571.79 150.07" stroke="#8cd8e8" stroke-width="0.75" fill="none" stroke-opacity="0.75"/>
<path d="M535.93 148.78 C536.05 148.78 534.70 148.78 536.62 148.78 C538.54 148.78 545.09 148.69 547.43 148.78 C549.77 148.88 549.59 149.41 550.68 149.36 C551.76 149.30 552.66 148.52 553.92 148.43 C555.18 148.33 555.26 148.72 558.24 148.78 C561.22 148.84 569.53 148.78 571.79 148.78" stroke="#5fb0e0" stroke-width="0.75" fill="none" stroke-opacity="0.75"/>
<path d="M535.93 147.50 C536.05 147.50 534.70 147.50 536.62 147.50 C538.54 147.50 545.09 147.41 547.43 147.50 C549.77 147.59 549.59 148.11 550.68 148.06 C551.76 148.00 552.66 147.25 553.92 147.16 C555.18 147.07 555.26 147.44 558.24 147.50 C561.22 147.56 569.53 147.50 571.79 147.50" stroke="#3b6fc0" stroke-width="0.75" fill="none" stroke-opacity="0.75"/>
<path d="M535.93 146.22 C536.05 146.22 534.70 146.22 536.62 146.22 C538.54 146.22 545.09 146.13 547.43 146.22 C549.77 146.31 549.59 146.81 550.68 146.76 C551.76 146.70 552.66 145.98 553.92 145.89 C555.18 145.80 555.26 146.16 558.24 146.22 C561.22 146.27 569.53 146.22 571.79 146.22" stroke="#3a3a9a" stroke-width="0.75" fill="none" stroke-opacity="0.75"/>
<path d="M602.43 157.03 C602.57 157.03 601.04 157.03 603.24 157.03 C605.45 157.03 613.06 156.73 615.68 157.03 C618.29 157.33 617.93 159.12 618.92 158.82 C619.91 158.52 620.54 155.29 621.62 155.24 C622.70 155.18 624.23 158.29 625.41 158.48 C626.58 158.67 627.75 156.60 628.65 156.36 C629.55 156.12 629.20 156.92 630.81 157.03 C632.42 157.14 637.04 157.03 638.29 157.03" stroke="#e8a0d8" stroke-width="0.75" fill="none" stroke-opacity="0.75"/>
<path d="M602.43 155.68 C602.57 155.68 601.04 155.68 603.24 155.68 C605.45 155.68 613.06 155.39 615.68 155.68 C618.29 155.96 617.93 157.69 618.92 157.41 C619.91 157.12 620.54 154.00 621.62 153.95 C622.70 153.89 624.23 156.90 625.41 157.08 C626.58 157.26 627.75 155.26 628.65 155.03 C629.55 154.79 629.20 155.57 630.81 155.68 C632.42 155.78 637.04 155.68 638.29 155.68" stroke="#e8344a" stroke-width="0.75" fill="none" stroke-opacity="0.75"/>
<path d="M602.43 154.32 C602.57 154.32 601.04 154.32 603.24 154.32 C605.45 154.32 613.06 154.05 615.68 154.32 C618.29 154.60 617.93 156.27 618.92 155.99 C619.91 155.71 620.54 152.71 621.62 152.66 C622.70 152.60 624.23 155.51 625.41 155.68 C626.58 155.86 627.75 153.92 628.65 153.69 C629.55 153.46 629.20 154.22 630.81 154.32 C632.42 154.43 637.04 154.32 638.29 154.32" stroke="#f59a3a" stroke-width="0.75" fill="none" stroke-opacity="0.75"/>
<path d="M602.43 152.97 C602.57 152.97 601.04 152.97 603.24 152.97 C605.45 152.97 613.06 152.71 615.68 152.97 C618.29 153.24 617.93 154.85 618.92 154.58 C619.91 154.31 620.54 151.42 621.62 151.37 C622.70 151.32 624.23 154.12 625.41 154.29 C626.58 154.45 627.75 152.57 628.65 152.36 C629.55 152.14 629.20 152.87 630.81 152.97 C632.42 153.08 637.04 152.97 638.29 152.97" stroke="#f5e54a" stroke-width="0.75" fill="none" stroke-opacity="0.75"/>
<path d="M602.43 151.62 C602.57 151.62 601.04 151.62 603.24 151.62 C605.45 151.62 613.06 151.36 615.68 151.62 C618.29 151.88 617.93 153.42 618.92 153.17 C619.91 152.91 620.54 150.12 621.62 150.08 C622.70 150.03 624.23 152.73 625.41 152.89 C626.58 153.05 627.75 151.23 628.65 151.02 C629.55 150.81 629.20 151.52 630.81 151.62 C632.42 151.72 637.04 151.62 638.29 151.62" stroke="#96cc1a" stroke-width="0.75" fill="none" stroke-opacity="0.75"/>
<path d="M602.43 150.27 C602.57 150.27 601.04 150.27 603.24 150.27 C605.45 150.27 613.06 150.02 615.68 150.27 C618.29 150.52 617.93 152.00 618.92 151.75 C619.91 151.51 620.54 148.83 621.62 148.79 C622.70 148.74 624.23 151.34 625.41 151.49 C626.58 151.64 627.75 149.89 628.65 149.68 C629.55 149.48 629.20 150.17 630.81 150.27 C632.42 150.37 637.04 150.27 638.29 150.27" stroke="#8cd8e8" stroke-width="0.75" fill="none" stroke-opacity="0.75"/>
<path d="M602.43 148.92 C602.57 148.92 601.04 148.92 603.24 148.92 C605.45 148.92 613.06 148.68 615.68 148.92 C618.29 149.16 617.93 150.58 618.92 150.34 C619.91 150.10 620.54 147.54 621.62 147.50 C622.70 147.46 624.23 149.95 625.41 150.09 C626.58 150.23 627.75 148.54 628.65 148.35 C629.55 148.15 629.20 148.82 630.81 148.92 C632.42 149.01 637.04 148.92 638.29 148.92" stroke="#5fb0e0" stroke-width="0.75" fill="none" stroke-opacity="0.75"/>
<path d="M602.43 147.57 C602.57 147.57 601.04 147.57 603.24 147.57 C605.45 147.57 613.06 147.34 615.68 147.57 C618.29 147.79 617.93 149.15 618.92 148.93 C619.91 148.70 620.54 146.25 621.62 146.21 C622.70 146.17 624.23 148.56 625.41 148.69 C626.58 148.83 627.75 147.20 628.65 147.01 C629.55 146.82 629.20 147.47 630.81 147.57 C632.42 147.66 637.04 147.57 638.29 147.57" stroke="#3b6fc0" stroke-width="0.75" fill="none" stroke-opacity="0.75"/>
<path d="M602.43 146.22 C602.57 146.22 601.04 146.22 603.24 146.22 C605.45 146.22 613.06 146.00 615.68 146.22 C618.29 146.43 617.93 147.73 618.92 147.51 C619.91 147.30 620.54 144.95 621.62 144.92 C622.70 144.88 624.23 147.17 625.41 147.30 C626.58 147.42 627.75 145.86 628.65 145.68 C629.55 145.50 629.20 146.13 630.81 146.22 C632.42 146.31 637.04 146.22 638.29 146.22" stroke="#3a3a9a" stroke-width="0.75" fill="none" stroke-opacity="0.75"/>
<path d="M469.13 195.85 C469.21 195.85 468.91 196.45 469.62 195.85 C470.33 195.26 472.23 192.16 473.41 192.30 C474.58 192.44 475.57 196.62 476.65 196.70 C477.73 196.79 478.90 193.27 479.89 192.80 C480.88 192.32 481.78 193.64 482.59 193.85 C483.41 194.05 481.02 193.97 484.76 194.00 C488.49 194.03 501.62 194.00 504.99 194.00" stroke="#e8a0d8" stroke-width="0.75" fill="none" stroke-opacity="0.75"/>
<path d="M469.13 194.65 C469.21 194.65 468.91 195.19 469.62 194.65 C470.33 194.11 472.23 191.23 473.41 191.41 C474.58 191.59 475.57 195.64 476.65 195.73 C477.73 195.82 478.90 192.40 479.89 191.95 C480.88 191.50 481.78 192.85 482.59 193.03 C483.41 193.21 481.02 193.03 484.76 193.03 C488.49 193.03 501.62 193.03 504.99 193.03" stroke="#e8344a" stroke-width="0.75" fill="none" stroke-opacity="0.75"/>
<path d="M469.13 193.44 C469.21 193.44 468.91 193.93 469.62 193.44 C470.33 192.95 472.23 190.29 473.41 190.51 C474.58 190.73 475.57 194.66 476.65 194.76 C477.73 194.85 478.90 191.52 479.89 191.10 C480.88 190.67 481.78 192.05 482.59 192.21 C483.41 192.37 481.02 192.08 484.76 192.05 C488.49 192.03 501.62 192.05 504.99 192.05" stroke="#f59a3a" stroke-width="0.75" fill="none" stroke-opacity="0.75"/>
<path d="M469.13 192.24 C469.21 192.24 468.91 192.68 469.62 192.24 C470.33 191.80 472.23 189.36 473.41 189.61 C474.58 189.87 475.57 193.68 476.65 193.78 C477.73 193.89 478.90 190.65 479.89 190.25 C480.88 189.85 481.78 191.25 482.59 191.39 C483.41 191.53 481.02 191.13 484.76 191.08 C488.49 191.03 501.62 191.08 504.99 191.08" stroke="#f5e54a" stroke-width="0.75" fill="none" stroke-opacity="0.75"/>
<path d="M469.13 191.03 C469.21 191.03 468.91 191.42 469.62 191.03 C470.33 190.65 472.23 188.42 473.41 188.72 C474.58 189.01 475.57 192.70 476.65 192.81 C477.73 192.92 478.90 189.77 479.89 189.40 C480.88 189.02 481.78 190.45 482.59 190.57 C483.41 190.69 481.02 190.19 484.76 190.11 C488.49 190.03 501.62 190.11 504.99 190.11" stroke="#96cc1a" stroke-width="0.75" fill="none" stroke-opacity="0.75"/>
<path d="M469.13 189.83 C469.21 189.83 468.91 190.16 469.62 189.83 C470.33 189.50 472.23 187.49 473.41 187.82 C474.58 188.16 475.57 191.72 476.65 191.84 C477.73 191.96 478.90 188.90 479.89 188.55 C480.88 188.20 481.78 189.66 482.59 189.75 C483.41 189.85 481.02 189.24 484.76 189.14 C488.49 189.03 501.62 189.14 504.99 189.14" stroke="#8cd8e8" stroke-width="0.75" fill="none" stroke-opacity="0.75"/>
<path d="M469.13 188.63 C469.21 188.63 468.91 188.91 469.62 188.63 C470.33 188.34 472.23 186.55 473.41 186.93 C474.58 187.30 475.57 190.74 476.65 190.86 C477.73 190.99 478.90 188.02 479.89 187.70 C480.88 187.38 481.78 188.86 482.59 188.93 C483.41 189.01 481.02 188.29 484.76 188.16 C488.49 188.03 501.62 188.16 504.99 188.16" stroke="#5fb0e0" stroke-width="0.75" fill="none" stroke-opacity="0.75"/>
<path d="M469.13 187.42 C469.21 187.42 468.91 187.65 469.62 187.42 C470.33 187.19 472.23 185.62 473.41 186.03 C474.58 186.44 475.57 189.76 476.65 189.89 C477.73 190.03 478.90 187.15 479.89 186.85 C480.88 186.55 481.78 188.06 482.59 188.12 C483.41 188.17 481.02 187.34 484.76 187.19 C488.49 187.03 501.62 187.19 504.99 187.19" stroke="#3b6fc0" stroke-width="0.75" fill="none" stroke-opacity="0.75"/>
<path d="M469.13 186.22 C469.21 186.22 468.91 186.40 469.62 186.22 C470.33 186.04 472.23 184.68 473.41 185.14 C474.58 185.59 475.57 188.77 476.65 188.92 C477.73 189.06 478.90 186.27 479.89 186.00 C480.88 185.73 481.78 187.26 482.59 187.30 C483.41 187.33 481.02 186.40 484.76 186.22 C488.49 186.04 501.62 186.22 504.99 186.22" stroke="#3a3a9a" stroke-width="0.75" fill="none" stroke-opacity="0.75"/>
<path d="M535.93 194.32 C536.05 194.32 535.79 194.61 536.62 194.32 C537.46 194.04 539.59 192.15 540.95 192.59 C542.30 193.04 543.65 196.60 544.73 196.98 C545.81 197.36 546.62 195.31 547.43 194.86 C548.24 194.42 545.53 194.41 549.59 194.32 C553.65 194.23 568.09 194.32 571.79 194.32" stroke="#e8a0d8" stroke-width="0.75" fill="none" stroke-opacity="0.75"/>
<path d="M535.93 193.31 C536.05 193.31 535.79 193.58 536.62 193.31 C537.46 193.04 539.59 191.24 540.95 191.69 C542.30 192.14 543.65 195.65 544.73 196.01 C545.81 196.37 546.62 194.30 547.43 193.85 C548.24 193.40 545.53 193.40 549.59 193.31 C553.65 193.22 568.09 193.31 571.79 193.31" stroke="#e8344a" stroke-width="0.75" fill="none" stroke-opacity="0.75"/>
<path d="M535.93 192.30 C536.05 192.30 535.79 192.55 536.62 192.30 C537.46 192.05 539.59 190.33 540.95 190.78 C542.30 191.24 543.65 194.70 544.73 195.05 C545.81 195.39 546.62 193.30 547.43 192.84 C548.24 192.38 545.53 192.39 549.59 192.30 C553.65 192.21 568.09 192.30 571.79 192.30" stroke="#f59a3a" stroke-width="0.75" fill="none" stroke-opacity="0.75"/>
<path d="M535.93 191.28 C536.05 191.28 535.79 191.52 536.62 191.28 C537.46 191.05 539.59 189.41 540.95 189.88 C542.30 190.34 543.65 193.75 544.73 194.08 C545.81 194.40 546.62 192.29 547.43 191.82 C548.24 191.36 545.53 191.37 549.59 191.28 C553.65 191.19 568.09 191.28 571.79 191.28" stroke="#f5e54a" stroke-width="0.75" fill="none" stroke-opacity="0.75"/>
<path d="M535.93 190.27 C536.05 190.27 535.79 190.49 536.62 190.27 C537.46 190.05 539.59 188.50 540.95 188.97 C542.30 189.45 543.65 192.81 544.73 193.11 C545.81 193.42 546.62 191.28 547.43 190.81 C548.24 190.34 545.53 190.36 549.59 190.27 C553.65 190.18 568.09 190.27 571.79 190.27" stroke="#96cc1a" stroke-width="0.75" fill="none" stroke-opacity="0.75"/>
<path d="M535.93 189.26 C536.05 189.26 535.79 189.45 536.62 189.26 C537.46 189.06 539.59 187.59 540.95 188.07 C542.30 188.55 543.65 191.86 544.73 192.14 C545.81 192.43 546.62 190.28 547.43 189.80 C548.24 189.32 545.53 189.35 549.59 189.26 C553.65 189.17 568.09 189.26 571.79 189.26" stroke="#8cd8e8" stroke-width="0.75" fill="none" stroke-opacity="0.75"/>
<path d="M535.93 188.24 C536.05 188.24 535.79 188.42 536.62 188.24 C537.46 188.06 539.59 186.67 540.95 187.16 C542.30 187.65 543.65 190.91 544.73 191.18 C545.81 191.45 546.62 189.27 547.43 188.78 C548.24 188.29 545.53 188.33 549.59 188.24 C553.65 188.15 568.09 188.24 571.79 188.24" stroke="#5fb0e0" stroke-width="0.75" fill="none" stroke-opacity="0.75"/>
<path d="M535.93 187.23 C536.05 187.23 535.79 187.39 536.62 187.23 C537.46 187.07 539.59 185.76 540.95 186.26 C542.30 186.75 543.65 189.96 544.73 190.21 C545.81 190.46 546.62 188.27 547.43 187.77 C548.24 187.27 545.53 187.32 549.59 187.23 C553.65 187.14 568.09 187.23 571.79 187.23" stroke="#3b6fc0" stroke-width="0.75" fill="none" stroke-opacity="0.75"/>
<path d="M535.93 186.22 C536.05 186.22 535.79 186.36 536.62 186.22 C537.46 186.07 539.59 184.85 540.95 185.35 C542.30 185.86 543.65 189.01 544.73 189.24 C545.81 189.48 546.62 187.26 547.43 186.76 C548.24 186.25 545.53 186.31 549.59 186.22 C553.65 186.13 568.09 186.22 571.79 186.22" stroke="#3a3a9a" stroke-width="0.75" fill="none" stroke-opacity="0.75"/>
<path d="M602.43 197.04 C603.29 195.99 606.08 190.45 607.57 190.71 C609.05 190.97 610.18 197.98 611.35 198.59 C612.52 199.19 613.69 195.01 614.59 194.36 C615.50 193.70 612.81 194.60 616.76 194.65 C620.71 194.70 634.70 194.65 638.29 194.65" stroke="#e8a0d8" stroke-width="0.75" fill="none" stroke-opacity="0.75"/>
<path d="M602.43 195.82 C603.29 194.83 606.08 189.61 607.57 189.88 C609.05 190.15 610.18 196.87 611.35 197.45 C612.52 198.02 613.69 193.97 614.59 193.34 C615.50 192.71 612.81 193.61 616.76 193.66 C620.71 193.72 634.70 193.66 638.29 193.66" stroke="#e8344a" stroke-width="0.75" fill="none" stroke-opacity="0.75"/>
<path d="M602.43 194.61 C603.29 193.68 606.08 188.76 607.57 189.05 C609.05 189.33 610.18 195.76 611.35 196.31 C612.52 196.85 613.69 192.93 614.59 192.32 C615.50 191.72 612.81 192.62 616.76 192.68 C620.71 192.73 634.70 192.68 638.29 192.68" stroke="#f59a3a" stroke-width="0.75" fill="none" stroke-opacity="0.75"/>
<path d="M602.43 193.39 C603.29 192.53 606.08 187.92 607.57 188.21 C609.05 188.51 610.18 194.65 611.35 195.16 C612.52 195.68 613.69 191.88 614.59 191.30 C615.50 190.72 612.81 191.62 616.76 191.69 C620.71 191.75 634.70 191.69 638.29 191.69" stroke="#f5e54a" stroke-width="0.75" fill="none" stroke-opacity="0.75"/>
<path d="M602.43 192.17 C603.29 191.37 606.08 187.07 607.57 187.38 C609.05 187.69 610.18 193.54 611.35 194.02 C612.52 194.51 613.69 190.84 614.59 190.29 C615.50 189.73 612.81 190.63 616.76 190.70 C620.71 190.77 634.70 190.70 638.29 190.70" stroke="#96cc1a" stroke-width="0.75" fill="none" stroke-opacity="0.75"/>
<path d="M602.43 190.95 C603.29 190.22 606.08 186.23 607.57 186.55 C609.05 186.87 610.18 192.43 611.35 192.88 C612.52 193.34 613.69 189.80 614.59 189.27 C615.50 188.74 612.81 189.64 616.76 189.72 C620.71 189.79 634.70 189.72 638.29 189.72" stroke="#8cd8e8" stroke-width="0.75" fill="none" stroke-opacity="0.75"/>
<path d="M602.43 189.73 C603.29 189.06 606.08 185.38 607.57 185.72 C609.05 186.05 610.18 191.32 611.35 191.74 C612.52 192.16 613.69 188.75 614.59 188.25 C615.50 187.75 612.81 188.65 616.76 188.73 C620.71 188.81 634.70 188.73 638.29 188.73" stroke="#5fb0e0" stroke-width="0.75" fill="none" stroke-opacity="0.75"/>
<path d="M602.43 188.52 C603.29 187.91 606.08 184.54 607.57 184.89 C609.05 185.23 610.18 190.21 611.35 190.60 C612.52 190.99 613.69 187.71 614.59 187.23 C615.50 186.76 612.81 187.66 616.76 187.74 C620.71 187.83 634.70 187.74 638.29 187.74" stroke="#3b6fc0" stroke-width="0.75" fill="none" stroke-opacity="0.75"/>
<path d="M602.43 187.30 C603.29 186.76 606.08 183.69 607.57 184.05 C609.05 184.41 610.18 189.10 611.35 189.46 C612.52 189.82 613.69 186.67 614.59 186.22 C615.50 185.77 612.81 186.67 616.76 186.76 C620.71 186.85 634.70 186.76 638.29 186.76" stroke="#3a3a9a" stroke-width="0.75" fill="none" stroke-opacity="0.75"/>
<path d="M469.13 236.57 C469.21 236.57 468.01 236.76 469.62 236.57 C471.24 236.37 476.38 234.70 478.81 235.41 C481.24 236.12 482.68 240.92 484.22 240.81 C485.75 240.71 486.83 235.33 488.00 234.79 C489.17 234.25 490.34 237.28 491.24 237.57 C492.14 237.87 491.11 236.73 493.41 236.57 C495.70 236.40 503.06 236.57 504.99 236.57" stroke="#e8a0d8" stroke-width="0.75" fill="none" stroke-opacity="0.75"/>
<path d="M469.13 235.22 C469.21 235.22 468.01 235.40 469.62 235.22 C471.24 235.04 476.38 233.41 478.81 234.14 C481.24 234.86 482.68 239.63 484.22 239.54 C485.75 239.45 486.83 234.14 488.00 233.59 C489.17 233.05 490.34 236.03 491.24 236.30 C492.14 236.57 491.11 235.40 493.41 235.22 C495.70 235.04 503.06 235.22 504.99 235.22" stroke="#e8344a" stroke-width="0.75" fill="none" stroke-opacity="0.75"/>
<path d="M469.13 233.86 C469.21 233.86 468.01 234.03 469.62 233.86 C471.24 233.70 476.38 232.13 478.81 232.86 C481.24 233.59 482.68 238.34 484.22 238.27 C485.75 238.19 486.83 232.94 488.00 232.40 C489.17 231.86 490.34 234.78 491.24 235.02 C492.14 235.27 491.11 234.06 493.41 233.86 C495.70 233.67 503.06 233.86 504.99 233.86" stroke="#f59a3a" stroke-width="0.75" fill="none" stroke-opacity="0.75"/>
<path d="M469.13 232.51 C469.21 232.51 468.01 232.67 469.62 232.51 C471.24 232.36 476.38 230.84 478.81 231.59 C481.24 232.33 482.68 237.06 484.22 236.99 C485.75 236.93 486.83 231.74 488.00 231.20 C489.17 230.66 490.34 233.53 491.24 233.75 C492.14 233.97 491.11 232.72 493.41 232.51 C495.70 232.31 503.06 232.51 504.99 232.51" stroke="#f5e54a" stroke-width="0.75" fill="none" stroke-opacity="0.75"/>
<path d="M469.13 231.16 C469.21 231.16 468.01 231.30 469.62 231.16 C471.24 231.02 476.38 229.55 478.81 230.31 C481.24 231.07 482.68 235.77 484.22 235.72 C485.75 235.67 486.83 230.54 488.00 230.00 C489.17 229.46 490.34 232.28 491.24 232.47 C492.14 232.67 491.11 231.38 493.41 231.16 C495.70 230.94 503.06 231.16 504.99 231.16" stroke="#96cc1a" stroke-width="0.75" fill="none" stroke-opacity="0.75"/>
<path d="M469.13 229.81 C469.21 229.81 468.01 229.94 469.62 229.81 C471.24 229.68 476.38 228.27 478.81 229.04 C481.24 229.81 482.68 234.48 484.22 234.44 C485.75 234.41 486.83 229.35 488.00 228.81 C489.17 228.27 490.34 231.03 491.24 231.20 C492.14 231.37 491.11 230.04 493.41 229.81 C495.70 229.58 503.06 229.81 504.99 229.81" stroke="#8cd8e8" stroke-width="0.75" fill="none" stroke-opacity="0.75"/>
<path d="M469.13 228.46 C469.21 228.46 468.01 228.58 469.62 228.46 C471.24 228.34 476.38 226.98 478.81 227.76 C481.24 228.55 482.68 233.20 484.22 233.17 C485.75 233.14 486.83 228.15 488.00 227.61 C489.17 227.07 490.34 229.79 491.24 229.93 C492.14 230.07 491.11 228.70 493.41 228.46 C495.70 228.21 503.06 228.46 504.99 228.46" stroke="#5fb0e0" stroke-width="0.75" fill="none" stroke-opacity="0.75"/>
<path d="M469.13 227.11 C469.21 227.11 468.01 227.21 469.62 227.11 C471.24 227.01 476.38 225.69 478.81 226.49 C481.24 227.29 482.68 231.91 484.22 231.90 C485.75 231.88 486.83 226.95 488.00 226.41 C489.17 225.87 490.34 228.54 491.24 228.65 C492.14 228.77 491.11 227.37 493.41 227.11 C495.70 226.85 503.06 227.11 504.99 227.11" stroke="#3b6fc0" stroke-width="0.75" fill="none" stroke-opacity="0.75"/>
<path d="M469.13 225.76 C469.21 225.76 468.01 225.85 469.62 225.76 C471.24 225.67 476.38 224.41 478.81 225.22 C481.24 226.03 482.68 230.62 484.22 230.62 C485.75 230.62 486.83 225.76 488.00 225.22 C489.17 224.68 490.34 227.29 491.24 227.38 C492.14 227.47 491.11 226.03 493.41 225.76 C495.70 225.49 503.06 225.76 504.99 225.76" stroke="#3a3a9a" stroke-width="0.75" fill="none" stroke-opacity="0.75"/>
<path d="M535.93 237.65 C536.05 237.65 535.06 237.48 536.62 237.65 C538.18 237.82 543.14 239.51 545.27 238.65 C547.40 237.79 548.12 232.27 549.38 232.47 C550.64 232.68 551.72 239.03 552.84 239.89 C553.95 240.75 552.92 238.02 556.08 237.65 C559.24 237.28 569.17 237.65 571.79 237.65" stroke="#e8a0d8" stroke-width="0.75" fill="none" stroke-opacity="0.75"/>
<path d="M535.93 236.23 C536.05 236.23 535.06 236.05 536.62 236.23 C538.18 236.41 543.14 238.12 545.27 237.31 C547.40 236.50 548.12 231.18 549.38 231.36 C550.64 231.55 551.72 237.58 552.84 238.39 C553.95 239.20 552.92 236.59 556.08 236.23 C559.24 235.87 569.17 236.23 571.79 236.23" stroke="#e8344a" stroke-width="0.75" fill="none" stroke-opacity="0.75"/>
<path d="M535.93 234.81 C536.05 234.81 535.06 234.62 536.62 234.81 C538.18 235.00 543.14 236.73 545.27 235.97 C547.40 235.21 548.12 230.10 549.38 230.25 C550.64 230.41 551.72 236.14 552.84 236.90 C553.95 237.66 552.92 235.16 556.08 234.81 C559.24 234.46 569.17 234.81 571.79 234.81" stroke="#f59a3a" stroke-width="0.75" fill="none" stroke-opacity="0.75"/>
<path d="M535.93 233.39 C536.05 233.39 535.06 233.19 536.62 233.39 C538.18 233.60 543.14 235.34 545.27 234.63 C547.40 233.92 548.12 229.02 549.38 229.14 C550.64 229.27 551.72 234.69 552.84 235.40 C553.95 236.11 552.92 233.73 556.08 233.39 C559.24 233.06 569.17 233.39 571.79 233.39" stroke="#f5e54a" stroke-width="0.75" fill="none" stroke-opacity="0.75"/>
<path d="M535.93 231.97 C536.05 231.97 535.06 231.75 536.62 231.97 C538.18 232.19 543.14 233.94 545.27 233.29 C547.40 232.63 548.12 227.93 549.38 228.03 C550.64 228.14 551.72 233.25 552.84 233.90 C553.95 234.56 552.92 232.29 556.08 231.97 C559.24 231.65 569.17 231.97 571.79 231.97" stroke="#96cc1a" stroke-width="0.75" fill="none" stroke-opacity="0.75"/>
<path d="M535.93 230.55 C536.05 230.55 535.06 230.32 536.62 230.55 C538.18 230.79 543.14 232.55 545.27 231.94 C547.40 231.34 548.12 226.85 549.38 226.92 C550.64 227.00 551.72 231.80 552.84 232.41 C553.95 233.01 552.92 230.86 556.08 230.55 C559.24 230.25 569.17 230.55 571.79 230.55" stroke="#8cd8e8" stroke-width="0.75" fill="none" stroke-opacity="0.75"/>
<path d="M535.93 229.14 C536.05 229.14 535.06 228.89 536.62 229.14 C538.18 229.38 543.14 231.16 545.27 230.60 C547.40 230.05 548.12 225.76 549.38 225.81 C550.64 225.87 551.72 230.36 552.84 230.91 C553.95 231.46 552.92 229.43 556.08 229.14 C559.24 228.84 569.17 229.14 571.79 229.14" stroke="#5fb0e0" stroke-width="0.75" fill="none" stroke-opacity="0.75"/>
<path d="M535.93 227.72 C536.05 227.72 535.06 227.46 536.62 227.72 C538.18 227.97 543.14 229.76 545.27 229.26 C547.40 228.76 548.12 224.68 549.38 224.70 C550.64 224.73 551.72 228.91 552.84 229.42 C553.95 229.92 552.92 228.00 556.08 227.72 C559.24 227.43 569.17 227.72 571.79 227.72" stroke="#3b6fc0" stroke-width="0.75" fill="none" stroke-opacity="0.75"/>
<path d="M535.93 226.30 C536.05 226.30 535.06 226.03 536.62 226.30 C538.18 226.57 543.14 228.37 545.27 227.92 C547.40 227.47 548.12 223.59 549.38 223.59 C550.64 223.59 551.72 227.47 552.84 227.92 C553.95 228.37 552.92 226.57 556.08 226.30 C559.24 226.03 569.17 226.30 571.79 226.30" stroke="#3a3a9a" stroke-width="0.75" fill="none" stroke-opacity="0.75"/>
<path d="M602.43 237.32 C602.57 237.32 601.58 237.14 603.24 237.32 C604.91 237.50 610.09 239.19 612.43 238.41 C614.77 237.62 615.86 232.52 617.30 232.61 C618.74 232.70 620.09 238.16 621.08 238.95 C622.07 239.73 620.38 237.59 623.24 237.32 C626.11 237.05 635.78 237.32 638.29 237.32" stroke="#e8a0d8" stroke-width="0.75" fill="none" stroke-opacity="0.75"/>
<path d="M602.43 235.95 C602.57 235.95 601.58 235.77 603.24 235.95 C604.91 236.13 610.09 237.75 612.43 237.03 C614.77 236.31 615.86 231.53 617.30 231.62 C618.74 231.71 620.09 236.85 621.08 237.57 C622.07 238.29 620.38 236.22 623.24 235.95 C626.11 235.68 635.78 235.95 638.29 235.95" stroke="#e8344a" stroke-width="0.75" fill="none" stroke-opacity="0.75"/>
<path d="M602.43 234.57 C602.57 234.57 601.58 234.39 603.24 234.57 C604.91 234.75 610.09 236.31 612.43 235.65 C614.77 234.99 615.86 230.54 617.30 230.63 C618.74 230.72 620.09 235.53 621.08 236.19 C622.07 236.85 620.38 234.84 623.24 234.57 C626.11 234.30 635.78 234.57 638.29 234.57" stroke="#f59a3a" stroke-width="0.75" fill="none" stroke-opacity="0.75"/>
<path d="M602.43 233.19 C602.57 233.19 601.58 233.01 603.24 233.19 C604.91 233.37 610.09 234.86 612.43 234.27 C614.77 233.68 615.86 229.55 617.30 229.64 C618.74 229.73 620.09 234.22 621.08 234.81 C622.07 235.40 620.38 233.46 623.24 233.19 C626.11 232.92 635.78 233.19 638.29 233.19" stroke="#f5e54a" stroke-width="0.75" fill="none" stroke-opacity="0.75"/>
<path d="M602.43 231.81 C602.57 231.81 601.58 231.63 603.24 231.81 C604.91 231.99 610.09 233.42 612.43 232.89 C614.77 232.36 615.86 228.55 617.30 228.64 C618.74 228.73 620.09 232.90 621.08 233.43 C622.07 233.96 620.38 232.08 623.24 231.81 C626.11 231.54 635.78 231.81 638.29 231.81" stroke="#96cc1a" stroke-width="0.75" fill="none" stroke-opacity="0.75"/>
<path d="M602.43 230.43 C602.57 230.43 601.58 230.25 603.24 230.43 C604.91 230.61 610.09 231.98 612.43 231.51 C614.77 231.05 615.86 227.56 617.30 227.65 C618.74 227.74 620.09 231.59 621.08 232.05 C622.07 232.52 620.38 230.70 623.24 230.43 C626.11 230.16 635.78 230.43 638.29 230.43" stroke="#8cd8e8" stroke-width="0.75" fill="none" stroke-opacity="0.75"/>
<path d="M602.43 229.05 C602.57 229.05 601.58 228.87 603.24 229.05 C604.91 229.23 610.09 230.53 612.43 230.14 C614.77 229.74 615.86 226.57 617.30 226.66 C618.74 226.75 620.09 230.28 621.08 230.68 C622.07 231.07 620.38 229.32 623.24 229.05 C626.11 228.78 635.78 229.05 638.29 229.05" stroke="#5fb0e0" stroke-width="0.75" fill="none" stroke-opacity="0.75"/>
<path d="M602.43 227.68 C602.57 227.68 601.58 227.50 603.24 227.68 C604.91 227.86 610.09 229.09 612.43 228.76 C614.77 228.42 615.86 225.58 617.30 225.67 C618.74 225.76 620.09 228.96 621.08 229.30 C622.07 229.63 620.38 227.95 623.24 227.68 C626.11 227.41 635.78 227.68 638.29 227.68" stroke="#3b6fc0" stroke-width="0.75" fill="none" stroke-opacity="0.75"/>
<path d="M602.43 226.30 C602.57 226.30 601.58 226.12 603.24 226.30 C604.91 226.48 610.09 227.65 612.43 227.38 C614.77 227.11 615.86 224.59 617.30 224.68 C618.74 224.77 620.09 227.65 621.08 227.92 C622.07 228.19 620.38 226.57 623.24 226.30 C626.11 226.03 635.78 226.30 638.29 226.30" stroke="#3a3a9a" stroke-width="0.75" fill="none" stroke-opacity="0.75"/>
<path d="M469.13 277.32 C469.21 277.32 468.82 277.23 469.62 277.32 C470.42 277.41 472.59 278.23 473.95 277.86 C475.30 277.50 476.43 274.74 477.73 275.16 C479.03 275.59 480.47 280.63 481.73 280.41 C482.99 280.19 484.07 274.20 485.30 273.85 C486.52 273.50 488.09 277.75 489.08 278.33 C490.07 278.91 488.59 277.49 491.24 277.32 C493.89 277.16 502.70 277.32 504.99 277.32" stroke="#e8a0d8" stroke-width="0.75" fill="none" stroke-opacity="0.75"/>
<path d="M469.13 275.95 C469.21 275.95 468.82 275.86 469.62 275.95 C470.42 276.04 472.59 276.85 473.95 276.49 C475.30 276.13 476.43 273.33 477.73 273.78 C479.03 274.23 480.47 279.37 481.73 279.19 C482.99 279.01 484.07 273.06 485.30 272.70 C486.52 272.34 488.09 276.49 489.08 277.03 C490.07 277.57 488.59 276.13 491.24 275.95 C493.89 275.77 502.70 275.95 504.99 275.95" stroke="#e8344a" stroke-width="0.75" fill="none" stroke-opacity="0.75"/>
<path d="M469.13 274.57 C469.21 274.57 468.82 274.48 469.62 274.57 C470.42 274.66 472.59 275.47 473.95 275.11 C475.30 274.75 476.43 271.93 477.73 272.41 C479.03 272.88 480.47 278.11 481.73 277.97 C482.99 277.82 484.07 271.93 485.30 271.56 C486.52 271.18 488.09 275.22 489.08 275.73 C490.07 276.23 488.59 274.76 491.24 274.57 C493.89 274.37 502.70 274.57 504.99 274.57" stroke="#f59a3a" stroke-width="0.75" fill="none" stroke-opacity="0.75"/>
<path d="M469.13 273.19 C469.21 273.19 468.82 273.10 469.62 273.19 C470.42 273.28 472.59 274.09 473.95 273.73 C475.30 273.37 476.43 270.53 477.73 271.03 C479.03 271.53 480.47 276.84 481.73 276.74 C482.99 276.64 484.07 270.80 485.30 270.41 C486.52 270.02 488.09 273.96 489.08 274.42 C490.07 274.89 488.59 273.40 491.24 273.19 C493.89 272.98 502.70 273.19 504.99 273.19" stroke="#f5e54a" stroke-width="0.75" fill="none" stroke-opacity="0.75"/>
<path d="M469.13 271.81 C469.21 271.81 468.82 271.72 469.62 271.81 C470.42 271.90 472.59 272.71 473.95 272.35 C475.30 271.99 476.43 269.12 477.73 269.65 C479.03 270.18 480.47 275.58 481.73 275.52 C482.99 275.45 484.07 269.66 485.30 269.26 C486.52 268.86 488.09 272.70 489.08 273.12 C490.07 273.55 488.59 272.03 491.24 271.81 C493.89 271.59 502.70 271.81 504.99 271.81" stroke="#96cc1a" stroke-width="0.75" fill="none" stroke-opacity="0.75"/>
<path d="M469.13 270.43 C469.21 270.43 468.82 270.34 469.62 270.43 C470.42 270.52 472.59 271.33 473.95 270.97 C475.30 270.61 476.43 267.72 477.73 268.27 C479.03 268.82 480.47 274.32 481.73 274.29 C482.99 274.27 484.07 268.53 485.30 268.12 C486.52 267.70 488.09 271.44 489.08 271.82 C490.07 272.21 488.59 270.66 491.24 270.43 C493.89 270.20 502.70 270.43 504.99 270.43" stroke="#8cd8e8" stroke-width="0.75" fill="none" stroke-opacity="0.75"/>
<path d="M469.13 269.05 C469.21 269.05 468.82 268.96 469.62 269.05 C470.42 269.14 472.59 269.95 473.95 269.59 C475.30 269.23 476.43 266.31 477.73 266.89 C479.03 267.47 480.47 273.06 481.73 273.07 C482.99 273.08 484.07 267.39 485.30 266.97 C486.52 266.54 488.09 270.17 489.08 270.52 C490.07 270.87 488.59 269.30 491.24 269.05 C493.89 268.81 502.70 269.05 504.99 269.05" stroke="#5fb0e0" stroke-width="0.75" fill="none" stroke-opacity="0.75"/>
<path d="M469.13 267.68 C469.21 267.68 468.82 267.59 469.62 267.68 C470.42 267.77 472.59 268.58 473.95 268.22 C475.30 267.86 476.43 264.91 477.73 265.51 C479.03 266.12 480.47 271.79 481.73 271.85 C482.99 271.90 484.07 266.26 485.30 265.82 C486.52 265.38 488.09 268.91 489.08 269.22 C490.07 269.53 488.59 267.93 491.24 267.68 C493.89 267.42 502.70 267.68 504.99 267.68" stroke="#3b6fc0" stroke-width="0.75" fill="none" stroke-opacity="0.75"/>
<path d="M469.13 266.30 C469.21 266.30 468.82 266.21 469.62 266.30 C470.42 266.39 472.59 267.20 473.95 266.84 C475.30 266.48 476.43 263.50 477.73 264.14 C479.03 264.77 480.47 270.53 481.73 270.62 C482.99 270.71 484.07 265.13 485.30 264.68 C486.52 264.23 488.09 267.65 489.08 267.92 C490.07 268.19 488.59 266.57 491.24 266.30 C493.89 266.03 502.70 266.30 504.99 266.30" stroke="#3a3a9a" stroke-width="0.75" fill="none" stroke-opacity="0.75"/>
<path d="M535.93 277.65 C536.05 277.65 535.79 277.64 536.62 277.65 C537.46 277.66 539.54 278.29 540.95 277.73 C542.35 277.16 543.65 273.68 545.05 274.25 C546.46 274.82 548.08 281.02 549.38 281.12 C550.68 281.23 551.63 275.27 552.84 274.87 C554.05 274.47 555.72 278.27 556.62 278.73 C557.52 279.19 555.72 277.83 558.24 277.65 C560.77 277.47 569.53 277.65 571.79 277.65" stroke="#e8a0d8" stroke-width="0.75" fill="none" stroke-opacity="0.75"/>
<path d="M535.93 276.23 C536.05 276.23 535.79 276.23 536.62 276.23 C537.46 276.23 539.54 276.77 540.95 276.23 C542.35 275.69 543.65 272.36 545.05 272.99 C546.46 273.62 548.08 279.92 549.38 280.01 C550.68 280.10 551.63 273.98 552.84 273.53 C554.05 273.08 555.72 276.86 556.62 277.31 C557.52 277.76 555.72 276.41 558.24 276.23 C560.77 276.05 569.53 276.23 571.79 276.23" stroke="#e8344a" stroke-width="0.75" fill="none" stroke-opacity="0.75"/>
<path d="M535.93 274.81 C536.05 274.81 535.79 274.82 536.62 274.81 C537.46 274.80 539.54 275.25 540.95 274.73 C542.35 274.22 543.65 271.03 545.05 271.72 C546.46 272.42 548.08 278.83 549.38 278.90 C550.68 278.98 551.63 272.69 552.84 272.19 C554.05 271.68 555.72 275.45 556.62 275.89 C557.52 276.33 555.72 274.99 558.24 274.81 C560.77 274.63 569.53 274.81 571.79 274.81" stroke="#f59a3a" stroke-width="0.75" fill="none" stroke-opacity="0.75"/>
<path d="M535.93 273.39 C536.05 273.39 535.79 273.42 536.62 273.39 C537.46 273.37 539.54 273.73 540.95 273.24 C542.35 272.75 543.65 269.70 545.05 270.46 C546.46 271.22 548.08 277.73 549.38 277.79 C550.68 277.86 551.63 271.40 552.84 270.84 C554.05 270.29 555.72 274.05 556.62 274.47 C557.52 274.90 555.72 273.57 558.24 273.39 C560.77 273.21 569.53 273.39 571.79 273.39" stroke="#f5e54a" stroke-width="0.75" fill="none" stroke-opacity="0.75"/>
<path d="M535.93 271.97 C536.05 271.97 535.79 272.01 536.62 271.97 C537.46 271.93 539.54 272.20 540.95 271.74 C542.35 271.28 543.65 268.37 545.05 269.19 C546.46 270.02 548.08 276.63 549.38 276.68 C550.68 276.73 551.63 270.11 552.84 269.50 C554.05 268.90 555.72 272.64 556.62 273.05 C557.52 273.47 555.72 272.15 558.24 271.97 C560.77 271.79 569.53 271.97 571.79 271.97" stroke="#96cc1a" stroke-width="0.75" fill="none" stroke-opacity="0.75"/>
<path d="M535.93 270.55 C536.05 270.55 535.79 270.61 536.62 270.55 C537.46 270.50 539.54 270.68 540.95 270.25 C542.35 269.81 543.65 267.04 545.05 267.93 C546.46 268.82 548.08 275.53 549.38 275.57 C550.68 275.61 551.63 268.82 552.84 268.16 C554.05 267.50 555.72 271.24 556.62 271.64 C557.52 272.03 555.72 270.73 558.24 270.55 C560.77 270.37 569.53 270.55 571.79 270.55" stroke="#8cd8e8" stroke-width="0.75" fill="none" stroke-opacity="0.75"/>
<path d="M535.93 269.14 C536.05 269.14 535.79 269.20 536.62 269.14 C537.46 269.07 539.54 269.16 540.95 268.75 C542.35 268.34 543.65 265.71 545.05 266.66 C546.46 267.62 548.08 274.44 549.38 274.46 C550.68 274.49 551.63 267.53 552.84 266.82 C554.05 266.11 555.72 269.83 556.62 270.22 C557.52 270.60 555.72 269.32 558.24 269.14 C560.77 268.95 569.53 269.14 571.79 269.14" stroke="#5fb0e0" stroke-width="0.75" fill="none" stroke-opacity="0.75"/>
<path d="M535.93 267.72 C536.05 267.72 535.79 267.79 536.62 267.72 C537.46 267.64 539.54 267.64 540.95 267.25 C542.35 266.87 543.65 264.38 545.05 265.40 C546.46 266.42 548.08 273.34 549.38 273.35 C550.68 273.37 551.63 266.24 552.84 265.48 C554.05 264.72 555.72 268.42 556.62 268.80 C557.52 269.17 555.72 267.90 558.24 267.72 C560.77 267.54 569.53 267.72 571.79 267.72" stroke="#3b6fc0" stroke-width="0.75" fill="none" stroke-opacity="0.75"/>
<path d="M535.93 266.30 C536.05 266.30 535.79 266.39 536.62 266.30 C537.46 266.21 539.54 266.12 540.95 265.76 C542.35 265.40 543.65 263.05 545.05 264.14 C546.46 265.22 548.08 272.24 549.38 272.24 C550.68 272.24 551.63 264.95 552.84 264.14 C554.05 263.32 555.72 267.02 556.62 267.38 C557.52 267.74 555.72 266.48 558.24 266.30 C560.77 266.12 569.53 266.30 571.79 266.30" stroke="#3a3a9a" stroke-width="0.75" fill="none" stroke-opacity="0.75"/>
<path d="M602.43 277.32 C602.57 277.32 602.03 276.77 603.24 277.32 C604.46 277.88 607.87 281.70 609.73 280.64 C611.59 279.59 612.85 271.19 614.38 270.99 C615.91 270.80 617.71 278.44 618.92 279.49 C620.13 280.53 620.90 277.61 621.62 277.25 C622.34 276.89 620.47 277.31 623.24 277.32 C626.02 277.34 635.78 277.32 638.29 277.32" stroke="#e8a0d8" stroke-width="0.75" fill="none" stroke-opacity="0.75"/>
<path d="M602.43 275.95 C602.57 275.95 602.03 275.41 603.24 275.95 C604.46 276.49 607.87 280.18 609.73 279.19 C611.59 278.20 612.85 270.18 614.38 270.00 C615.91 269.82 617.71 277.12 618.92 278.11 C620.13 279.10 620.90 276.31 621.62 275.95 C622.34 275.59 620.47 275.95 623.24 275.95 C626.02 275.95 635.78 275.95 638.29 275.95" stroke="#e8344a" stroke-width="0.75" fill="none" stroke-opacity="0.75"/>
<path d="M602.43 274.57 C602.57 274.57 602.03 274.04 603.24 274.57 C604.46 275.10 607.87 278.66 609.73 277.73 C611.59 276.81 612.85 269.18 614.38 269.01 C615.91 268.84 617.71 275.79 618.92 276.73 C620.13 277.67 620.90 275.01 621.62 274.64 C622.34 274.28 620.47 274.58 623.24 274.57 C626.02 274.55 635.78 274.57 638.29 274.57" stroke="#f59a3a" stroke-width="0.75" fill="none" stroke-opacity="0.75"/>
<path d="M602.43 273.19 C602.57 273.19 602.03 272.67 603.24 273.19 C604.46 273.70 607.87 277.14 609.73 276.28 C611.59 275.42 612.85 268.17 614.38 268.02 C615.91 267.86 617.71 274.46 618.92 275.35 C620.13 276.24 620.90 273.70 621.62 273.34 C622.34 272.98 620.47 273.21 623.24 273.19 C626.02 273.16 635.78 273.19 638.29 273.19" stroke="#f5e54a" stroke-width="0.75" fill="none" stroke-opacity="0.75"/>
<path d="M602.43 271.81 C602.57 271.81 602.03 271.31 603.24 271.81 C604.46 272.31 607.87 275.62 609.73 274.82 C611.59 274.02 612.85 267.16 614.38 267.02 C615.91 266.88 617.71 273.14 618.92 273.97 C620.13 274.81 620.90 272.40 621.62 272.04 C622.34 271.68 620.47 271.85 623.24 271.81 C626.02 271.77 635.78 271.81 638.29 271.81" stroke="#96cc1a" stroke-width="0.75" fill="none" stroke-opacity="0.75"/>
<path d="M602.43 270.43 C602.57 270.43 602.03 269.94 603.24 270.43 C604.46 270.92 607.87 274.10 609.73 273.37 C611.59 272.63 612.85 266.16 614.38 266.03 C615.91 265.90 617.71 271.81 618.92 272.59 C620.13 273.38 620.90 271.10 621.62 270.74 C622.34 270.38 620.47 270.48 623.24 270.43 C626.02 270.38 635.78 270.43 638.29 270.43" stroke="#8cd8e8" stroke-width="0.75" fill="none" stroke-opacity="0.75"/>
<path d="M602.43 269.05 C602.57 269.05 602.03 268.58 603.24 269.05 C604.46 269.53 607.87 272.58 609.73 271.91 C611.59 271.24 612.85 265.15 614.38 265.04 C615.91 264.92 617.71 270.48 618.92 271.22 C620.13 271.95 620.90 269.80 621.62 269.44 C622.34 269.08 620.47 269.12 623.24 269.05 C626.02 268.99 635.78 269.05 638.29 269.05" stroke="#5fb0e0" stroke-width="0.75" fill="none" stroke-opacity="0.75"/>
<path d="M602.43 267.68 C602.57 267.68 602.03 267.21 603.24 267.68 C604.46 268.14 607.87 271.06 609.73 270.46 C611.59 269.85 612.85 264.15 614.38 264.05 C615.91 263.94 617.71 269.16 618.92 269.84 C620.13 270.52 620.90 268.50 621.62 268.14 C622.34 267.78 620.47 267.75 623.24 267.68 C626.02 267.60 635.78 267.68 638.29 267.68" stroke="#3b6fc0" stroke-width="0.75" fill="none" stroke-opacity="0.75"/>
<path d="M602.43 266.30 C602.57 266.30 602.03 265.85 603.24 266.30 C604.46 266.75 607.87 269.54 609.73 269.00 C611.59 268.46 612.85 263.14 614.38 263.05 C615.91 262.96 617.71 267.83 618.92 268.46 C620.13 269.09 620.90 267.20 621.62 266.84 C622.34 266.48 620.47 266.39 623.24 266.30 C626.02 266.21 635.78 266.30 638.29 266.30" stroke="#3a3a9a" stroke-width="0.75" fill="none" stroke-opacity="0.75"/>
<path d="M451.20 63.51 C452.47 63.57 457.00 63.93 458.81 63.84 C460.62 63.75 461.15 63.03 462.05 62.97 C462.95 62.92 463.41 63.60 464.22 63.51 C465.03 63.42 466.11 62.88 466.92 62.43 C467.73 61.98 468.36 60.18 469.08 60.81 C469.80 61.44 470.43 65.86 471.24 66.22 C472.05 66.58 472.99 64.56 473.95 62.97 C474.90 61.39 475.89 56.16 476.97 56.70 C478.05 57.24 479.32 65.17 480.43 66.22 C481.55 67.26 482.77 63.33 483.68 62.97 C484.58 62.61 484.94 64.05 485.84 64.05 C486.74 64.05 488.00 63.06 489.08 62.97 C490.16 62.88 491.24 63.48 492.32 63.51 C493.41 63.55 494.13 63.14 495.57 63.19 C497.01 63.24 499.40 63.78 500.97 63.84 C502.54 63.89 504.32 63.57 504.99 63.51" stroke="#2a2a2a" stroke-width="0.75" fill="none"/>
<path d="M518.00 63.51 C520.20 63.51 528.20 63.69 531.22 63.51 C534.23 63.33 534.55 62.07 536.08 62.43 C537.61 62.79 539.09 65.91 540.41 65.68 C541.72 65.44 542.80 61.12 543.97 61.03 C545.14 60.94 546.32 64.81 547.43 65.14 C548.55 65.46 549.59 63.19 550.68 62.97 C551.76 62.76 552.66 63.80 553.92 63.84 C555.18 63.87 556.80 63.24 558.24 63.19 C559.68 63.14 560.95 63.37 562.57 63.51 C564.19 63.66 566.44 64.05 567.97 64.05 C569.51 64.05 571.15 63.60 571.79 63.51" stroke="#2a2a2a" stroke-width="0.75" fill="none"/>
<path d="M584.50 63.51 C586.45 63.46 593.72 63.19 596.22 63.19 C598.71 63.19 598.47 63.19 599.46 63.51 C600.45 63.84 600.81 65.80 602.16 65.14 C603.51 64.47 606.04 59.06 607.57 59.51 C609.10 59.96 610.18 67.41 611.35 67.84 C612.52 68.27 613.51 62.83 614.59 62.11 C615.68 61.39 616.04 63.32 617.84 63.51 C619.64 63.71 622.00 63.30 625.41 63.30 C628.81 63.30 636.14 63.48 638.29 63.51" stroke="#6a6a6a" stroke-width="0.75" fill="none"/>
<path d="M451.20 104.05 C453.37 104.02 460.97 103.98 464.22 103.84 C467.47 103.69 469.08 103.24 470.70 103.19 C472.32 103.14 473.01 103.64 473.95 103.51 C474.88 103.39 475.69 102.07 476.32 102.43 C476.95 102.79 477.14 106.04 477.73 105.68 C478.32 105.32 479.05 100.18 479.89 100.27 C480.74 100.36 481.82 106.22 482.81 106.22 C483.80 106.22 484.79 100.27 485.84 100.27 C486.88 100.27 488.00 106.27 489.08 106.22 C490.16 106.16 491.30 99.95 492.32 99.95 C493.35 99.95 494.34 105.86 495.24 106.22 C496.14 106.58 496.92 102.38 497.73 102.11 C498.54 101.84 499.30 104.54 500.11 104.59 C500.92 104.65 501.78 102.52 502.59 102.43 C503.41 102.34 504.59 103.78 504.99 104.05" stroke="#2a2a2a" stroke-width="0.75" fill="none"/>
<path d="M518.00 104.05 C519.30 104.02 523.61 103.93 525.81 103.84 C528.01 103.75 529.86 103.30 531.22 103.51 C532.57 103.73 532.93 105.23 533.92 105.14 C534.91 105.05 536.08 102.61 537.16 102.97 C538.24 103.33 539.38 108.83 540.41 107.30 C541.43 105.77 542.33 93.69 543.32 93.78 C544.32 93.87 545.31 107.84 546.35 107.84 C547.40 107.84 548.51 93.78 549.59 93.78 C550.68 93.78 551.79 106.94 552.84 107.84 C553.88 108.74 554.87 99.46 555.86 99.19 C556.86 98.92 557.76 105.68 558.78 106.22 C559.81 106.76 561.13 102.61 562.03 102.43 C562.93 102.25 563.29 105.08 564.19 105.14 C565.09 105.19 566.17 102.94 567.43 102.76 C568.70 102.58 571.06 103.84 571.79 104.05" stroke="#2a2a2a" stroke-width="0.75" fill="none"/>
<path d="M584.50 104.05 C586.27 104.02 593.00 103.98 595.14 103.84 C597.27 103.69 596.40 103.19 597.30 103.19 C598.20 103.19 599.55 103.96 600.54 103.84 C601.53 103.71 602.34 101.77 603.24 102.43 C604.14 103.10 604.72 108.56 605.95 107.84 C607.17 107.12 609.15 97.93 610.59 98.11 C612.04 98.29 613.21 109.01 614.59 108.92 C615.98 108.83 617.66 98.02 618.92 97.57 C620.18 97.12 621.08 105.77 622.16 106.22 C623.24 106.67 624.41 100.27 625.41 100.27 C626.40 100.27 627.21 105.68 628.11 106.22 C629.01 106.76 629.82 103.78 630.81 103.51 C631.80 103.24 632.81 104.59 634.05 104.59 C635.30 104.59 637.58 103.69 638.29 103.51" stroke="#6a6a6a" stroke-width="0.75" fill="none"/>
<path d="M451.20 143.84 C455.89 143.84 474.66 143.84 479.35 143.84" stroke="#b4b4b4" stroke-width="1.3" fill="none"/>
<path d="M479.35 143.84 C479.89 143.73 481.42 143.24 482.59 143.19 C483.77 143.14 485.30 143.19 486.38 143.51 C487.46 143.84 487.82 145.68 489.08 145.14 C490.34 144.59 492.59 140.09 493.95 140.27 C495.30 140.45 496.02 145.91 497.19 146.22 C498.36 146.52 499.67 142.38 500.97 142.11 C502.27 141.84 504.32 144.18 504.99 144.59" stroke="#2a2a2a" stroke-width="0.75" fill="none"/>
<path d="M518.00 144.05 C522.73 144.05 541.63 144.05 546.35 144.05" stroke="#b4b4b4" stroke-width="1.3" fill="none"/>
<path d="M546.35 143.84 C546.53 143.73 546.35 143.30 547.43 143.19 C548.51 143.08 551.40 142.77 552.84 143.19 C554.28 143.60 554.82 146.07 556.08 145.68 C557.34 145.28 558.93 140.63 560.41 140.81 C561.88 140.99 563.41 146.76 564.95 146.76 C566.48 146.76 568.45 141.26 569.59 140.81 C570.74 140.36 571.42 143.51 571.79 144.05" stroke="#2a2a2a" stroke-width="0.75" fill="none"/>
<path d="M584.50 143.84 C589.70 143.84 610.48 143.84 615.68 143.84" stroke="#b4b4b4" stroke-width="1.3" fill="none"/>
<path d="M615.68 143.84 C616.13 143.78 617.48 143.33 618.38 143.51 C619.28 143.69 619.82 145.28 621.08 144.92 C622.34 144.56 624.59 141.14 625.95 141.35 C627.30 141.57 628.02 145.98 629.19 146.22 C630.36 146.45 631.46 143.12 632.97 142.76 C634.49 142.40 637.40 143.84 638.29 144.05" stroke="#6a6a6a" stroke-width="0.75" fill="none"/>
<path d="M451.20 183.51 C452.65 183.46 458.08 183.32 459.89 183.19 C461.70 183.06 461.15 182.70 462.05 182.76 C462.95 182.81 464.31 183.57 465.30 183.51 C466.29 183.46 467.19 182.16 468.00 182.43 C468.81 182.70 469.32 185.86 470.16 185.14 C471.01 184.41 472.09 177.75 473.08 178.11 C474.07 178.47 474.97 186.85 476.11 187.30 C477.24 187.75 478.72 181.35 479.89 180.81 C481.06 180.27 482.14 183.66 483.14 184.05 C484.13 184.45 484.49 183.28 485.84 183.19 C487.19 183.10 489.08 183.46 491.24 183.51 C493.41 183.57 497.19 183.60 498.81 183.51 C500.43 183.42 499.94 182.97 500.97 182.97 C502.00 182.97 504.32 183.42 504.99 183.51" stroke="#2a2a2a" stroke-width="0.75" fill="none"/>
<path d="M518.00 183.51 C519.66 183.46 524.87 183.14 527.97 183.19 C531.08 183.24 534.55 184.05 536.62 183.84 C538.69 183.62 539.23 181.77 540.41 181.89 C541.58 182.02 542.57 184.50 543.65 184.59 C544.73 184.68 545.72 182.52 546.89 182.43 C548.06 182.34 549.32 184.05 550.68 184.05 C552.03 184.05 553.74 182.52 555.00 182.43 C556.26 182.34 556.80 183.33 558.24 183.51 C559.68 183.69 561.39 183.51 563.65 183.51 C565.91 183.51 570.43 183.51 571.79 183.51" stroke="#2a2a2a" stroke-width="0.75" fill="none"/>
<path d="M584.50 183.51 C585.73 183.50 590.30 183.53 591.89 183.41 C593.48 183.28 593.33 182.74 594.05 182.76 C594.77 182.77 594.86 183.30 596.22 183.51 C597.57 183.73 600.27 184.72 602.16 184.05 C604.05 183.39 606.04 179.01 607.57 179.51 C609.10 180.02 610.00 186.77 611.35 187.08 C612.70 187.39 614.41 181.95 615.68 181.35 C616.94 180.76 615.15 183.15 618.92 183.51 C622.69 183.87 635.06 183.51 638.29 183.51" stroke="#6a6a6a" stroke-width="0.75" fill="none"/>
<path d="M451.20 223.05 C454.27 223.05 465.47 223.09 469.62 223.05 C473.77 223.02 474.49 222.98 476.11 222.84 C477.73 222.69 478.00 221.61 479.35 222.19 C480.70 222.77 482.68 226.51 484.22 226.30 C485.75 226.08 487.10 221.07 488.54 220.89 C489.98 220.71 491.60 224.86 492.86 225.22 C494.13 225.58 494.94 223.32 496.11 223.05 C497.28 222.78 498.41 223.59 499.89 223.59 C501.37 223.59 504.14 223.14 504.99 223.05" stroke="#2a2a2a" stroke-width="0.75" fill="none"/>
<path d="M518.00 223.59 C521.10 223.56 532.08 223.47 536.62 223.38 C541.17 223.29 542.75 222.75 545.27 223.05 C547.79 223.36 550.14 225.54 551.76 225.22 C553.38 224.89 553.83 221.02 555.00 221.11 C556.17 221.20 557.61 225.58 558.78 225.76 C559.95 225.94 560.95 222.46 562.03 222.19 C563.11 221.92 564.19 223.99 565.27 224.14 C566.35 224.28 567.43 223.05 568.51 223.05 C569.60 223.05 571.24 223.95 571.79 224.14" stroke="#2a2a2a" stroke-width="0.75" fill="none"/>
<path d="M584.50 223.27 C589.16 223.27 607.24 223.13 612.43 223.27 C617.63 223.41 614.32 224.50 615.68 224.14 C617.03 223.77 619.10 220.78 620.54 221.11 C621.98 221.43 623.15 225.90 624.32 226.08 C625.50 226.26 626.49 222.51 627.57 222.19 C628.65 221.86 629.73 223.99 630.81 224.14 C631.89 224.28 632.81 223.14 634.05 223.05 C635.30 222.96 637.58 223.50 638.29 223.59" stroke="#6a6a6a" stroke-width="0.75" fill="none"/>
<path d="M451.20 263.27 C454.09 263.27 465.20 263.34 468.54 263.27 C471.88 263.20 470.34 262.69 471.24 262.84 C472.14 262.98 472.86 264.55 473.95 264.14 C475.03 263.72 476.65 260.35 477.73 260.35 C478.81 260.35 479.26 263.95 480.43 264.14 C481.60 264.32 483.41 261.52 484.76 261.43 C486.11 261.34 487.37 262.96 488.54 263.59 C489.71 264.23 490.70 265.45 491.78 265.22 C492.86 264.98 493.95 262.37 495.03 262.19 C496.11 262.01 497.19 264.14 498.27 264.14 C499.35 264.14 500.39 262.19 501.51 262.19 C502.63 262.19 504.41 263.81 504.99 264.14" stroke="#2a2a2a" stroke-width="0.75" fill="none"/>
<path d="M518.00 263.27 C520.56 263.27 530.45 263.13 533.38 263.27 C536.30 263.41 534.28 263.99 535.54 264.14 C536.80 264.28 539.41 265.04 540.95 264.14 C542.48 263.23 543.38 257.65 544.73 258.73 C546.08 259.81 547.70 271.16 549.05 270.62 C550.41 270.08 551.58 256.03 552.84 255.49 C554.10 254.95 555.45 266.75 556.62 267.38 C557.79 268.01 558.78 259.45 559.86 259.27 C560.95 259.09 562.03 265.94 563.11 266.30 C564.19 266.66 565.36 261.79 566.35 261.43 C567.34 261.07 568.15 263.86 569.05 264.14 C569.96 264.41 571.33 263.23 571.79 263.05" stroke="#2a2a2a" stroke-width="0.75" fill="none"/>
<path d="M584.50 263.27 C586.99 263.27 596.34 263.34 599.46 263.27 C602.58 263.20 601.98 262.60 603.24 262.84 C604.50 263.07 605.68 264.86 607.03 264.68 C608.38 264.50 610.18 262.03 611.35 261.76 C612.52 261.49 612.88 263.16 614.05 263.05 C615.23 262.95 617.12 260.75 618.38 261.11 C619.64 261.47 620.45 265.16 621.62 265.22 C622.79 265.27 624.23 261.61 625.41 261.43 C626.58 261.25 627.57 263.90 628.65 264.14 C629.73 264.37 630.28 262.93 631.89 262.84 C633.50 262.75 637.22 263.47 638.29 263.59" stroke="#6a6a6a" stroke-width="0.75" fill="none"/>
<line x1="450.80" y1="53.10" x2="505.39" y2="53.10" stroke="#231f20" stroke-width="1.1"/>
<line x1="451.20" y1="53.10" x2="451.20" y2="49.10" stroke="#231f20" stroke-width="0.7"/>
<line x1="454.79" y1="53.10" x2="454.79" y2="51.20" stroke="#231f20" stroke-width="0.7"/>
<line x1="458.37" y1="53.10" x2="458.37" y2="51.20" stroke="#231f20" stroke-width="0.7"/>
<line x1="461.96" y1="53.10" x2="461.96" y2="51.20" stroke="#231f20" stroke-width="0.7"/>
<line x1="465.54" y1="53.10" x2="465.54" y2="51.20" stroke="#231f20" stroke-width="0.7"/>
<line x1="469.13" y1="53.10" x2="469.13" y2="49.10" stroke="#231f20" stroke-width="0.7"/>
<line x1="472.72" y1="53.10" x2="472.72" y2="51.20" stroke="#231f20" stroke-width="0.7"/>
<line x1="476.30" y1="53.10" x2="476.30" y2="51.20" stroke="#231f20" stroke-width="0.7"/>
<line x1="479.89" y1="53.10" x2="479.89" y2="51.20" stroke="#231f20" stroke-width="0.7"/>
<line x1="483.47" y1="53.10" x2="483.47" y2="51.20" stroke="#231f20" stroke-width="0.7"/>
<line x1="487.06" y1="53.10" x2="487.06" y2="49.10" stroke="#231f20" stroke-width="0.7"/>
<line x1="490.65" y1="53.10" x2="490.65" y2="51.20" stroke="#231f20" stroke-width="0.7"/>
<line x1="494.23" y1="53.10" x2="494.23" y2="51.20" stroke="#231f20" stroke-width="0.7"/>
<line x1="497.82" y1="53.10" x2="497.82" y2="51.20" stroke="#231f20" stroke-width="0.7"/>
<line x1="501.40" y1="53.10" x2="501.40" y2="51.20" stroke="#231f20" stroke-width="0.7"/>
<line x1="504.99" y1="53.10" x2="504.99" y2="49.10" stroke="#231f20" stroke-width="0.7"/>
<text x="451.50" y="44.40" font-size="10.86" text-anchor="middle" fill="#231f20" textLength="5.10" lengthAdjust="spacingAndGlyphs">0</text>
<text x="469.13" y="44.40" font-size="10.86" text-anchor="middle" fill="#231f20" textLength="10.30" lengthAdjust="spacingAndGlyphs">10</text>
<text x="487.06" y="44.40" font-size="10.86" text-anchor="middle" fill="#231f20" textLength="10.30" lengthAdjust="spacingAndGlyphs">20</text>
<text x="504.99" y="44.40" font-size="10.86" text-anchor="middle" fill="#231f20" textLength="10.30" lengthAdjust="spacingAndGlyphs">30</text>
<text x="478.30" y="29.90" font-size="11.33" text-anchor="middle" fill="#231f20" textLength="35.20" lengthAdjust="spacingAndGlyphs">Time (s)</text>
<line x1="517.60" y1="53.10" x2="572.19" y2="53.10" stroke="#231f20" stroke-width="1.1"/>
<line x1="518.00" y1="53.10" x2="518.00" y2="49.10" stroke="#231f20" stroke-width="0.7"/>
<line x1="521.59" y1="53.10" x2="521.59" y2="51.20" stroke="#231f20" stroke-width="0.7"/>
<line x1="525.17" y1="53.10" x2="525.17" y2="51.20" stroke="#231f20" stroke-width="0.7"/>
<line x1="528.76" y1="53.10" x2="528.76" y2="51.20" stroke="#231f20" stroke-width="0.7"/>
<line x1="532.34" y1="53.10" x2="532.34" y2="51.20" stroke="#231f20" stroke-width="0.7"/>
<line x1="535.93" y1="53.10" x2="535.93" y2="49.10" stroke="#231f20" stroke-width="0.7"/>
<line x1="539.52" y1="53.10" x2="539.52" y2="51.20" stroke="#231f20" stroke-width="0.7"/>
<line x1="543.10" y1="53.10" x2="543.10" y2="51.20" stroke="#231f20" stroke-width="0.7"/>
<line x1="546.69" y1="53.10" x2="546.69" y2="51.20" stroke="#231f20" stroke-width="0.7"/>
<line x1="550.27" y1="53.10" x2="550.27" y2="51.20" stroke="#231f20" stroke-width="0.7"/>
<line x1="553.86" y1="53.10" x2="553.86" y2="49.10" stroke="#231f20" stroke-width="0.7"/>
<line x1="557.45" y1="53.10" x2="557.45" y2="51.20" stroke="#231f20" stroke-width="0.7"/>
<line x1="561.03" y1="53.10" x2="561.03" y2="51.20" stroke="#231f20" stroke-width="0.7"/>
<line x1="564.62" y1="53.10" x2="564.62" y2="51.20" stroke="#231f20" stroke-width="0.7"/>
<line x1="568.20" y1="53.10" x2="568.20" y2="51.20" stroke="#231f20" stroke-width="0.7"/>
<line x1="571.79" y1="53.10" x2="571.79" y2="49.10" stroke="#231f20" stroke-width="0.7"/>
<text x="518.30" y="44.40" font-size="10.86" text-anchor="middle" fill="#231f20" textLength="5.10" lengthAdjust="spacingAndGlyphs">0</text>
<text x="535.93" y="44.40" font-size="10.86" text-anchor="middle" fill="#231f20" textLength="10.30" lengthAdjust="spacingAndGlyphs">10</text>
<text x="553.86" y="44.40" font-size="10.86" text-anchor="middle" fill="#231f20" textLength="10.30" lengthAdjust="spacingAndGlyphs">20</text>
<text x="571.79" y="44.40" font-size="10.86" text-anchor="middle" fill="#231f20" textLength="10.30" lengthAdjust="spacingAndGlyphs">30</text>
<text x="545.10" y="29.90" font-size="11.33" text-anchor="middle" fill="#231f20" textLength="35.20" lengthAdjust="spacingAndGlyphs">Time (s)</text>
<line x1="584.10" y1="53.10" x2="638.69" y2="53.10" stroke="#231f20" stroke-width="1.1"/>
<line x1="584.50" y1="53.10" x2="584.50" y2="49.10" stroke="#231f20" stroke-width="0.7"/>
<line x1="588.09" y1="53.10" x2="588.09" y2="51.20" stroke="#231f20" stroke-width="0.7"/>
<line x1="591.67" y1="53.10" x2="591.67" y2="51.20" stroke="#231f20" stroke-width="0.7"/>
<line x1="595.26" y1="53.10" x2="595.26" y2="51.20" stroke="#231f20" stroke-width="0.7"/>
<line x1="598.84" y1="53.10" x2="598.84" y2="51.20" stroke="#231f20" stroke-width="0.7"/>
<line x1="602.43" y1="53.10" x2="602.43" y2="49.10" stroke="#231f20" stroke-width="0.7"/>
<line x1="606.02" y1="53.10" x2="606.02" y2="51.20" stroke="#231f20" stroke-width="0.7"/>
<line x1="609.60" y1="53.10" x2="609.60" y2="51.20" stroke="#231f20" stroke-width="0.7"/>
<line x1="613.19" y1="53.10" x2="613.19" y2="51.20" stroke="#231f20" stroke-width="0.7"/>
<line x1="616.77" y1="53.10" x2="616.77" y2="51.20" stroke="#231f20" stroke-width="0.7"/>
<line x1="620.36" y1="53.10" x2="620.36" y2="49.10" stroke="#231f20" stroke-width="0.7"/>
<line x1="623.95" y1="53.10" x2="623.95" y2="51.20" stroke="#231f20" stroke-width="0.7"/>
<line x1="627.53" y1="53.10" x2="627.53" y2="51.20" stroke="#231f20" stroke-width="0.7"/>
<line x1="631.12" y1="53.10" x2="631.12" y2="51.20" stroke="#231f20" stroke-width="0.7"/>
<line x1="634.70" y1="53.10" x2="634.70" y2="51.20" stroke="#231f20" stroke-width="0.7"/>
<line x1="638.29" y1="53.10" x2="638.29" y2="49.10" stroke="#231f20" stroke-width="0.7"/>
<text x="584.80" y="44.40" font-size="10.86" text-anchor="middle" fill="#231f20" textLength="5.10" lengthAdjust="spacingAndGlyphs">0</text>
<text x="602.43" y="44.40" font-size="10.86" text-anchor="middle" fill="#231f20" textLength="10.30" lengthAdjust="spacingAndGlyphs">10</text>
<text x="620.36" y="44.40" font-size="10.86" text-anchor="middle" fill="#231f20" textLength="10.30" lengthAdjust="spacingAndGlyphs">20</text>
<text x="638.29" y="44.40" font-size="10.86" text-anchor="middle" fill="#231f20" textLength="10.30" lengthAdjust="spacingAndGlyphs">30</text>
<text x="611.60" y="29.90" font-size="11.33" text-anchor="middle" fill="#231f20" textLength="35.20" lengthAdjust="spacingAndGlyphs">Time (s)</text>
<text x="439.40" y="37.90" font-size="11.09" text-anchor="middle" fill="#231f20" textLength="10.60" lengthAdjust="spacingAndGlyphs">(c)</text>
<line x1="638.30" y1="53.30" x2="638.30" y2="80.50" stroke="#231f20" stroke-width="1.2"/>
<line x1="638.30" y1="53.30" x2="643.10" y2="53.30" stroke="#231f20" stroke-width="0.8"/>
<line x1="638.30" y1="66.90" x2="643.10" y2="66.90" stroke="#231f20" stroke-width="0.8"/>
<line x1="638.30" y1="80.50" x2="643.10" y2="80.50" stroke="#231f20" stroke-width="0.8"/>
<line x1="638.30" y1="56.70" x2="640.90" y2="56.70" stroke="#231f20" stroke-width="0.7"/>
<line x1="638.30" y1="60.10" x2="640.90" y2="60.10" stroke="#231f20" stroke-width="0.7"/>
<line x1="638.30" y1="63.50" x2="640.90" y2="63.50" stroke="#231f20" stroke-width="0.7"/>
<line x1="638.30" y1="70.30" x2="640.90" y2="70.30" stroke="#231f20" stroke-width="0.7"/>
<line x1="638.30" y1="73.70" x2="640.90" y2="73.70" stroke="#231f20" stroke-width="0.7"/>
<line x1="638.30" y1="77.10" x2="640.90" y2="77.10" stroke="#231f20" stroke-width="0.7"/>
<text x="659.20" y="57.40" font-size="10.86" text-anchor="end" fill="#231f20" textLength="5.10" lengthAdjust="spacingAndGlyphs">2</text>
<text x="659.20" y="71.00" font-size="10.86" text-anchor="end" fill="#231f20" textLength="5.10" lengthAdjust="spacingAndGlyphs">0</text>
<text x="659.20" y="84.60" font-size="10.86" text-anchor="end" fill="#231f20" textLength="11.00" lengthAdjust="spacingAndGlyphs">−2</text>
<line x1="638.30" y1="93.54" x2="638.30" y2="120.24" stroke="#231f20" stroke-width="1.2"/>
<line x1="638.30" y1="93.54" x2="643.10" y2="93.54" stroke="#231f20" stroke-width="0.8"/>
<line x1="638.30" y1="106.89" x2="643.10" y2="106.89" stroke="#555" stroke-width="0.8"/>
<line x1="638.30" y1="120.24" x2="643.10" y2="120.24" stroke="#231f20" stroke-width="0.8"/>
<text x="667.20" y="97.64" font-size="10.86" text-anchor="end" fill="#231f20" textLength="13.00" lengthAdjust="spacingAndGlyphs">0.5</text>
<text x="667.20" y="110.99" font-size="10.86" text-anchor="end" fill="#231f20" textLength="13.00" lengthAdjust="spacingAndGlyphs">0.0</text>
<text x="667.20" y="124.34" font-size="10.86" text-anchor="end" fill="#231f20" textLength="19.00" lengthAdjust="spacingAndGlyphs">−0.5</text>
<line x1="638.30" y1="133.28" x2="638.30" y2="159.98" stroke="#231f20" stroke-width="1.2"/>
<line x1="638.30" y1="133.28" x2="643.10" y2="133.28" stroke="#231f20" stroke-width="0.8"/>
<line x1="638.30" y1="146.63" x2="643.10" y2="146.63" stroke="#555" stroke-width="0.8"/>
<line x1="638.30" y1="159.98" x2="643.10" y2="159.98" stroke="#231f20" stroke-width="0.8"/>
<text x="667.20" y="137.38" font-size="10.86" text-anchor="end" fill="#231f20" textLength="13.00" lengthAdjust="spacingAndGlyphs">0.5</text>
<text x="667.20" y="150.73" font-size="10.86" text-anchor="end" fill="#231f20" textLength="13.00" lengthAdjust="spacingAndGlyphs">0.0</text>
<text x="667.20" y="164.08" font-size="10.86" text-anchor="end" fill="#231f20" textLength="19.00" lengthAdjust="spacingAndGlyphs">−0.5</text>
<line x1="638.30" y1="173.02" x2="638.30" y2="199.72" stroke="#231f20" stroke-width="1.2"/>
<line x1="638.30" y1="173.02" x2="643.10" y2="173.02" stroke="#231f20" stroke-width="0.8"/>
<line x1="638.30" y1="186.37" x2="643.10" y2="186.37" stroke="#231f20" stroke-width="0.8"/>
<line x1="638.30" y1="199.72" x2="643.10" y2="199.72" stroke="#231f20" stroke-width="0.8"/>
<line x1="638.30" y1="176.36" x2="640.90" y2="176.36" stroke="#231f20" stroke-width="0.7"/>
<line x1="638.30" y1="179.69" x2="640.90" y2="179.69" stroke="#231f20" stroke-width="0.7"/>
<line x1="638.30" y1="183.03" x2="640.90" y2="183.03" stroke="#231f20" stroke-width="0.7"/>
<line x1="638.30" y1="189.71" x2="640.90" y2="189.71" stroke="#231f20" stroke-width="0.7"/>
<line x1="638.30" y1="193.04" x2="640.90" y2="193.04" stroke="#231f20" stroke-width="0.7"/>
<line x1="638.30" y1="196.38" x2="640.90" y2="196.38" stroke="#231f20" stroke-width="0.7"/>
<text x="659.20" y="177.12" font-size="10.86" text-anchor="end" fill="#231f20" textLength="5.10" lengthAdjust="spacingAndGlyphs">2</text>
<text x="659.20" y="190.47" font-size="10.86" text-anchor="end" fill="#231f20" textLength="5.10" lengthAdjust="spacingAndGlyphs">0</text>
<text x="659.20" y="203.82" font-size="10.86" text-anchor="end" fill="#231f20" textLength="11.00" lengthAdjust="spacingAndGlyphs">−2</text>
<line x1="638.30" y1="212.76" x2="638.30" y2="239.46" stroke="#231f20" stroke-width="1.2"/>
<line x1="638.30" y1="212.76" x2="643.10" y2="212.76" stroke="#231f20" stroke-width="0.8"/>
<line x1="638.30" y1="226.11" x2="643.10" y2="226.11" stroke="#555" stroke-width="0.8"/>
<line x1="638.30" y1="239.46" x2="643.10" y2="239.46" stroke="#231f20" stroke-width="0.8"/>
<text x="667.20" y="216.86" font-size="10.86" text-anchor="end" fill="#231f20" textLength="13.00" lengthAdjust="spacingAndGlyphs">0.5</text>
<text x="667.20" y="230.21" font-size="10.86" text-anchor="end" fill="#231f20" textLength="13.00" lengthAdjust="spacingAndGlyphs">0.0</text>
<text x="667.20" y="243.56" font-size="10.86" text-anchor="end" fill="#231f20" textLength="19.00" lengthAdjust="spacingAndGlyphs">−0.5</text>
<line x1="638.30" y1="252.50" x2="638.30" y2="279.20" stroke="#231f20" stroke-width="1.2"/>
<line x1="638.30" y1="252.50" x2="643.10" y2="252.50" stroke="#231f20" stroke-width="0.8"/>
<line x1="638.30" y1="265.85" x2="643.10" y2="265.85" stroke="#555" stroke-width="0.8"/>
<line x1="638.30" y1="279.20" x2="643.10" y2="279.20" stroke="#231f20" stroke-width="0.8"/>
<text x="667.20" y="256.60" font-size="10.86" text-anchor="end" fill="#231f20" textLength="13.00" lengthAdjust="spacingAndGlyphs">0.5</text>
<text x="667.20" y="269.95" font-size="10.86" text-anchor="end" fill="#231f20" textLength="13.00" lengthAdjust="spacingAndGlyphs">0.0</text>
<text x="667.20" y="283.30" font-size="10.86" text-anchor="end" fill="#231f20" textLength="19.00" lengthAdjust="spacingAndGlyphs">−0.5</text>
<text x="682.60" y="103.90" font-size="10.86" text-anchor="middle" fill="#231f20" textLength="42.50" lengthAdjust="spacingAndGlyphs" transform="rotate(-90 682.60 103.90)">Vel. (cm/s)</text>
<text x="440.00" y="73.00" font-size="9.2" text-anchor="start" fill="#231f20" textLength="22.90" lengthAdjust="spacingAndGlyphs">ISK001</text>
<text x="440.00" y="112.80" font-size="9.2" text-anchor="start" fill="#231f20" textLength="22.90" lengthAdjust="spacingAndGlyphs">ISK002</text>
<text x="440.00" y="152.60" font-size="9.2" text-anchor="start" fill="#231f20" textLength="22.90" lengthAdjust="spacingAndGlyphs">ISK003</text>
<text x="440.00" y="192.40" font-size="9.2" text-anchor="start" fill="#231f20" textLength="22.90" lengthAdjust="spacingAndGlyphs">ISKH01</text>
<text x="440.00" y="232.20" font-size="9.2" text-anchor="start" fill="#231f20" textLength="22.90" lengthAdjust="spacingAndGlyphs">ISKH02</text>
<text x="440.00" y="272.00" font-size="9.2" text-anchor="start" fill="#231f20" textLength="22.90" lengthAdjust="spacingAndGlyphs">ISKH03</text>
<text x="432.00" y="63.80" font-size="9.91" text-anchor="start" fill="#231f20" textLength="15.00" lengthAdjust="spacingAndGlyphs">obs.</text>
<text x="483.30" y="285.60" font-size="10.86" text-anchor="middle" fill="#231f20" textLength="12.00" lengthAdjust="spacingAndGlyphs">EW</text>
<text x="549.80" y="285.60" font-size="10.86" text-anchor="middle" fill="#231f20" textLength="12.00" lengthAdjust="spacingAndGlyphs">NS</text>
<text x="616.00" y="285.60" font-size="10.86" text-anchor="middle" fill="#231f20" textLength="12.00" lengthAdjust="spacingAndGlyphs">UD</text>
<rect x="471.30" y="292.80" width="7.68" height="6.90" fill="#3a3a9a"/>
<line x1="475.04" y1="299.70" x2="475.04" y2="304.10" stroke="#444" stroke-width="0.7"/>
<text x="475.04" y="315.70" font-size="10.86" text-anchor="middle" fill="#231f20" textLength="5.00" lengthAdjust="spacingAndGlyphs">0</text>
<rect x="478.78" y="292.80" width="7.68" height="6.90" fill="#3b6fc0"/>
<line x1="482.52" y1="299.70" x2="482.52" y2="304.10" stroke="#444" stroke-width="0.7"/>
<text x="482.52" y="315.70" font-size="10.86" text-anchor="middle" fill="#231f20" textLength="5.00" lengthAdjust="spacingAndGlyphs">1</text>
<rect x="486.26" y="292.80" width="7.68" height="6.90" fill="#5fb0e0"/>
<line x1="489.99" y1="299.70" x2="489.99" y2="304.10" stroke="#444" stroke-width="0.7"/>
<text x="489.99" y="315.70" font-size="10.86" text-anchor="middle" fill="#231f20" textLength="5.00" lengthAdjust="spacingAndGlyphs">2</text>
<rect x="493.73" y="292.80" width="7.68" height="6.90" fill="#8cd8e8"/>
<line x1="497.47" y1="299.70" x2="497.47" y2="304.10" stroke="#444" stroke-width="0.7"/>
<text x="497.47" y="315.70" font-size="10.86" text-anchor="middle" fill="#231f20" textLength="5.00" lengthAdjust="spacingAndGlyphs">3</text>
<rect x="501.21" y="292.80" width="7.68" height="6.90" fill="#96cc1a"/>
<line x1="504.95" y1="299.70" x2="504.95" y2="304.10" stroke="#444" stroke-width="0.7"/>
<text x="504.95" y="315.70" font-size="10.86" text-anchor="middle" fill="#231f20" textLength="5.00" lengthAdjust="spacingAndGlyphs">4</text>
<rect x="508.69" y="292.80" width="7.68" height="6.90" fill="#f5e54a"/>
<line x1="512.43" y1="299.70" x2="512.43" y2="304.10" stroke="#444" stroke-width="0.7"/>
<text x="512.43" y="315.70" font-size="10.86" text-anchor="middle" fill="#231f20" textLength="5.00" lengthAdjust="spacingAndGlyphs">5</text>
<rect x="516.17" y="292.80" width="7.68" height="6.90" fill="#f59a3a"/>
<line x1="519.91" y1="299.70" x2="519.91" y2="304.10" stroke="#444" stroke-width="0.7"/>
<text x="519.91" y="315.70" font-size="10.86" text-anchor="middle" fill="#231f20" textLength="5.00" lengthAdjust="spacingAndGlyphs">6</text>
<rect x="523.64" y="292.80" width="7.68" height="6.90" fill="#e8344a"/>
<line x1="527.38" y1="299.70" x2="527.38" y2="304.10" stroke="#444" stroke-width="0.7"/>
<text x="527.38" y="315.70" font-size="10.86" text-anchor="middle" fill="#231f20" textLength="5.00" lengthAdjust="spacingAndGlyphs">7</text>
<rect x="531.12" y="292.80" width="7.68" height="6.90" fill="#e8a0d8"/>
<line x1="534.86" y1="299.70" x2="534.86" y2="304.10" stroke="#444" stroke-width="0.7"/>
<text x="534.86" y="315.70" font-size="10.86" text-anchor="middle" fill="#231f20" textLength="5.00" lengthAdjust="spacingAndGlyphs">8</text>
<rect x="471.30" y="292.80" width="67.30" height="6.90" fill="none" stroke="#231f20" stroke-width="1.0"/>
<text x="542.30" y="299.90" font-size="11.33" text-anchor="start" fill="#231f20" textLength="63.00" lengthAdjust="spacingAndGlyphs">Model (81) 3x</text>
</svg>
</body></html>
